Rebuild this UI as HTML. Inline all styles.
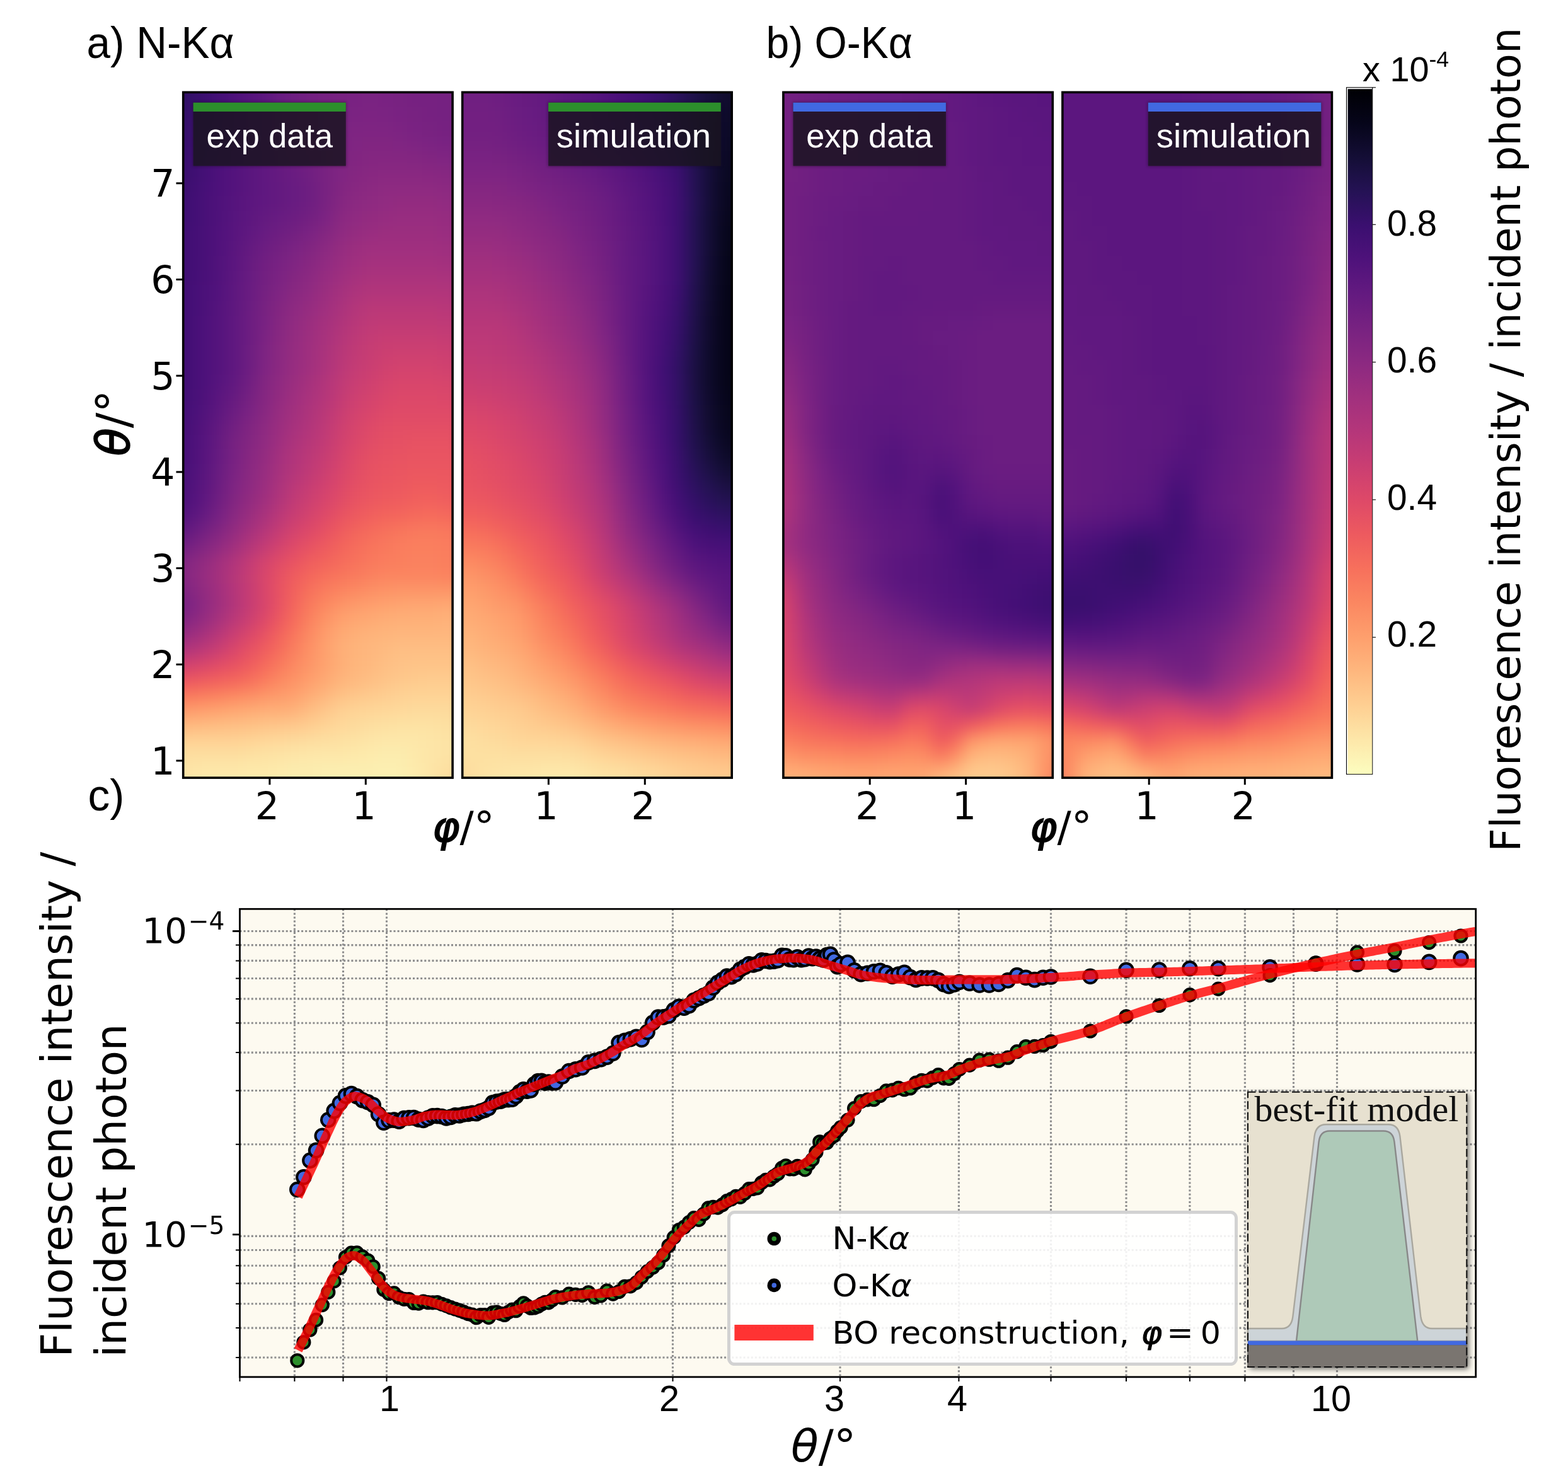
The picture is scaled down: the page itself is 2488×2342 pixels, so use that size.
<!DOCTYPE html>
<html><head><meta charset="utf-8"><title>Figure</title>
<style>
html,body{margin:0;padding:0;background:#fff;}
svg{display:block}
text{white-space:pre}
.hm rect{width:25px;height:25px}
.dj{font-family:"DejaVu Sans","Liberation Sans",sans-serif}
.ls{font-family:"Liberation Sans","DejaVu Sans",sans-serif}
.lr{font-family:"Liberation Serif","DejaVu Serif",serif}
</style></head><body>
<svg width="2488" height="2342" viewBox="0 0 2488 2342">
<rect width="2488" height="2342" fill="#fff"/>
<defs>
<filter id="bl" x="-10%" y="-5%" width="120%" height="110%" color-interpolation-filters="sRGB"><feGaussianBlur stdDeviation="11"/></filter>
<filter id="sh" x="-20%" y="-20%" width="140%" height="140%"><feGaussianBlur stdDeviation="2.2"/></filter>
<filter id="sh2" x="-20%" y="-20%" width="140%" height="140%"><feGaussianBlur stdDeviation="5"/></filter>
<clipPath id="cP1"><rect x="290.7" y="146.4" width="427.4" height="1087.7"/></clipPath>
<clipPath id="cP2"><rect x="733.7" y="146.4" width="427.5" height="1087.7"/></clipPath>
<clipPath id="cP3"><rect x="1242.9" y="146.4" width="427.4" height="1087.7"/></clipPath>
<clipPath id="cP4"><rect x="1685.9" y="146.4" width="427.5" height="1087.7"/></clipPath>
<linearGradient id="cb" x1="0" y1="0" x2="0" y2="1"><stop offset="0.00" stop-color="#000004"/><stop offset="0.05" stop-color="#06051a"/><stop offset="0.10" stop-color="#140e36"/><stop offset="0.15" stop-color="#251255"/><stop offset="0.20" stop-color="#3b0f70"/><stop offset="0.25" stop-color="#4f127b"/><stop offset="0.30" stop-color="#641a80"/><stop offset="0.35" stop-color="#782281"/><stop offset="0.40" stop-color="#8c2981"/><stop offset="0.45" stop-color="#a1307e"/><stop offset="0.50" stop-color="#b5367a"/><stop offset="0.55" stop-color="#ca3e72"/><stop offset="0.60" stop-color="#de4968"/><stop offset="0.65" stop-color="#ed5a5f"/><stop offset="0.70" stop-color="#f7705c"/><stop offset="0.75" stop-color="#fb8761"/><stop offset="0.80" stop-color="#fe9f6d"/><stop offset="0.85" stop-color="#feb77e"/><stop offset="0.90" stop-color="#fecf92"/><stop offset="0.95" stop-color="#fde7a9"/><stop offset="1.00" stop-color="#fcfdbf"/></linearGradient>
<clipPath id="cplot"><rect x="380.5" y="1442.3" width="1961.2" height="742.6"/></clipPath>
</defs>
<g clip-path="url(#cP1)"><g filter="url(#bl)" shape-rendering="crispEdges" class="hm">
<g transform="translate(0 99)"><rect x="243" fill="#2d1161"/><rect x="266" fill="#2d1161"/><rect x="290" fill="#331067"/><rect x="314" fill="#3d0f71"/><rect x="338" fill="#451077"/><rect x="361" fill="#4e117b"/><rect x="385" fill="#56147d"/><rect x="409" fill="#5d177f"/><rect x="433" fill="#671b80"/><rect x="456" fill="#6e1e81"/><rect x="480" fill="#721f81"/><rect x="504" fill="#752181"/><rect x="528" fill="#782281"/><rect x="551" fill="#792282"/><rect x="575" fill="#792282"/><rect x="599" fill="#792282"/><rect x="623" fill="#782281"/><rect x="646" fill="#762181"/><rect x="670" fill="#762181"/><rect x="694" fill="#752181"/><rect x="718" fill="#752181"/><rect x="741" fill="#752181"/></g>
<g transform="translate(0 122)"><rect x="243" fill="#2d1161"/><rect x="266" fill="#2d1161"/><rect x="290" fill="#331067"/><rect x="314" fill="#3d0f71"/><rect x="338" fill="#451077"/><rect x="361" fill="#4e117b"/><rect x="385" fill="#56147d"/><rect x="409" fill="#5d177f"/><rect x="433" fill="#671b80"/><rect x="456" fill="#6e1e81"/><rect x="480" fill="#721f81"/><rect x="504" fill="#752181"/><rect x="528" fill="#782281"/><rect x="551" fill="#792282"/><rect x="575" fill="#792282"/><rect x="599" fill="#792282"/><rect x="623" fill="#782281"/><rect x="646" fill="#762181"/><rect x="670" fill="#762181"/><rect x="694" fill="#752181"/><rect x="718" fill="#752181"/><rect x="741" fill="#752181"/></g>
<g transform="translate(0 146)"><rect x="243" fill="#2f1163"/><rect x="266" fill="#2f1163"/><rect x="290" fill="#341069"/><rect x="314" fill="#3d0f71"/><rect x="338" fill="#451077"/><rect x="361" fill="#4e117b"/><rect x="385" fill="#56147d"/><rect x="409" fill="#5d177f"/><rect x="433" fill="#681c81"/><rect x="456" fill="#6e1e81"/><rect x="480" fill="#732081"/><rect x="504" fill="#762181"/><rect x="528" fill="#782281"/><rect x="551" fill="#792282"/><rect x="575" fill="#7b2382"/><rect x="599" fill="#792282"/><rect x="623" fill="#782281"/><rect x="646" fill="#762181"/><rect x="670" fill="#762181"/><rect x="694" fill="#752181"/><rect x="718" fill="#752181"/><rect x="741" fill="#752181"/></g>
<g transform="translate(0 170)"><rect x="243" fill="#311165"/><rect x="266" fill="#311165"/><rect x="290" fill="#36106b"/><rect x="314" fill="#3f0f72"/><rect x="338" fill="#491078"/><rect x="361" fill="#51127c"/><rect x="385" fill="#59157e"/><rect x="409" fill="#601880"/><rect x="433" fill="#6a1c81"/><rect x="456" fill="#721f81"/><rect x="480" fill="#762181"/><rect x="504" fill="#792282"/><rect x="528" fill="#792282"/><rect x="551" fill="#7b2382"/><rect x="575" fill="#7c2382"/><rect x="599" fill="#7b2382"/><rect x="623" fill="#792282"/><rect x="646" fill="#782281"/><rect x="670" fill="#762181"/><rect x="694" fill="#752181"/><rect x="718" fill="#752181"/><rect x="741" fill="#752181"/></g>
<g transform="translate(0 193)"><rect x="243" fill="#331067"/><rect x="266" fill="#331067"/><rect x="290" fill="#38106c"/><rect x="314" fill="#400f74"/><rect x="338" fill="#4a1079"/><rect x="361" fill="#51127c"/><rect x="385" fill="#59157e"/><rect x="409" fill="#601880"/><rect x="433" fill="#6a1c81"/><rect x="456" fill="#721f81"/><rect x="480" fill="#762181"/><rect x="504" fill="#792282"/><rect x="528" fill="#7c2382"/><rect x="551" fill="#7e2482"/><rect x="575" fill="#7e2482"/><rect x="599" fill="#7e2482"/><rect x="623" fill="#7c2382"/><rect x="646" fill="#792282"/><rect x="670" fill="#782281"/><rect x="694" fill="#762181"/><rect x="718" fill="#762181"/><rect x="741" fill="#762181"/></g>
<g transform="translate(0 217)"><rect x="243" fill="#341069"/><rect x="266" fill="#341069"/><rect x="290" fill="#390f6e"/><rect x="314" fill="#420f75"/><rect x="338" fill="#4a1079"/><rect x="361" fill="#52137c"/><rect x="385" fill="#5a167e"/><rect x="409" fill="#601880"/><rect x="433" fill="#6a1c81"/><rect x="456" fill="#701f81"/><rect x="480" fill="#752181"/><rect x="504" fill="#792282"/><rect x="528" fill="#7c2382"/><rect x="551" fill="#802582"/><rect x="575" fill="#812581"/><rect x="599" fill="#812581"/><rect x="623" fill="#802582"/><rect x="646" fill="#7e2482"/><rect x="670" fill="#7b2382"/><rect x="694" fill="#792282"/><rect x="718" fill="#792282"/><rect x="741" fill="#792282"/></g>
<g transform="translate(0 240)"><rect x="243" fill="#36106b"/><rect x="266" fill="#36106b"/><rect x="290" fill="#3b0f70"/><rect x="314" fill="#451077"/><rect x="338" fill="#4c117a"/><rect x="361" fill="#52137c"/><rect x="385" fill="#5a167e"/><rect x="409" fill="#601880"/><rect x="433" fill="#671b80"/><rect x="456" fill="#6d1d81"/><rect x="480" fill="#732081"/><rect x="504" fill="#782281"/><rect x="528" fill="#7e2482"/><rect x="551" fill="#812581"/><rect x="575" fill="#842681"/><rect x="599" fill="#842681"/><rect x="623" fill="#842681"/><rect x="646" fill="#832681"/><rect x="670" fill="#812581"/><rect x="694" fill="#802582"/><rect x="718" fill="#7e2482"/><rect x="741" fill="#7e2482"/></g>
<g transform="translate(0 264)"><rect x="243" fill="#38106c"/><rect x="266" fill="#38106c"/><rect x="290" fill="#3d0f71"/><rect x="314" fill="#451077"/><rect x="338" fill="#4e117b"/><rect x="361" fill="#54137d"/><rect x="385" fill="#5a167e"/><rect x="409" fill="#601880"/><rect x="433" fill="#651a80"/><rect x="456" fill="#6a1c81"/><rect x="480" fill="#701f81"/><rect x="504" fill="#782281"/><rect x="528" fill="#802582"/><rect x="551" fill="#842681"/><rect x="575" fill="#882781"/><rect x="599" fill="#892881"/><rect x="623" fill="#892881"/><rect x="646" fill="#892881"/><rect x="670" fill="#882781"/><rect x="694" fill="#862781"/><rect x="718" fill="#842681"/><rect x="741" fill="#842681"/></g>
<g transform="translate(0 288)"><rect x="243" fill="#390f6e"/><rect x="266" fill="#390f6e"/><rect x="290" fill="#3f0f72"/><rect x="314" fill="#471078"/><rect x="338" fill="#4e117b"/><rect x="361" fill="#54137d"/><rect x="385" fill="#5a167e"/><rect x="409" fill="#601880"/><rect x="433" fill="#641a80"/><rect x="456" fill="#681c81"/><rect x="480" fill="#6e1e81"/><rect x="504" fill="#782281"/><rect x="528" fill="#812581"/><rect x="551" fill="#882781"/><rect x="575" fill="#8b2981"/><rect x="599" fill="#8e2a81"/><rect x="623" fill="#8e2a81"/><rect x="646" fill="#8e2a81"/><rect x="670" fill="#8e2a81"/><rect x="694" fill="#8c2981"/><rect x="718" fill="#8b2981"/><rect x="741" fill="#8b2981"/></g>
<g transform="translate(0 311)"><rect x="243" fill="#3b0f70"/><rect x="266" fill="#3b0f70"/><rect x="290" fill="#400f74"/><rect x="314" fill="#491078"/><rect x="338" fill="#4f127b"/><rect x="361" fill="#56147d"/><rect x="385" fill="#5c167f"/><rect x="409" fill="#601880"/><rect x="433" fill="#641a80"/><rect x="456" fill="#681c81"/><rect x="480" fill="#6e1e81"/><rect x="504" fill="#782281"/><rect x="528" fill="#842681"/><rect x="551" fill="#8b2981"/><rect x="575" fill="#8e2a81"/><rect x="599" fill="#912b81"/><rect x="623" fill="#932b80"/><rect x="646" fill="#932b80"/><rect x="670" fill="#932b80"/><rect x="694" fill="#912b81"/><rect x="718" fill="#902a81"/><rect x="741" fill="#902a81"/></g>
<g transform="translate(0 335)"><rect x="243" fill="#3d0f71"/><rect x="266" fill="#3d0f71"/><rect x="290" fill="#400f74"/><rect x="314" fill="#491078"/><rect x="338" fill="#4f127b"/><rect x="361" fill="#57157e"/><rect x="385" fill="#5d177f"/><rect x="409" fill="#641a80"/><rect x="433" fill="#681c81"/><rect x="456" fill="#6d1d81"/><rect x="480" fill="#732081"/><rect x="504" fill="#7c2382"/><rect x="528" fill="#892881"/><rect x="551" fill="#902a81"/><rect x="575" fill="#932b80"/><rect x="599" fill="#962c80"/><rect x="623" fill="#982d80"/><rect x="646" fill="#982d80"/><rect x="670" fill="#982d80"/><rect x="694" fill="#962c80"/><rect x="718" fill="#942c80"/><rect x="741" fill="#942c80"/></g>
<g transform="translate(0 359)"><rect x="243" fill="#3f0f72"/><rect x="266" fill="#3f0f72"/><rect x="290" fill="#420f75"/><rect x="314" fill="#491078"/><rect x="338" fill="#51127c"/><rect x="361" fill="#59157e"/><rect x="385" fill="#601880"/><rect x="409" fill="#681c81"/><rect x="433" fill="#6e1e81"/><rect x="456" fill="#732081"/><rect x="480" fill="#7b2382"/><rect x="504" fill="#832681"/><rect x="528" fill="#8e2a81"/><rect x="551" fill="#942c80"/><rect x="575" fill="#992d80"/><rect x="599" fill="#9b2e7f"/><rect x="623" fill="#9b2e7f"/><rect x="646" fill="#9b2e7f"/><rect x="670" fill="#9b2e7f"/><rect x="694" fill="#992d80"/><rect x="718" fill="#992d80"/><rect x="741" fill="#992d80"/></g>
<g transform="translate(0 382)"><rect x="243" fill="#3f0f72"/><rect x="266" fill="#3f0f72"/><rect x="290" fill="#420f75"/><rect x="314" fill="#491078"/><rect x="338" fill="#51127c"/><rect x="361" fill="#5a167e"/><rect x="385" fill="#641a80"/><rect x="409" fill="#6d1d81"/><rect x="433" fill="#732081"/><rect x="456" fill="#7b2382"/><rect x="480" fill="#812581"/><rect x="504" fill="#8b2981"/><rect x="528" fill="#942c80"/><rect x="551" fill="#9b2e7f"/><rect x="575" fill="#a02f7f"/><rect x="599" fill="#a02f7f"/><rect x="623" fill="#a02f7f"/><rect x="646" fill="#a02f7f"/><rect x="670" fill="#a02f7f"/><rect x="694" fill="#9e2f7f"/><rect x="718" fill="#9e2f7f"/><rect x="741" fill="#9e2f7f"/></g>
<g transform="translate(0 406)"><rect x="243" fill="#3f0f72"/><rect x="266" fill="#3f0f72"/><rect x="290" fill="#420f75"/><rect x="314" fill="#491078"/><rect x="338" fill="#52137c"/><rect x="361" fill="#5c167f"/><rect x="385" fill="#671b80"/><rect x="409" fill="#721f81"/><rect x="433" fill="#792282"/><rect x="456" fill="#802582"/><rect x="480" fill="#882781"/><rect x="504" fill="#912b81"/><rect x="528" fill="#992d80"/><rect x="551" fill="#a02f7f"/><rect x="575" fill="#a5317e"/><rect x="599" fill="#a5317e"/><rect x="623" fill="#a5317e"/><rect x="646" fill="#a5317e"/><rect x="670" fill="#a5317e"/><rect x="694" fill="#a3307e"/><rect x="718" fill="#a3307e"/><rect x="741" fill="#a3307e"/></g>
<g transform="translate(0 430)"><rect x="243" fill="#3f0f72"/><rect x="266" fill="#3f0f72"/><rect x="290" fill="#420f75"/><rect x="314" fill="#4a1079"/><rect x="338" fill="#52137c"/><rect x="361" fill="#5d177f"/><rect x="385" fill="#681c81"/><rect x="409" fill="#732081"/><rect x="433" fill="#7c2382"/><rect x="456" fill="#842681"/><rect x="480" fill="#8c2981"/><rect x="504" fill="#962c80"/><rect x="528" fill="#9e2f7f"/><rect x="551" fill="#a6317d"/><rect x="575" fill="#ab337c"/><rect x="599" fill="#ab337c"/><rect x="623" fill="#ab337c"/><rect x="646" fill="#ab337c"/><rect x="670" fill="#ab337c"/><rect x="694" fill="#aa337d"/><rect x="718" fill="#aa337d"/><rect x="741" fill="#aa337d"/></g>
<g transform="translate(0 453)"><rect x="243" fill="#3f0f72"/><rect x="266" fill="#3f0f72"/><rect x="290" fill="#440f76"/><rect x="314" fill="#4c117a"/><rect x="338" fill="#54137d"/><rect x="361" fill="#5f187f"/><rect x="385" fill="#6a1c81"/><rect x="409" fill="#762181"/><rect x="433" fill="#802582"/><rect x="456" fill="#892881"/><rect x="480" fill="#912b81"/><rect x="504" fill="#9b2e7f"/><rect x="528" fill="#a5317e"/><rect x="551" fill="#ad347c"/><rect x="575" fill="#b2357b"/><rect x="599" fill="#b2357b"/><rect x="623" fill="#b2357b"/><rect x="646" fill="#b2357b"/><rect x="670" fill="#b2357b"/><rect x="694" fill="#b2357b"/><rect x="718" fill="#b0357b"/><rect x="741" fill="#b0357b"/></g>
<g transform="translate(0 477)"><rect x="243" fill="#3f0f72"/><rect x="266" fill="#3f0f72"/><rect x="290" fill="#440f76"/><rect x="314" fill="#4c117a"/><rect x="338" fill="#56147d"/><rect x="361" fill="#5f187f"/><rect x="385" fill="#6b1d81"/><rect x="409" fill="#782281"/><rect x="433" fill="#842681"/><rect x="456" fill="#8e2a81"/><rect x="480" fill="#962c80"/><rect x="504" fill="#a02f7f"/><rect x="528" fill="#aa337d"/><rect x="551" fill="#b3367a"/><rect x="575" fill="#ba3878"/><rect x="599" fill="#ba3878"/><rect x="623" fill="#ba3878"/><rect x="646" fill="#ba3878"/><rect x="670" fill="#ba3878"/><rect x="694" fill="#b83779"/><rect x="718" fill="#b83779"/><rect x="741" fill="#b83779"/></g>
<g transform="translate(0 501)"><rect x="243" fill="#3f0f72"/><rect x="266" fill="#3f0f72"/><rect x="290" fill="#440f76"/><rect x="314" fill="#4e117b"/><rect x="338" fill="#56147d"/><rect x="361" fill="#601880"/><rect x="385" fill="#6d1d81"/><rect x="409" fill="#792282"/><rect x="433" fill="#862781"/><rect x="456" fill="#912b81"/><rect x="480" fill="#9b2e7f"/><rect x="504" fill="#a5317e"/><rect x="528" fill="#ae347b"/><rect x="551" fill="#b83779"/><rect x="575" fill="#bf3a77"/><rect x="599" fill="#c03a76"/><rect x="623" fill="#c03a76"/><rect x="646" fill="#c03a76"/><rect x="670" fill="#c03a76"/><rect x="694" fill="#bf3a77"/><rect x="718" fill="#bf3a77"/><rect x="741" fill="#bf3a77"/></g>
<g transform="translate(0 524)"><rect x="243" fill="#3f0f72"/><rect x="266" fill="#3f0f72"/><rect x="290" fill="#440f76"/><rect x="314" fill="#4e117b"/><rect x="338" fill="#56147d"/><rect x="361" fill="#601880"/><rect x="385" fill="#6d1d81"/><rect x="409" fill="#7c2382"/><rect x="433" fill="#892881"/><rect x="456" fill="#942c80"/><rect x="480" fill="#9e2f7f"/><rect x="504" fill="#a8327d"/><rect x="528" fill="#b3367a"/><rect x="551" fill="#bd3977"/><rect x="575" fill="#c43c75"/><rect x="599" fill="#c73d73"/><rect x="623" fill="#c73d73"/><rect x="646" fill="#c73d73"/><rect x="670" fill="#c73d73"/><rect x="694" fill="#c53c74"/><rect x="718" fill="#c53c74"/><rect x="741" fill="#c53c74"/></g>
<g transform="translate(0 548)"><rect x="243" fill="#3f0f72"/><rect x="266" fill="#3f0f72"/><rect x="290" fill="#440f76"/><rect x="314" fill="#4e117b"/><rect x="338" fill="#56147d"/><rect x="361" fill="#601880"/><rect x="385" fill="#6e1e81"/><rect x="409" fill="#7e2482"/><rect x="433" fill="#8b2981"/><rect x="456" fill="#962c80"/><rect x="480" fill="#a02f7f"/><rect x="504" fill="#ab337c"/><rect x="528" fill="#b73779"/><rect x="551" fill="#c03a76"/><rect x="575" fill="#c73d73"/><rect x="599" fill="#cc3f71"/><rect x="623" fill="#cd4071"/><rect x="646" fill="#cd4071"/><rect x="670" fill="#cd4071"/><rect x="694" fill="#cc3f71"/><rect x="718" fill="#ca3e72"/><rect x="741" fill="#ca3e72"/></g>
<g transform="translate(0 572)"><rect x="243" fill="#3f0f72"/><rect x="266" fill="#3f0f72"/><rect x="290" fill="#440f76"/><rect x="314" fill="#4e117b"/><rect x="338" fill="#56147d"/><rect x="361" fill="#601880"/><rect x="385" fill="#6e1e81"/><rect x="409" fill="#802582"/><rect x="433" fill="#8c2981"/><rect x="456" fill="#982d80"/><rect x="480" fill="#a1307e"/><rect x="504" fill="#ad347c"/><rect x="528" fill="#ba3878"/><rect x="551" fill="#c43c75"/><rect x="575" fill="#ca3e72"/><rect x="599" fill="#d0416f"/><rect x="623" fill="#d3436e"/><rect x="646" fill="#d3436e"/><rect x="670" fill="#d3436e"/><rect x="694" fill="#d0416f"/><rect x="718" fill="#cf4070"/><rect x="741" fill="#cf4070"/></g>
<g transform="translate(0 595)"><rect x="243" fill="#3f0f72"/><rect x="266" fill="#3f0f72"/><rect x="290" fill="#440f76"/><rect x="314" fill="#4e117b"/><rect x="338" fill="#57157e"/><rect x="361" fill="#621980"/><rect x="385" fill="#721f81"/><rect x="409" fill="#832681"/><rect x="433" fill="#902a81"/><rect x="456" fill="#9b2e7f"/><rect x="480" fill="#a6317d"/><rect x="504" fill="#b2357b"/><rect x="528" fill="#bf3a77"/><rect x="551" fill="#c83e73"/><rect x="575" fill="#cf4070"/><rect x="599" fill="#d5446d"/><rect x="623" fill="#d8456c"/><rect x="646" fill="#d8456c"/><rect x="670" fill="#d8456c"/><rect x="694" fill="#d6456c"/><rect x="718" fill="#d5446d"/><rect x="741" fill="#d5446d"/></g>
<g transform="translate(0 619)"><rect x="243" fill="#400f74"/><rect x="266" fill="#400f74"/><rect x="290" fill="#451077"/><rect x="314" fill="#4f127b"/><rect x="338" fill="#5c167f"/><rect x="361" fill="#671b80"/><rect x="385" fill="#762181"/><rect x="409" fill="#862781"/><rect x="433" fill="#932b80"/><rect x="456" fill="#a02f7f"/><rect x="480" fill="#aa337d"/><rect x="504" fill="#b5367a"/><rect x="528" fill="#c23b75"/><rect x="551" fill="#cd4071"/><rect x="575" fill="#d3436e"/><rect x="599" fill="#d9466b"/><rect x="623" fill="#dc4869"/><rect x="646" fill="#dc4869"/><rect x="670" fill="#dc4869"/><rect x="694" fill="#db476a"/><rect x="718" fill="#d9466b"/><rect x="741" fill="#d9466b"/></g>
<g transform="translate(0 642)"><rect x="243" fill="#420f75"/><rect x="266" fill="#420f75"/><rect x="290" fill="#471078"/><rect x="314" fill="#52137c"/><rect x="338" fill="#5f187f"/><rect x="361" fill="#6d1d81"/><rect x="385" fill="#7b2382"/><rect x="409" fill="#892881"/><rect x="433" fill="#982d80"/><rect x="456" fill="#a3307e"/><rect x="480" fill="#ae347b"/><rect x="504" fill="#ba3878"/><rect x="528" fill="#c73d73"/><rect x="551" fill="#d2426f"/><rect x="575" fill="#d8456c"/><rect x="599" fill="#de4968"/><rect x="623" fill="#df4a68"/><rect x="646" fill="#df4a68"/><rect x="670" fill="#df4a68"/><rect x="694" fill="#df4a68"/><rect x="718" fill="#df4a68"/><rect x="741" fill="#df4a68"/></g>
<g transform="translate(0 666)"><rect x="243" fill="#420f75"/><rect x="266" fill="#420f75"/><rect x="290" fill="#491078"/><rect x="314" fill="#56147d"/><rect x="338" fill="#641a80"/><rect x="361" fill="#732081"/><rect x="385" fill="#812581"/><rect x="409" fill="#8e2a81"/><rect x="433" fill="#9c2e7f"/><rect x="456" fill="#a8327d"/><rect x="480" fill="#b2357b"/><rect x="504" fill="#bf3a77"/><rect x="528" fill="#cc3f71"/><rect x="551" fill="#d6456c"/><rect x="575" fill="#de4968"/><rect x="599" fill="#e24d66"/><rect x="623" fill="#e34e65"/><rect x="646" fill="#e34e65"/><rect x="670" fill="#e34e65"/><rect x="694" fill="#e34e65"/><rect x="718" fill="#e34e65"/><rect x="741" fill="#e34e65"/></g>
<g transform="translate(0 690)"><rect x="243" fill="#440f76"/><rect x="266" fill="#440f76"/><rect x="290" fill="#4a1079"/><rect x="314" fill="#57157e"/><rect x="338" fill="#671b80"/><rect x="361" fill="#782281"/><rect x="385" fill="#842681"/><rect x="409" fill="#912b81"/><rect x="433" fill="#a02f7f"/><rect x="456" fill="#ad347c"/><rect x="480" fill="#b73779"/><rect x="504" fill="#c23b75"/><rect x="528" fill="#d0416f"/><rect x="551" fill="#d9466b"/><rect x="575" fill="#e04c67"/><rect x="599" fill="#e44f64"/><rect x="623" fill="#e55064"/><rect x="646" fill="#e75263"/><rect x="670" fill="#e75263"/><rect x="694" fill="#e75263"/><rect x="718" fill="#e55064"/><rect x="741" fill="#e55064"/></g>
<g transform="translate(0 713)"><rect x="243" fill="#451077"/><rect x="266" fill="#451077"/><rect x="290" fill="#4a1079"/><rect x="314" fill="#59157e"/><rect x="338" fill="#681c81"/><rect x="361" fill="#792282"/><rect x="385" fill="#882781"/><rect x="409" fill="#942c80"/><rect x="433" fill="#a5317e"/><rect x="456" fill="#b2357b"/><rect x="480" fill="#bc3978"/><rect x="504" fill="#c73d73"/><rect x="528" fill="#d3436e"/><rect x="551" fill="#de4968"/><rect x="575" fill="#e44f64"/><rect x="599" fill="#e75263"/><rect x="623" fill="#e85362"/><rect x="646" fill="#e95462"/><rect x="670" fill="#e95462"/><rect x="694" fill="#e95462"/><rect x="718" fill="#e85362"/><rect x="741" fill="#e85362"/></g>
<g transform="translate(0 737)"><rect x="243" fill="#451077"/><rect x="266" fill="#451077"/><rect x="290" fill="#4c117a"/><rect x="314" fill="#5a167e"/><rect x="338" fill="#6b1d81"/><rect x="361" fill="#7c2382"/><rect x="385" fill="#8b2981"/><rect x="409" fill="#982d80"/><rect x="433" fill="#a8327d"/><rect x="456" fill="#b5367a"/><rect x="480" fill="#c03a76"/><rect x="504" fill="#cc3f71"/><rect x="528" fill="#d8456c"/><rect x="551" fill="#e04c67"/><rect x="575" fill="#e75263"/><rect x="599" fill="#e95462"/><rect x="623" fill="#ea5661"/><rect x="646" fill="#eb5760"/><rect x="670" fill="#eb5760"/><rect x="694" fill="#eb5760"/><rect x="718" fill="#ea5661"/><rect x="741" fill="#ea5661"/></g>
<g transform="translate(0 761)"><rect x="243" fill="#471078"/><rect x="266" fill="#471078"/><rect x="290" fill="#4f127b"/><rect x="314" fill="#5d177f"/><rect x="338" fill="#6e1e81"/><rect x="361" fill="#802582"/><rect x="385" fill="#8e2a81"/><rect x="409" fill="#9c2e7f"/><rect x="433" fill="#ad347c"/><rect x="456" fill="#bc3978"/><rect x="480" fill="#c73d73"/><rect x="504" fill="#d2426f"/><rect x="528" fill="#dc4869"/><rect x="551" fill="#e44f64"/><rect x="575" fill="#e95462"/><rect x="599" fill="#eb5760"/><rect x="623" fill="#ec5860"/><rect x="646" fill="#ee5b5e"/><rect x="670" fill="#ee5b5e"/><rect x="694" fill="#ed5a5f"/><rect x="718" fill="#ec5860"/><rect x="741" fill="#ec5860"/></g>
<g transform="translate(0 784)"><rect x="243" fill="#491078"/><rect x="266" fill="#491078"/><rect x="290" fill="#51127c"/><rect x="314" fill="#601880"/><rect x="338" fill="#721f81"/><rect x="361" fill="#832681"/><rect x="385" fill="#932b80"/><rect x="409" fill="#a1307e"/><rect x="433" fill="#b3367a"/><rect x="456" fill="#c23b75"/><rect x="480" fill="#cd4071"/><rect x="504" fill="#d8456c"/><rect x="528" fill="#e04c67"/><rect x="551" fill="#e85362"/><rect x="575" fill="#ec5860"/><rect x="599" fill="#ee5b5e"/><rect x="623" fill="#ef5d5e"/><rect x="646" fill="#f1605d"/><rect x="670" fill="#f2625d"/><rect x="694" fill="#f05f5e"/><rect x="718" fill="#ef5d5e"/><rect x="741" fill="#ef5d5e"/></g>
<g transform="translate(0 808)"><rect x="243" fill="#51127c"/><rect x="266" fill="#51127c"/><rect x="290" fill="#59157e"/><rect x="314" fill="#681c81"/><rect x="338" fill="#792282"/><rect x="361" fill="#8b2981"/><rect x="385" fill="#9b2e7f"/><rect x="409" fill="#ab337c"/><rect x="433" fill="#bc3978"/><rect x="456" fill="#ca3e72"/><rect x="480" fill="#d5446d"/><rect x="504" fill="#df4a68"/><rect x="528" fill="#e85362"/><rect x="551" fill="#ed5a5f"/><rect x="575" fill="#f1605d"/><rect x="599" fill="#f3655c"/><rect x="623" fill="#f4675c"/><rect x="646" fill="#f56b5c"/><rect x="670" fill="#f66c5c"/><rect x="694" fill="#f56b5c"/><rect x="718" fill="#f4675c"/><rect x="741" fill="#f4675c"/></g>
<g transform="translate(0 832)"><rect x="243" fill="#5f187f"/><rect x="266" fill="#5f187f"/><rect x="290" fill="#651a80"/><rect x="314" fill="#752181"/><rect x="338" fill="#842681"/><rect x="361" fill="#942c80"/><rect x="385" fill="#a6317d"/><rect x="409" fill="#b73779"/><rect x="433" fill="#c73d73"/><rect x="456" fill="#d5446d"/><rect x="480" fill="#de4968"/><rect x="504" fill="#e75263"/><rect x="528" fill="#ee5b5e"/><rect x="551" fill="#f2645c"/><rect x="575" fill="#f56b5c"/><rect x="599" fill="#f7725c"/><rect x="623" fill="#f8765c"/><rect x="646" fill="#f9795d"/><rect x="670" fill="#f97b5d"/><rect x="694" fill="#f9785d"/><rect x="718" fill="#f8765c"/><rect x="741" fill="#f8765c"/></g>
<g transform="translate(0 855)"><rect x="243" fill="#6d1d81"/><rect x="266" fill="#6d1d81"/><rect x="290" fill="#752181"/><rect x="314" fill="#832681"/><rect x="338" fill="#912b81"/><rect x="361" fill="#a1307e"/><rect x="385" fill="#b3367a"/><rect x="409" fill="#c43c75"/><rect x="433" fill="#d3436e"/><rect x="456" fill="#df4a68"/><rect x="480" fill="#e75263"/><rect x="504" fill="#ed5a5f"/><rect x="528" fill="#f2645c"/><rect x="551" fill="#f66c5c"/><rect x="575" fill="#f8745c"/><rect x="599" fill="#f9785d"/><rect x="623" fill="#fa7d5e"/><rect x="646" fill="#fa7f5e"/><rect x="670" fill="#fa7f5e"/><rect x="694" fill="#fa7d5e"/><rect x="718" fill="#f97b5d"/><rect x="741" fill="#f97b5d"/></g>
<g transform="translate(0 879)"><rect x="243" fill="#7e2482"/><rect x="266" fill="#7e2482"/><rect x="290" fill="#862781"/><rect x="314" fill="#932b80"/><rect x="338" fill="#a3307e"/><rect x="361" fill="#b2357b"/><rect x="385" fill="#c43c75"/><rect x="409" fill="#d5446d"/><rect x="433" fill="#e04c67"/><rect x="456" fill="#e95462"/><rect x="480" fill="#ef5d5e"/><rect x="504" fill="#f2645c"/><rect x="528" fill="#f56b5c"/><rect x="551" fill="#f7725c"/><rect x="575" fill="#f9785d"/><rect x="599" fill="#fa7d5e"/><rect x="623" fill="#fa7f5e"/><rect x="646" fill="#fa815f"/><rect x="670" fill="#fa815f"/><rect x="694" fill="#fa7f5e"/><rect x="718" fill="#fa7d5e"/><rect x="741" fill="#fa7d5e"/></g>
<g transform="translate(0 903)"><rect x="243" fill="#832681"/><rect x="266" fill="#832681"/><rect x="290" fill="#892881"/><rect x="314" fill="#982d80"/><rect x="338" fill="#a6317d"/><rect x="361" fill="#b73779"/><rect x="385" fill="#c83e73"/><rect x="409" fill="#d9466b"/><rect x="433" fill="#e75263"/><rect x="456" fill="#ef5d5e"/><rect x="480" fill="#f4675c"/><rect x="504" fill="#f7705c"/><rect x="528" fill="#f8765c"/><rect x="551" fill="#f97b5d"/><rect x="575" fill="#fa815f"/><rect x="599" fill="#fb8560"/><rect x="623" fill="#fb8560"/><rect x="646" fill="#fb8560"/><rect x="670" fill="#fb8560"/><rect x="694" fill="#fb835f"/><rect x="718" fill="#fb835f"/><rect x="741" fill="#fb835f"/></g>
<g transform="translate(0 926)"><rect x="243" fill="#7b2382"/><rect x="266" fill="#7b2382"/><rect x="290" fill="#832681"/><rect x="314" fill="#932b80"/><rect x="338" fill="#a3307e"/><rect x="361" fill="#b5367a"/><rect x="385" fill="#c73d73"/><rect x="409" fill="#d9466b"/><rect x="433" fill="#e85362"/><rect x="456" fill="#f2625d"/><rect x="480" fill="#f7725c"/><rect x="504" fill="#fa7d5e"/><rect x="528" fill="#fb8560"/><rect x="551" fill="#fc8a62"/><rect x="575" fill="#fc9065"/><rect x="599" fill="#fd9467"/><rect x="623" fill="#fd9668"/><rect x="646" fill="#fd9668"/><rect x="670" fill="#fd9668"/><rect x="694" fill="#fd9668"/><rect x="718" fill="#fd9869"/><rect x="741" fill="#fd9869"/></g>
<g transform="translate(0 950)"><rect x="243" fill="#752181"/><rect x="266" fill="#752181"/><rect x="290" fill="#7c2382"/><rect x="314" fill="#902a81"/><rect x="338" fill="#a1307e"/><rect x="361" fill="#b3367a"/><rect x="385" fill="#c73d73"/><rect x="409" fill="#d8456c"/><rect x="433" fill="#e95462"/><rect x="456" fill="#f4675c"/><rect x="480" fill="#f97b5d"/><rect x="504" fill="#fc8961"/><rect x="528" fill="#fd9467"/><rect x="551" fill="#fd9b6b"/><rect x="575" fill="#fe9f6d"/><rect x="599" fill="#fea36f"/><rect x="623" fill="#fea571"/><rect x="646" fill="#fea772"/><rect x="670" fill="#fea772"/><rect x="694" fill="#fea973"/><rect x="718" fill="#fea973"/><rect x="741" fill="#fea973"/></g>
<g transform="translate(0 973)"><rect x="243" fill="#7e2482"/><rect x="266" fill="#7e2482"/><rect x="290" fill="#882781"/><rect x="314" fill="#982d80"/><rect x="338" fill="#aa337d"/><rect x="361" fill="#bc3978"/><rect x="385" fill="#cd4071"/><rect x="409" fill="#df4a68"/><rect x="433" fill="#ed5a5f"/><rect x="456" fill="#f66e5c"/><rect x="480" fill="#fb835f"/><rect x="504" fill="#fd9467"/><rect x="528" fill="#fea16e"/><rect x="551" fill="#fea772"/><rect x="575" fill="#feaa74"/><rect x="599" fill="#feae77"/><rect x="623" fill="#feb078"/><rect x="646" fill="#feb078"/><rect x="670" fill="#feb078"/><rect x="694" fill="#feb27a"/><rect x="718" fill="#feb27a"/><rect x="741" fill="#feb27a"/></g>
<g transform="translate(0 997)"><rect x="243" fill="#962c80"/><rect x="266" fill="#962c80"/><rect x="290" fill="#9c2e7f"/><rect x="314" fill="#ab337c"/><rect x="338" fill="#bc3978"/><rect x="361" fill="#cd4071"/><rect x="385" fill="#dc4869"/><rect x="409" fill="#e95462"/><rect x="433" fill="#f3655c"/><rect x="456" fill="#f9785d"/><rect x="480" fill="#fc8c63"/><rect x="504" fill="#fe9d6c"/><rect x="528" fill="#feaa74"/><rect x="551" fill="#feb078"/><rect x="575" fill="#feb47b"/><rect x="599" fill="#feb67c"/><rect x="623" fill="#feb77e"/><rect x="646" fill="#feb77e"/><rect x="670" fill="#feb77e"/><rect x="694" fill="#feb77e"/><rect x="718" fill="#feb77e"/><rect x="741" fill="#feb77e"/></g>
<g transform="translate(0 1021)"><rect x="243" fill="#b0357b"/><rect x="266" fill="#b0357b"/><rect x="290" fill="#b5367a"/><rect x="314" fill="#c03a76"/><rect x="338" fill="#cd4071"/><rect x="361" fill="#db476a"/><rect x="385" fill="#e75263"/><rect x="409" fill="#f05f5e"/><rect x="433" fill="#f66e5c"/><rect x="456" fill="#fa815f"/><rect x="480" fill="#fd9266"/><rect x="504" fill="#fea16e"/><rect x="528" fill="#feae77"/><rect x="551" fill="#feb47b"/><rect x="575" fill="#feb77e"/><rect x="599" fill="#febb81"/><rect x="623" fill="#febf84"/><rect x="646" fill="#febf84"/><rect x="670" fill="#febf84"/><rect x="694" fill="#febf84"/><rect x="718" fill="#febf84"/><rect x="741" fill="#febf84"/></g>
<g transform="translate(0 1044)"><rect x="243" fill="#d0416f"/><rect x="266" fill="#d0416f"/><rect x="290" fill="#d3436e"/><rect x="314" fill="#db476a"/><rect x="338" fill="#e24d66"/><rect x="361" fill="#e85362"/><rect x="385" fill="#ef5d5e"/><rect x="409" fill="#f66c5c"/><rect x="433" fill="#f97b5d"/><rect x="456" fill="#fc8a62"/><rect x="480" fill="#fd9668"/><rect x="504" fill="#fea36f"/><rect x="528" fill="#feae77"/><rect x="551" fill="#feb67c"/><rect x="575" fill="#feb97f"/><rect x="599" fill="#febf84"/><rect x="623" fill="#fec287"/><rect x="646" fill="#fec488"/><rect x="670" fill="#fec488"/><rect x="694" fill="#fec488"/><rect x="718" fill="#fec488"/><rect x="741" fill="#fec488"/></g>
<g transform="translate(0 1068)"><rect x="243" fill="#ea5661"/><rect x="266" fill="#ea5661"/><rect x="290" fill="#ec5860"/><rect x="314" fill="#ef5d5e"/><rect x="338" fill="#f2625d"/><rect x="361" fill="#f4675c"/><rect x="385" fill="#f7705c"/><rect x="409" fill="#fa7d5e"/><rect x="433" fill="#fc8a62"/><rect x="456" fill="#fd9467"/><rect x="480" fill="#fe9f6d"/><rect x="504" fill="#fea973"/><rect x="528" fill="#feb47b"/><rect x="551" fill="#feb97f"/><rect x="575" fill="#febf84"/><rect x="599" fill="#fec488"/><rect x="623" fill="#fec88c"/><rect x="646" fill="#feca8d"/><rect x="670" fill="#fecc8f"/><rect x="694" fill="#fecc8f"/><rect x="718" fill="#fecc8f"/><rect x="741" fill="#fecc8f"/></g>
<g transform="translate(0 1092)"><rect x="243" fill="#f9785d"/><rect x="266" fill="#f9785d"/><rect x="290" fill="#f9795d"/><rect x="314" fill="#fa7f5e"/><rect x="338" fill="#fb835f"/><rect x="361" fill="#fc8961"/><rect x="385" fill="#fc8e64"/><rect x="409" fill="#fd9668"/><rect x="433" fill="#fd9b6b"/><rect x="456" fill="#fea16e"/><rect x="480" fill="#feac76"/><rect x="504" fill="#feb77e"/><rect x="528" fill="#fec185"/><rect x="551" fill="#fec68a"/><rect x="575" fill="#feca8d"/><rect x="599" fill="#fecd90"/><rect x="623" fill="#fed194"/><rect x="646" fill="#fed395"/><rect x="670" fill="#fed395"/><rect x="694" fill="#fed395"/><rect x="718" fill="#fed395"/><rect x="741" fill="#fed395"/></g>
<g transform="translate(0 1115)"><rect x="243" fill="#fd9a6a"/><rect x="266" fill="#fd9a6a"/><rect x="290" fill="#fd9b6b"/><rect x="314" fill="#fe9f6d"/><rect x="338" fill="#fea36f"/><rect x="361" fill="#fea772"/><rect x="385" fill="#feaa74"/><rect x="409" fill="#feae77"/><rect x="433" fill="#feae77"/><rect x="456" fill="#feb27a"/><rect x="480" fill="#febd82"/><rect x="504" fill="#fec68a"/><rect x="528" fill="#fecf92"/><rect x="551" fill="#fed395"/><rect x="575" fill="#fed597"/><rect x="599" fill="#fed799"/><rect x="623" fill="#fed89a"/><rect x="646" fill="#fdda9c"/><rect x="670" fill="#fdda9c"/><rect x="694" fill="#fdda9c"/><rect x="718" fill="#fed89a"/><rect x="741" fill="#fed89a"/></g>
<g transform="translate(0 1139)"><rect x="243" fill="#feb97f"/><rect x="266" fill="#feb97f"/><rect x="290" fill="#feb97f"/><rect x="314" fill="#febb81"/><rect x="338" fill="#febd82"/><rect x="361" fill="#febf84"/><rect x="385" fill="#fec185"/><rect x="409" fill="#fec488"/><rect x="433" fill="#fec68a"/><rect x="456" fill="#fec88c"/><rect x="480" fill="#fecd90"/><rect x="504" fill="#fed395"/><rect x="528" fill="#fed89a"/><rect x="551" fill="#fdda9c"/><rect x="575" fill="#fddea0"/><rect x="599" fill="#fde0a1"/><rect x="623" fill="#fde2a3"/><rect x="646" fill="#fde2a3"/><rect x="670" fill="#fde2a3"/><rect x="694" fill="#fde0a1"/><rect x="718" fill="#fddea0"/><rect x="741" fill="#fddea0"/></g>
<g transform="translate(0 1163)"><rect x="243" fill="#fed194"/><rect x="266" fill="#fed194"/><rect x="290" fill="#fed194"/><rect x="314" fill="#fed194"/><rect x="338" fill="#fed194"/><rect x="361" fill="#fed194"/><rect x="385" fill="#fed395"/><rect x="409" fill="#fed799"/><rect x="433" fill="#fed89a"/><rect x="456" fill="#fdda9c"/><rect x="480" fill="#fddc9e"/><rect x="504" fill="#fddea0"/><rect x="528" fill="#fde0a1"/><rect x="551" fill="#fde2a3"/><rect x="575" fill="#fde5a7"/><rect x="599" fill="#fde7a9"/><rect x="623" fill="#fde7a9"/><rect x="646" fill="#fde7a9"/><rect x="670" fill="#fde5a7"/><rect x="694" fill="#fde3a5"/><rect x="718" fill="#fde2a3"/><rect x="741" fill="#fde2a3"/></g>
<g transform="translate(0 1186)"><rect x="243" fill="#fddea0"/><rect x="266" fill="#fddea0"/><rect x="290" fill="#fddea0"/><rect x="314" fill="#fddea0"/><rect x="338" fill="#fddea0"/><rect x="361" fill="#fddea0"/><rect x="385" fill="#fde0a1"/><rect x="409" fill="#fde2a3"/><rect x="433" fill="#fde3a5"/><rect x="456" fill="#fde5a7"/><rect x="480" fill="#fde7a9"/><rect x="504" fill="#fde7a9"/><rect x="528" fill="#fde7a9"/><rect x="551" fill="#fde9aa"/><rect x="575" fill="#fdebac"/><rect x="599" fill="#fcecae"/><rect x="623" fill="#fcecae"/><rect x="646" fill="#fde9aa"/><rect x="670" fill="#fde5a7"/><rect x="694" fill="#fde3a5"/><rect x="718" fill="#fde2a3"/><rect x="741" fill="#fde2a3"/></g>
<g transform="translate(0 1210)"><rect x="243" fill="#fde5a7"/><rect x="266" fill="#fde5a7"/><rect x="290" fill="#fde5a7"/><rect x="314" fill="#fde7a9"/><rect x="338" fill="#fde7a9"/><rect x="361" fill="#fde7a9"/><rect x="385" fill="#fde9aa"/><rect x="409" fill="#fde9aa"/><rect x="433" fill="#fdebac"/><rect x="456" fill="#fcecae"/><rect x="480" fill="#fcecae"/><rect x="504" fill="#fceeb0"/><rect x="528" fill="#fceeb0"/><rect x="551" fill="#fceeb0"/><rect x="575" fill="#fceeb0"/><rect x="599" fill="#fcf0b2"/><rect x="623" fill="#fceeb0"/><rect x="646" fill="#fdebac"/><rect x="670" fill="#fde5a7"/><rect x="694" fill="#fde0a1"/><rect x="718" fill="#fddc9e"/><rect x="741" fill="#fddc9e"/></g>
<g transform="translate(0 1234)"><rect x="243" fill="#fde7a9"/><rect x="266" fill="#fde7a9"/><rect x="290" fill="#fde7a9"/><rect x="314" fill="#fde9aa"/><rect x="338" fill="#fdebac"/><rect x="361" fill="#fdebac"/><rect x="385" fill="#fdebac"/><rect x="409" fill="#fdebac"/><rect x="433" fill="#fcecae"/><rect x="456" fill="#fceeb0"/><rect x="480" fill="#fceeb0"/><rect x="504" fill="#fcf0b2"/><rect x="528" fill="#fcf2b4"/><rect x="551" fill="#fcf2b4"/><rect x="575" fill="#fcf0b2"/><rect x="599" fill="#fcf0b2"/><rect x="623" fill="#fcf0b2"/><rect x="646" fill="#fdebac"/><rect x="670" fill="#fde5a7"/><rect x="694" fill="#fddc9e"/><rect x="718" fill="#fed89a"/><rect x="741" fill="#fed89a"/></g>
<g transform="translate(0 1257)"><rect x="243" fill="#fde7a9"/><rect x="266" fill="#fde7a9"/><rect x="290" fill="#fde7a9"/><rect x="314" fill="#fde9aa"/><rect x="338" fill="#fdebac"/><rect x="361" fill="#fdebac"/><rect x="385" fill="#fdebac"/><rect x="409" fill="#fdebac"/><rect x="433" fill="#fcecae"/><rect x="456" fill="#fceeb0"/><rect x="480" fill="#fceeb0"/><rect x="504" fill="#fcf0b2"/><rect x="528" fill="#fcf2b4"/><rect x="551" fill="#fcf2b4"/><rect x="575" fill="#fcf0b2"/><rect x="599" fill="#fcf0b2"/><rect x="623" fill="#fcf0b2"/><rect x="646" fill="#fdebac"/><rect x="670" fill="#fde5a7"/><rect x="694" fill="#fddc9e"/><rect x="718" fill="#fed89a"/><rect x="741" fill="#fed89a"/></g>
</g></g>
<rect x="290.7" y="146.4" width="427.4" height="1087.7" fill="none" stroke="#000" stroke-width="3.6"/>
<g clip-path="url(#cP2)"><g filter="url(#bl)" shape-rendering="crispEdges" class="hm">
<g transform="translate(0 99)"><rect x="686" fill="#701f81"/><rect x="709" fill="#701f81"/><rect x="733" fill="#701f81"/><rect x="757" fill="#701f81"/><rect x="781" fill="#6e1e81"/><rect x="804" fill="#6a1c81"/><rect x="828" fill="#671b80"/><rect x="852" fill="#641a80"/><rect x="876" fill="#5f187f"/><rect x="899" fill="#5a167e"/><rect x="923" fill="#57157e"/><rect x="947" fill="#51127c"/><rect x="971" fill="#4a1079"/><rect x="994" fill="#420f75"/><rect x="1018" fill="#3b0f70"/><rect x="1042" fill="#331067"/><rect x="1066" fill="#29115a"/><rect x="1089" fill="#1e1149"/><rect x="1113" fill="#160f3b"/><rect x="1137" fill="#110c2f"/><rect x="1161" fill="#0e0b2b"/><rect x="1184" fill="#0e0b2b"/></g>
<g transform="translate(0 122)"><rect x="686" fill="#701f81"/><rect x="709" fill="#701f81"/><rect x="733" fill="#701f81"/><rect x="757" fill="#701f81"/><rect x="781" fill="#6e1e81"/><rect x="804" fill="#6a1c81"/><rect x="828" fill="#671b80"/><rect x="852" fill="#641a80"/><rect x="876" fill="#5f187f"/><rect x="899" fill="#5a167e"/><rect x="923" fill="#57157e"/><rect x="947" fill="#51127c"/><rect x="971" fill="#4a1079"/><rect x="994" fill="#420f75"/><rect x="1018" fill="#3b0f70"/><rect x="1042" fill="#331067"/><rect x="1066" fill="#29115a"/><rect x="1089" fill="#1e1149"/><rect x="1113" fill="#160f3b"/><rect x="1137" fill="#110c2f"/><rect x="1161" fill="#0e0b2b"/><rect x="1184" fill="#0e0b2b"/></g>
<g transform="translate(0 146)"><rect x="686" fill="#701f81"/><rect x="709" fill="#701f81"/><rect x="733" fill="#701f81"/><rect x="757" fill="#701f81"/><rect x="781" fill="#6e1e81"/><rect x="804" fill="#6a1c81"/><rect x="828" fill="#671b80"/><rect x="852" fill="#641a80"/><rect x="876" fill="#5f187f"/><rect x="899" fill="#5a167e"/><rect x="923" fill="#57157e"/><rect x="947" fill="#51127c"/><rect x="971" fill="#4a1079"/><rect x="994" fill="#440f76"/><rect x="1018" fill="#3d0f71"/><rect x="1042" fill="#331067"/><rect x="1066" fill="#29115a"/><rect x="1089" fill="#1e1149"/><rect x="1113" fill="#160f3b"/><rect x="1137" fill="#110c2f"/><rect x="1161" fill="#0d0a29"/><rect x="1184" fill="#0d0a29"/></g>
<g transform="translate(0 170)"><rect x="686" fill="#721f81"/><rect x="709" fill="#721f81"/><rect x="733" fill="#721f81"/><rect x="757" fill="#721f81"/><rect x="781" fill="#701f81"/><rect x="804" fill="#6b1d81"/><rect x="828" fill="#681c81"/><rect x="852" fill="#651a80"/><rect x="876" fill="#601880"/><rect x="899" fill="#5c167f"/><rect x="923" fill="#57157e"/><rect x="947" fill="#52137c"/><rect x="971" fill="#4c117a"/><rect x="994" fill="#451077"/><rect x="1018" fill="#3f0f72"/><rect x="1042" fill="#341069"/><rect x="1066" fill="#2a115c"/><rect x="1089" fill="#20114b"/><rect x="1113" fill="#150e38"/><rect x="1137" fill="#0e0b2b"/><rect x="1161" fill="#0c0926"/><rect x="1184" fill="#0c0926"/></g>
<g transform="translate(0 193)"><rect x="686" fill="#721f81"/><rect x="709" fill="#721f81"/><rect x="733" fill="#721f81"/><rect x="757" fill="#721f81"/><rect x="781" fill="#721f81"/><rect x="804" fill="#6d1d81"/><rect x="828" fill="#6a1c81"/><rect x="852" fill="#671b80"/><rect x="876" fill="#621980"/><rect x="899" fill="#5d177f"/><rect x="923" fill="#59157e"/><rect x="947" fill="#54137d"/><rect x="971" fill="#4e117b"/><rect x="994" fill="#471078"/><rect x="1018" fill="#400f74"/><rect x="1042" fill="#38106c"/><rect x="1066" fill="#2d1161"/><rect x="1089" fill="#20114b"/><rect x="1113" fill="#150e38"/><rect x="1137" fill="#0d0a29"/><rect x="1161" fill="#0b0924"/><rect x="1184" fill="#0b0924"/></g>
<g transform="translate(0 217)"><rect x="686" fill="#752181"/><rect x="709" fill="#752181"/><rect x="733" fill="#752181"/><rect x="757" fill="#752181"/><rect x="781" fill="#732081"/><rect x="804" fill="#701f81"/><rect x="828" fill="#6d1d81"/><rect x="852" fill="#6a1c81"/><rect x="876" fill="#651a80"/><rect x="899" fill="#601880"/><rect x="923" fill="#5c167f"/><rect x="947" fill="#57157e"/><rect x="971" fill="#52137c"/><rect x="994" fill="#4c117a"/><rect x="1018" fill="#440f76"/><rect x="1042" fill="#3b0f70"/><rect x="1066" fill="#311165"/><rect x="1089" fill="#21114e"/><rect x="1113" fill="#150e38"/><rect x="1137" fill="#0d0a29"/><rect x="1161" fill="#090720"/><rect x="1184" fill="#090720"/></g>
<g transform="translate(0 240)"><rect x="686" fill="#792282"/><rect x="709" fill="#792282"/><rect x="733" fill="#792282"/><rect x="757" fill="#792282"/><rect x="781" fill="#782281"/><rect x="804" fill="#752181"/><rect x="828" fill="#721f81"/><rect x="852" fill="#6e1e81"/><rect x="876" fill="#6a1c81"/><rect x="899" fill="#651a80"/><rect x="923" fill="#621980"/><rect x="947" fill="#5d177f"/><rect x="971" fill="#57157e"/><rect x="994" fill="#51127c"/><rect x="1018" fill="#4a1079"/><rect x="1042" fill="#400f74"/><rect x="1066" fill="#36106b"/><rect x="1089" fill="#221150"/><rect x="1113" fill="#150e38"/><rect x="1137" fill="#0c0926"/><rect x="1161" fill="#08071e"/><rect x="1184" fill="#08071e"/></g>
<g transform="translate(0 264)"><rect x="686" fill="#7e2482"/><rect x="709" fill="#7e2482"/><rect x="733" fill="#7e2482"/><rect x="757" fill="#7e2482"/><rect x="781" fill="#7e2482"/><rect x="804" fill="#7b2382"/><rect x="828" fill="#782281"/><rect x="852" fill="#732081"/><rect x="876" fill="#701f81"/><rect x="899" fill="#6b1d81"/><rect x="923" fill="#681c81"/><rect x="947" fill="#621980"/><rect x="971" fill="#5d177f"/><rect x="994" fill="#56147d"/><rect x="1018" fill="#4f127b"/><rect x="1042" fill="#451077"/><rect x="1066" fill="#3b0f70"/><rect x="1089" fill="#251255"/><rect x="1113" fill="#150e38"/><rect x="1137" fill="#0b0924"/><rect x="1161" fill="#08071e"/><rect x="1184" fill="#08071e"/></g>
<g transform="translate(0 288)"><rect x="686" fill="#842681"/><rect x="709" fill="#842681"/><rect x="733" fill="#842681"/><rect x="757" fill="#842681"/><rect x="781" fill="#832681"/><rect x="804" fill="#802582"/><rect x="828" fill="#7c2382"/><rect x="852" fill="#792282"/><rect x="876" fill="#752181"/><rect x="899" fill="#721f81"/><rect x="923" fill="#6d1d81"/><rect x="947" fill="#681c81"/><rect x="971" fill="#601880"/><rect x="994" fill="#5a167e"/><rect x="1018" fill="#52137c"/><rect x="1042" fill="#491078"/><rect x="1066" fill="#3d0f71"/><rect x="1089" fill="#251255"/><rect x="1113" fill="#150e38"/><rect x="1137" fill="#0a0822"/><rect x="1161" fill="#07061c"/><rect x="1184" fill="#07061c"/></g>
<g transform="translate(0 311)"><rect x="686" fill="#892881"/><rect x="709" fill="#892881"/><rect x="733" fill="#892881"/><rect x="757" fill="#892881"/><rect x="781" fill="#882781"/><rect x="804" fill="#862781"/><rect x="828" fill="#832681"/><rect x="852" fill="#7e2482"/><rect x="876" fill="#792282"/><rect x="899" fill="#752181"/><rect x="923" fill="#701f81"/><rect x="947" fill="#6b1d81"/><rect x="971" fill="#641a80"/><rect x="994" fill="#5c167f"/><rect x="1018" fill="#54137d"/><rect x="1042" fill="#4a1079"/><rect x="1066" fill="#3d0f71"/><rect x="1089" fill="#271258"/><rect x="1113" fill="#150e38"/><rect x="1137" fill="#0a0822"/><rect x="1161" fill="#06051a"/><rect x="1184" fill="#06051a"/></g>
<g transform="translate(0 335)"><rect x="686" fill="#902a81"/><rect x="709" fill="#902a81"/><rect x="733" fill="#902a81"/><rect x="757" fill="#902a81"/><rect x="781" fill="#8e2a81"/><rect x="804" fill="#8b2981"/><rect x="828" fill="#882781"/><rect x="852" fill="#832681"/><rect x="876" fill="#7e2482"/><rect x="899" fill="#792282"/><rect x="923" fill="#732081"/><rect x="947" fill="#6d1d81"/><rect x="971" fill="#651a80"/><rect x="994" fill="#5d177f"/><rect x="1018" fill="#56147d"/><rect x="1042" fill="#4a1079"/><rect x="1066" fill="#3d0f71"/><rect x="1089" fill="#251255"/><rect x="1113" fill="#140e36"/><rect x="1137" fill="#090720"/><rect x="1161" fill="#060518"/><rect x="1184" fill="#060518"/></g>
<g transform="translate(0 359)"><rect x="686" fill="#942c80"/><rect x="709" fill="#942c80"/><rect x="733" fill="#942c80"/><rect x="757" fill="#942c80"/><rect x="781" fill="#942c80"/><rect x="804" fill="#902a81"/><rect x="828" fill="#8c2981"/><rect x="852" fill="#882781"/><rect x="876" fill="#832681"/><rect x="899" fill="#7c2382"/><rect x="923" fill="#762181"/><rect x="947" fill="#6e1e81"/><rect x="971" fill="#671b80"/><rect x="994" fill="#5f187f"/><rect x="1018" fill="#56147d"/><rect x="1042" fill="#4c117a"/><rect x="1066" fill="#3d0f71"/><rect x="1089" fill="#251255"/><rect x="1113" fill="#140e36"/><rect x="1137" fill="#08071e"/><rect x="1161" fill="#050416"/><rect x="1184" fill="#050416"/></g>
<g transform="translate(0 382)"><rect x="686" fill="#9b2e7f"/><rect x="709" fill="#9b2e7f"/><rect x="733" fill="#9b2e7f"/><rect x="757" fill="#9b2e7f"/><rect x="781" fill="#992d80"/><rect x="804" fill="#962c80"/><rect x="828" fill="#912b81"/><rect x="852" fill="#8c2981"/><rect x="876" fill="#882781"/><rect x="899" fill="#802582"/><rect x="923" fill="#792282"/><rect x="947" fill="#721f81"/><rect x="971" fill="#681c81"/><rect x="994" fill="#5f187f"/><rect x="1018" fill="#57157e"/><rect x="1042" fill="#4c117a"/><rect x="1066" fill="#3d0f71"/><rect x="1089" fill="#251255"/><rect x="1113" fill="#140e36"/><rect x="1137" fill="#08071e"/><rect x="1161" fill="#040414"/><rect x="1184" fill="#040414"/></g>
<g transform="translate(0 406)"><rect x="686" fill="#a1307e"/><rect x="709" fill="#a1307e"/><rect x="733" fill="#a1307e"/><rect x="757" fill="#a1307e"/><rect x="781" fill="#a02f7f"/><rect x="804" fill="#9b2e7f"/><rect x="828" fill="#982d80"/><rect x="852" fill="#912b81"/><rect x="876" fill="#8b2981"/><rect x="899" fill="#842681"/><rect x="923" fill="#7c2382"/><rect x="947" fill="#732081"/><rect x="971" fill="#681c81"/><rect x="994" fill="#601880"/><rect x="1018" fill="#57157e"/><rect x="1042" fill="#4c117a"/><rect x="1066" fill="#3d0f71"/><rect x="1089" fill="#251255"/><rect x="1113" fill="#130d34"/><rect x="1137" fill="#07061c"/><rect x="1161" fill="#030312"/><rect x="1184" fill="#030312"/></g>
<g transform="translate(0 430)"><rect x="686" fill="#a6317d"/><rect x="709" fill="#a6317d"/><rect x="733" fill="#a6317d"/><rect x="757" fill="#a6317d"/><rect x="781" fill="#a5317e"/><rect x="804" fill="#a1307e"/><rect x="828" fill="#9c2e7f"/><rect x="852" fill="#962c80"/><rect x="876" fill="#902a81"/><rect x="899" fill="#882781"/><rect x="923" fill="#802582"/><rect x="947" fill="#762181"/><rect x="971" fill="#6a1c81"/><rect x="994" fill="#601880"/><rect x="1018" fill="#57157e"/><rect x="1042" fill="#4c117a"/><rect x="1066" fill="#3d0f71"/><rect x="1089" fill="#241253"/><rect x="1113" fill="#120d31"/><rect x="1137" fill="#07061c"/><rect x="1161" fill="#030312"/><rect x="1184" fill="#030312"/></g>
<g transform="translate(0 453)"><rect x="686" fill="#ad347c"/><rect x="709" fill="#ad347c"/><rect x="733" fill="#ad347c"/><rect x="757" fill="#ad347c"/><rect x="781" fill="#ab337c"/><rect x="804" fill="#a6317d"/><rect x="828" fill="#a1307e"/><rect x="852" fill="#9b2e7f"/><rect x="876" fill="#942c80"/><rect x="899" fill="#8c2981"/><rect x="923" fill="#832681"/><rect x="947" fill="#782281"/><rect x="971" fill="#6b1d81"/><rect x="994" fill="#601880"/><rect x="1018" fill="#56147d"/><rect x="1042" fill="#4a1079"/><rect x="1066" fill="#3b0f70"/><rect x="1089" fill="#221150"/><rect x="1113" fill="#120d31"/><rect x="1137" fill="#06051a"/><rect x="1161" fill="#030312"/><rect x="1184" fill="#030312"/></g>
<g transform="translate(0 477)"><rect x="686" fill="#b2357b"/><rect x="709" fill="#b2357b"/><rect x="733" fill="#b2357b"/><rect x="757" fill="#b2357b"/><rect x="781" fill="#b0357b"/><rect x="804" fill="#ab337c"/><rect x="828" fill="#a6317d"/><rect x="852" fill="#a02f7f"/><rect x="876" fill="#992d80"/><rect x="899" fill="#912b81"/><rect x="923" fill="#862781"/><rect x="947" fill="#7b2382"/><rect x="971" fill="#6d1d81"/><rect x="994" fill="#601880"/><rect x="1018" fill="#54137d"/><rect x="1042" fill="#491078"/><rect x="1066" fill="#38106c"/><rect x="1089" fill="#21114e"/><rect x="1113" fill="#110c2f"/><rect x="1137" fill="#06051a"/><rect x="1161" fill="#030312"/><rect x="1184" fill="#030312"/></g>
<g transform="translate(0 501)"><rect x="686" fill="#b73779"/><rect x="709" fill="#b73779"/><rect x="733" fill="#b73779"/><rect x="757" fill="#b73779"/><rect x="781" fill="#b73779"/><rect x="804" fill="#b2357b"/><rect x="828" fill="#ab337c"/><rect x="852" fill="#a3307e"/><rect x="876" fill="#9c2e7f"/><rect x="899" fill="#942c80"/><rect x="923" fill="#8b2981"/><rect x="947" fill="#7c2382"/><rect x="971" fill="#6d1d81"/><rect x="994" fill="#601880"/><rect x="1018" fill="#52137c"/><rect x="1042" fill="#451077"/><rect x="1066" fill="#36106b"/><rect x="1089" fill="#20114b"/><rect x="1113" fill="#100b2d"/><rect x="1137" fill="#06051a"/><rect x="1161" fill="#030312"/><rect x="1184" fill="#030312"/></g>
<g transform="translate(0 524)"><rect x="686" fill="#bc3978"/><rect x="709" fill="#bc3978"/><rect x="733" fill="#bc3978"/><rect x="757" fill="#bc3978"/><rect x="781" fill="#ba3878"/><rect x="804" fill="#b73779"/><rect x="828" fill="#b0357b"/><rect x="852" fill="#a8327d"/><rect x="876" fill="#a1307e"/><rect x="899" fill="#992d80"/><rect x="923" fill="#8e2a81"/><rect x="947" fill="#802582"/><rect x="971" fill="#701f81"/><rect x="994" fill="#601880"/><rect x="1018" fill="#51127c"/><rect x="1042" fill="#440f76"/><rect x="1066" fill="#341069"/><rect x="1089" fill="#1e1149"/><rect x="1113" fill="#100b2d"/><rect x="1137" fill="#06051a"/><rect x="1161" fill="#030312"/><rect x="1184" fill="#030312"/></g>
<g transform="translate(0 548)"><rect x="686" fill="#c03a76"/><rect x="709" fill="#c03a76"/><rect x="733" fill="#c03a76"/><rect x="757" fill="#bf3a77"/><rect x="781" fill="#bd3977"/><rect x="804" fill="#ba3878"/><rect x="828" fill="#b5367a"/><rect x="852" fill="#ae347b"/><rect x="876" fill="#a6317d"/><rect x="899" fill="#9e2f7f"/><rect x="923" fill="#932b80"/><rect x="947" fill="#842681"/><rect x="971" fill="#721f81"/><rect x="994" fill="#601880"/><rect x="1018" fill="#51127c"/><rect x="1042" fill="#420f75"/><rect x="1066" fill="#311165"/><rect x="1089" fill="#1d1147"/><rect x="1113" fill="#0e0b2b"/><rect x="1137" fill="#06051a"/><rect x="1161" fill="#030312"/><rect x="1184" fill="#030312"/></g>
<g transform="translate(0 572)"><rect x="686" fill="#c53c74"/><rect x="709" fill="#c53c74"/><rect x="733" fill="#c53c74"/><rect x="757" fill="#c43c75"/><rect x="781" fill="#c23b75"/><rect x="804" fill="#bf3a77"/><rect x="828" fill="#ba3878"/><rect x="852" fill="#b3367a"/><rect x="876" fill="#ab337c"/><rect x="899" fill="#a3307e"/><rect x="923" fill="#982d80"/><rect x="947" fill="#882781"/><rect x="971" fill="#752181"/><rect x="994" fill="#621980"/><rect x="1018" fill="#4f127b"/><rect x="1042" fill="#400f74"/><rect x="1066" fill="#2f1163"/><rect x="1089" fill="#1c1044"/><rect x="1113" fill="#0e0b2b"/><rect x="1137" fill="#06051a"/><rect x="1161" fill="#030312"/><rect x="1184" fill="#030312"/></g>
<g transform="translate(0 595)"><rect x="686" fill="#ca3e72"/><rect x="709" fill="#ca3e72"/><rect x="733" fill="#ca3e72"/><rect x="757" fill="#c83e73"/><rect x="781" fill="#c73d73"/><rect x="804" fill="#c43c75"/><rect x="828" fill="#bf3a77"/><rect x="852" fill="#b83779"/><rect x="876" fill="#b0357b"/><rect x="899" fill="#a8327d"/><rect x="923" fill="#9b2e7f"/><rect x="947" fill="#8c2981"/><rect x="971" fill="#762181"/><rect x="994" fill="#641a80"/><rect x="1018" fill="#51127c"/><rect x="1042" fill="#400f74"/><rect x="1066" fill="#311165"/><rect x="1089" fill="#1c1044"/><rect x="1113" fill="#0e0b2b"/><rect x="1137" fill="#06051a"/><rect x="1161" fill="#040414"/><rect x="1184" fill="#040414"/></g>
<g transform="translate(0 619)"><rect x="686" fill="#d2426f"/><rect x="709" fill="#d2426f"/><rect x="733" fill="#d0416f"/><rect x="757" fill="#cf4070"/><rect x="781" fill="#cc3f71"/><rect x="804" fill="#c83e73"/><rect x="828" fill="#c43c75"/><rect x="852" fill="#bd3977"/><rect x="876" fill="#b5367a"/><rect x="899" fill="#ab337c"/><rect x="923" fill="#a02f7f"/><rect x="947" fill="#8e2a81"/><rect x="971" fill="#792282"/><rect x="994" fill="#651a80"/><rect x="1018" fill="#52137c"/><rect x="1042" fill="#420f75"/><rect x="1066" fill="#311165"/><rect x="1089" fill="#1d1147"/><rect x="1113" fill="#100b2d"/><rect x="1137" fill="#07061c"/><rect x="1161" fill="#040414"/><rect x="1184" fill="#040414"/></g>
<g transform="translate(0 642)"><rect x="686" fill="#d8456c"/><rect x="709" fill="#d8456c"/><rect x="733" fill="#d6456c"/><rect x="757" fill="#d5446d"/><rect x="781" fill="#d2426f"/><rect x="804" fill="#cf4070"/><rect x="828" fill="#c83e73"/><rect x="852" fill="#c43c75"/><rect x="876" fill="#ba3878"/><rect x="899" fill="#b0357b"/><rect x="923" fill="#a3307e"/><rect x="947" fill="#912b81"/><rect x="971" fill="#7b2382"/><rect x="994" fill="#671b80"/><rect x="1018" fill="#54137d"/><rect x="1042" fill="#440f76"/><rect x="1066" fill="#331067"/><rect x="1089" fill="#1e1149"/><rect x="1113" fill="#110c2f"/><rect x="1137" fill="#08071e"/><rect x="1161" fill="#050416"/><rect x="1184" fill="#050416"/></g>
<g transform="translate(0 666)"><rect x="686" fill="#de4968"/><rect x="709" fill="#de4968"/><rect x="733" fill="#dc4869"/><rect x="757" fill="#db476a"/><rect x="781" fill="#d8456c"/><rect x="804" fill="#d3436e"/><rect x="828" fill="#cd4071"/><rect x="852" fill="#c73d73"/><rect x="876" fill="#bf3a77"/><rect x="899" fill="#b5367a"/><rect x="923" fill="#a6317d"/><rect x="947" fill="#942c80"/><rect x="971" fill="#7e2482"/><rect x="994" fill="#6a1c81"/><rect x="1018" fill="#57157e"/><rect x="1042" fill="#451077"/><rect x="1066" fill="#341069"/><rect x="1089" fill="#20114b"/><rect x="1113" fill="#120d31"/><rect x="1137" fill="#090720"/><rect x="1161" fill="#06051a"/><rect x="1184" fill="#06051a"/></g>
<g transform="translate(0 690)"><rect x="686" fill="#e24d66"/><rect x="709" fill="#e24d66"/><rect x="733" fill="#e04c67"/><rect x="757" fill="#df4a68"/><rect x="781" fill="#db476a"/><rect x="804" fill="#d6456c"/><rect x="828" fill="#d2426f"/><rect x="852" fill="#cc3f71"/><rect x="876" fill="#c43c75"/><rect x="899" fill="#b83779"/><rect x="923" fill="#ab337c"/><rect x="947" fill="#992d80"/><rect x="971" fill="#812581"/><rect x="994" fill="#6b1d81"/><rect x="1018" fill="#59157e"/><rect x="1042" fill="#471078"/><rect x="1066" fill="#341069"/><rect x="1089" fill="#21114e"/><rect x="1113" fill="#140e36"/><rect x="1137" fill="#0b0924"/><rect x="1161" fill="#07061c"/><rect x="1184" fill="#07061c"/></g>
<g transform="translate(0 713)"><rect x="686" fill="#e44f64"/><rect x="709" fill="#e44f64"/><rect x="733" fill="#e44f64"/><rect x="757" fill="#e24d66"/><rect x="781" fill="#df4a68"/><rect x="804" fill="#db476a"/><rect x="828" fill="#d5446d"/><rect x="852" fill="#cf4070"/><rect x="876" fill="#c73d73"/><rect x="899" fill="#bc3978"/><rect x="923" fill="#ae347b"/><rect x="947" fill="#9c2e7f"/><rect x="971" fill="#842681"/><rect x="994" fill="#701f81"/><rect x="1018" fill="#5c167f"/><rect x="1042" fill="#4a1079"/><rect x="1066" fill="#38106c"/><rect x="1089" fill="#241253"/><rect x="1113" fill="#180f3d"/><rect x="1137" fill="#0e0b2b"/><rect x="1161" fill="#0b0924"/><rect x="1184" fill="#0b0924"/></g>
<g transform="translate(0 737)"><rect x="686" fill="#e75263"/><rect x="709" fill="#e75263"/><rect x="733" fill="#e75263"/><rect x="757" fill="#e44f64"/><rect x="781" fill="#e24d66"/><rect x="804" fill="#de4968"/><rect x="828" fill="#d9466b"/><rect x="852" fill="#d3436e"/><rect x="876" fill="#ca3e72"/><rect x="899" fill="#bf3a77"/><rect x="923" fill="#b2357b"/><rect x="947" fill="#a02f7f"/><rect x="971" fill="#892881"/><rect x="994" fill="#732081"/><rect x="1018" fill="#5f187f"/><rect x="1042" fill="#4c117a"/><rect x="1066" fill="#390f6e"/><rect x="1089" fill="#29115a"/><rect x="1113" fill="#1d1147"/><rect x="1137" fill="#140e36"/><rect x="1161" fill="#120d31"/><rect x="1184" fill="#120d31"/></g>
<g transform="translate(0 761)"><rect x="686" fill="#e95462"/><rect x="709" fill="#e95462"/><rect x="733" fill="#e95462"/><rect x="757" fill="#e75263"/><rect x="781" fill="#e44f64"/><rect x="804" fill="#e04c67"/><rect x="828" fill="#dc4869"/><rect x="852" fill="#d6456c"/><rect x="876" fill="#cd4071"/><rect x="899" fill="#c23b75"/><rect x="923" fill="#b73779"/><rect x="947" fill="#a5317e"/><rect x="971" fill="#8e2a81"/><rect x="994" fill="#782281"/><rect x="1018" fill="#641a80"/><rect x="1042" fill="#4f127b"/><rect x="1066" fill="#3d0f71"/><rect x="1089" fill="#2d1161"/><rect x="1113" fill="#241253"/><rect x="1137" fill="#1c1044"/><rect x="1161" fill="#19103f"/><rect x="1184" fill="#19103f"/></g>
<g transform="translate(0 784)"><rect x="686" fill="#ed5a5f"/><rect x="709" fill="#ed5a5f"/><rect x="733" fill="#ec5860"/><rect x="757" fill="#eb5760"/><rect x="781" fill="#e85362"/><rect x="804" fill="#e44f64"/><rect x="828" fill="#e04c67"/><rect x="852" fill="#db476a"/><rect x="876" fill="#d2426f"/><rect x="899" fill="#c73d73"/><rect x="923" fill="#ba3878"/><rect x="947" fill="#aa337d"/><rect x="971" fill="#932b80"/><rect x="994" fill="#7c2382"/><rect x="1018" fill="#681c81"/><rect x="1042" fill="#54137d"/><rect x="1066" fill="#420f75"/><rect x="1089" fill="#341069"/><rect x="1113" fill="#2a115c"/><rect x="1137" fill="#241253"/><rect x="1161" fill="#221150"/><rect x="1184" fill="#221150"/></g>
<g transform="translate(0 808)"><rect x="686" fill="#f2625d"/><rect x="709" fill="#f2625d"/><rect x="733" fill="#f1605d"/><rect x="757" fill="#f05f5e"/><rect x="781" fill="#ed5a5f"/><rect x="804" fill="#ea5661"/><rect x="828" fill="#e55064"/><rect x="852" fill="#e04c67"/><rect x="876" fill="#d8456c"/><rect x="899" fill="#cd4071"/><rect x="923" fill="#c03a76"/><rect x="947" fill="#b0357b"/><rect x="971" fill="#982d80"/><rect x="994" fill="#832681"/><rect x="1018" fill="#6e1e81"/><rect x="1042" fill="#5a167e"/><rect x="1066" fill="#491078"/><rect x="1089" fill="#3b0f70"/><rect x="1113" fill="#341069"/><rect x="1137" fill="#2f1163"/><rect x="1161" fill="#2d1161"/><rect x="1184" fill="#2d1161"/></g>
<g transform="translate(0 832)"><rect x="686" fill="#f66e5c"/><rect x="709" fill="#f66e5c"/><rect x="733" fill="#f66e5c"/><rect x="757" fill="#f56b5c"/><rect x="781" fill="#f3655c"/><rect x="804" fill="#ef5d5e"/><rect x="828" fill="#eb5760"/><rect x="852" fill="#e75263"/><rect x="876" fill="#df4a68"/><rect x="899" fill="#d5446d"/><rect x="923" fill="#c73d73"/><rect x="947" fill="#b5367a"/><rect x="971" fill="#9e2f7f"/><rect x="994" fill="#892881"/><rect x="1018" fill="#762181"/><rect x="1042" fill="#641a80"/><rect x="1066" fill="#52137c"/><rect x="1089" fill="#451077"/><rect x="1113" fill="#3f0f72"/><rect x="1137" fill="#3b0f70"/><rect x="1161" fill="#390f6e"/><rect x="1184" fill="#390f6e"/></g>
<g transform="translate(0 855)"><rect x="686" fill="#fa7d5e"/><rect x="709" fill="#fa7d5e"/><rect x="733" fill="#f97b5d"/><rect x="757" fill="#f9785d"/><rect x="781" fill="#f7725c"/><rect x="804" fill="#f4675c"/><rect x="828" fill="#f05f5e"/><rect x="852" fill="#eb5760"/><rect x="876" fill="#e44f64"/><rect x="899" fill="#db476a"/><rect x="923" fill="#cd4071"/><rect x="947" fill="#bc3978"/><rect x="971" fill="#a6317d"/><rect x="994" fill="#932b80"/><rect x="1018" fill="#802582"/><rect x="1042" fill="#6d1d81"/><rect x="1066" fill="#5d177f"/><rect x="1089" fill="#4f127b"/><rect x="1113" fill="#491078"/><rect x="1137" fill="#471078"/><rect x="1161" fill="#471078"/><rect x="1184" fill="#471078"/></g>
<g transform="translate(0 879)"><rect x="686" fill="#fc8c63"/><rect x="709" fill="#fc8c63"/><rect x="733" fill="#fc8a62"/><rect x="757" fill="#fb8560"/><rect x="781" fill="#fa7d5e"/><rect x="804" fill="#f7725c"/><rect x="828" fill="#f4675c"/><rect x="852" fill="#ef5d5e"/><rect x="876" fill="#e95462"/><rect x="899" fill="#e04c67"/><rect x="923" fill="#d3436e"/><rect x="947" fill="#c23b75"/><rect x="971" fill="#b0357b"/><rect x="994" fill="#9c2e7f"/><rect x="1018" fill="#892881"/><rect x="1042" fill="#762181"/><rect x="1066" fill="#671b80"/><rect x="1089" fill="#5a167e"/><rect x="1113" fill="#54137d"/><rect x="1137" fill="#51127c"/><rect x="1161" fill="#51127c"/><rect x="1184" fill="#51127c"/></g>
<g transform="translate(0 903)"><rect x="686" fill="#fd9a6a"/><rect x="709" fill="#fd9a6a"/><rect x="733" fill="#fd9668"/><rect x="757" fill="#fc9065"/><rect x="781" fill="#fc8961"/><rect x="804" fill="#fa7d5e"/><rect x="828" fill="#f7705c"/><rect x="852" fill="#f2645c"/><rect x="876" fill="#ee5b5e"/><rect x="899" fill="#e75263"/><rect x="923" fill="#d9466b"/><rect x="947" fill="#ca3e72"/><rect x="971" fill="#ba3878"/><rect x="994" fill="#aa337d"/><rect x="1018" fill="#962c80"/><rect x="1042" fill="#832681"/><rect x="1066" fill="#732081"/><rect x="1089" fill="#651a80"/><rect x="1113" fill="#5d177f"/><rect x="1137" fill="#59157e"/><rect x="1161" fill="#57157e"/><rect x="1184" fill="#57157e"/></g>
<g transform="translate(0 926)"><rect x="686" fill="#fea16e"/><rect x="709" fill="#fea16e"/><rect x="733" fill="#fe9f6d"/><rect x="757" fill="#fd9a6a"/><rect x="781" fill="#fd9266"/><rect x="804" fill="#fc8a62"/><rect x="828" fill="#fa7d5e"/><rect x="852" fill="#f66e5c"/><rect x="876" fill="#f2645c"/><rect x="899" fill="#ec5860"/><rect x="923" fill="#e34e65"/><rect x="947" fill="#d6456c"/><rect x="971" fill="#ca3e72"/><rect x="994" fill="#ba3878"/><rect x="1018" fill="#a8327d"/><rect x="1042" fill="#962c80"/><rect x="1066" fill="#862781"/><rect x="1089" fill="#752181"/><rect x="1113" fill="#681c81"/><rect x="1137" fill="#5d177f"/><rect x="1161" fill="#59157e"/><rect x="1184" fill="#59157e"/></g>
<g transform="translate(0 950)"><rect x="686" fill="#fea973"/><rect x="709" fill="#fea973"/><rect x="733" fill="#fea772"/><rect x="757" fill="#fea16e"/><rect x="781" fill="#fd9b6b"/><rect x="804" fill="#fd9668"/><rect x="828" fill="#fc8961"/><rect x="852" fill="#f97b5d"/><rect x="876" fill="#f66e5c"/><rect x="899" fill="#f1605d"/><rect x="923" fill="#ea5661"/><rect x="947" fill="#e24d66"/><rect x="971" fill="#d6456c"/><rect x="994" fill="#c83e73"/><rect x="1018" fill="#b83779"/><rect x="1042" fill="#a8327d"/><rect x="1066" fill="#982d80"/><rect x="1089" fill="#842681"/><rect x="1113" fill="#732081"/><rect x="1137" fill="#641a80"/><rect x="1161" fill="#5c167f"/><rect x="1184" fill="#5c167f"/></g>
<g transform="translate(0 973)"><rect x="686" fill="#feb078"/><rect x="709" fill="#feb078"/><rect x="733" fill="#feac76"/><rect x="757" fill="#fea973"/><rect x="781" fill="#fea36f"/><rect x="804" fill="#fe9d6c"/><rect x="828" fill="#fd9266"/><rect x="852" fill="#fb835f"/><rect x="876" fill="#f8765c"/><rect x="899" fill="#f4695c"/><rect x="923" fill="#ee5b5e"/><rect x="947" fill="#e55064"/><rect x="971" fill="#db476a"/><rect x="994" fill="#cf4070"/><rect x="1018" fill="#bf3a77"/><rect x="1042" fill="#b0357b"/><rect x="1066" fill="#a02f7f"/><rect x="1089" fill="#902a81"/><rect x="1113" fill="#802582"/><rect x="1137" fill="#701f81"/><rect x="1161" fill="#681c81"/><rect x="1184" fill="#681c81"/></g>
<g transform="translate(0 997)"><rect x="686" fill="#feb67c"/><rect x="709" fill="#feb67c"/><rect x="733" fill="#feb47b"/><rect x="757" fill="#feae77"/><rect x="781" fill="#fea973"/><rect x="804" fill="#fea36f"/><rect x="828" fill="#fd9869"/><rect x="852" fill="#fc8a62"/><rect x="876" fill="#fa7f5e"/><rect x="899" fill="#f7725c"/><rect x="923" fill="#f2625d"/><rect x="947" fill="#ea5661"/><rect x="971" fill="#df4a68"/><rect x="994" fill="#d3436e"/><rect x="1018" fill="#c53c74"/><rect x="1042" fill="#b73779"/><rect x="1066" fill="#a8327d"/><rect x="1089" fill="#9c2e7f"/><rect x="1113" fill="#902a81"/><rect x="1137" fill="#832681"/><rect x="1161" fill="#7e2482"/><rect x="1184" fill="#7e2482"/></g>
<g transform="translate(0 1021)"><rect x="686" fill="#febb81"/><rect x="709" fill="#febb81"/><rect x="733" fill="#feb97f"/><rect x="757" fill="#feb47b"/><rect x="781" fill="#feb078"/><rect x="804" fill="#feaa74"/><rect x="828" fill="#fea16e"/><rect x="852" fill="#fd9467"/><rect x="876" fill="#fc8a62"/><rect x="899" fill="#fa7d5e"/><rect x="923" fill="#f66c5c"/><rect x="947" fill="#f05f5e"/><rect x="971" fill="#e75263"/><rect x="994" fill="#dc4869"/><rect x="1018" fill="#d2426f"/><rect x="1042" fill="#c53c74"/><rect x="1066" fill="#b83779"/><rect x="1089" fill="#ae347b"/><rect x="1113" fill="#a5317e"/><rect x="1137" fill="#992d80"/><rect x="1161" fill="#942c80"/><rect x="1184" fill="#942c80"/></g>
<g transform="translate(0 1044)"><rect x="686" fill="#fec287"/><rect x="709" fill="#fec287"/><rect x="733" fill="#fec185"/><rect x="757" fill="#febb81"/><rect x="781" fill="#feb77e"/><rect x="804" fill="#feb27a"/><rect x="828" fill="#fea973"/><rect x="852" fill="#fe9f6d"/><rect x="876" fill="#fd9668"/><rect x="899" fill="#fc8a62"/><rect x="923" fill="#f97b5d"/><rect x="947" fill="#f66e5c"/><rect x="971" fill="#f1605d"/><rect x="994" fill="#ea5661"/><rect x="1018" fill="#e34e65"/><rect x="1042" fill="#d9466b"/><rect x="1066" fill="#d0416f"/><rect x="1089" fill="#c73d73"/><rect x="1113" fill="#bd3977"/><rect x="1137" fill="#b5367a"/><rect x="1161" fill="#b2357b"/><rect x="1184" fill="#b2357b"/></g>
<g transform="translate(0 1068)"><rect x="686" fill="#fec88c"/><rect x="709" fill="#fec88c"/><rect x="733" fill="#fec68a"/><rect x="757" fill="#fec287"/><rect x="781" fill="#febf84"/><rect x="804" fill="#feb97f"/><rect x="828" fill="#feb27a"/><rect x="852" fill="#feaa74"/><rect x="876" fill="#fea16e"/><rect x="899" fill="#fd9869"/><rect x="923" fill="#fc8a62"/><rect x="947" fill="#fa7d5e"/><rect x="971" fill="#f7705c"/><rect x="994" fill="#f3655c"/><rect x="1018" fill="#ef5d5e"/><rect x="1042" fill="#ea5661"/><rect x="1066" fill="#e44f64"/><rect x="1089" fill="#dc4869"/><rect x="1113" fill="#d5446d"/><rect x="1137" fill="#d0416f"/><rect x="1161" fill="#cd4071"/><rect x="1184" fill="#cd4071"/></g>
<g transform="translate(0 1092)"><rect x="686" fill="#fecf92"/><rect x="709" fill="#fecf92"/><rect x="733" fill="#fecd90"/><rect x="757" fill="#feca8d"/><rect x="781" fill="#fec68a"/><rect x="804" fill="#fec287"/><rect x="828" fill="#febd82"/><rect x="852" fill="#feb67c"/><rect x="876" fill="#feae77"/><rect x="899" fill="#fea571"/><rect x="923" fill="#fd9869"/><rect x="947" fill="#fc8c63"/><rect x="971" fill="#fa7f5e"/><rect x="994" fill="#f8765c"/><rect x="1018" fill="#f66e5c"/><rect x="1042" fill="#f4675c"/><rect x="1066" fill="#f1605d"/><rect x="1089" fill="#ed5a5f"/><rect x="1113" fill="#ea5661"/><rect x="1137" fill="#e75263"/><rect x="1161" fill="#e55064"/><rect x="1184" fill="#e55064"/></g>
<g transform="translate(0 1115)"><rect x="686" fill="#fed597"/><rect x="709" fill="#fed597"/><rect x="733" fill="#fed395"/><rect x="757" fill="#fed194"/><rect x="781" fill="#fecd90"/><rect x="804" fill="#fecc8f"/><rect x="828" fill="#fec68a"/><rect x="852" fill="#febf84"/><rect x="876" fill="#feb97f"/><rect x="899" fill="#feb27a"/><rect x="923" fill="#fea772"/><rect x="947" fill="#fd9b6b"/><rect x="971" fill="#fd9266"/><rect x="994" fill="#fc8961"/><rect x="1018" fill="#fb835f"/><rect x="1042" fill="#fa7d5e"/><rect x="1066" fill="#f8765c"/><rect x="1089" fill="#f7725c"/><rect x="1113" fill="#f66e5c"/><rect x="1137" fill="#f56b5c"/><rect x="1161" fill="#f4695c"/><rect x="1184" fill="#f4695c"/></g>
<g transform="translate(0 1139)"><rect x="686" fill="#fdda9c"/><rect x="709" fill="#fdda9c"/><rect x="733" fill="#fdda9c"/><rect x="757" fill="#fed799"/><rect x="781" fill="#fed597"/><rect x="804" fill="#fed194"/><rect x="828" fill="#fecd90"/><rect x="852" fill="#feca8d"/><rect x="876" fill="#fec68a"/><rect x="899" fill="#fec185"/><rect x="923" fill="#feb97f"/><rect x="947" fill="#feb078"/><rect x="971" fill="#fea973"/><rect x="994" fill="#fea36f"/><rect x="1018" fill="#fe9d6c"/><rect x="1042" fill="#fd9869"/><rect x="1066" fill="#fd9467"/><rect x="1089" fill="#fc9065"/><rect x="1113" fill="#fc8e64"/><rect x="1137" fill="#fc8a62"/><rect x="1161" fill="#fc8961"/><rect x="1184" fill="#fc8961"/></g>
<g transform="translate(0 1163)"><rect x="686" fill="#fde0a1"/><rect x="709" fill="#fde0a1"/><rect x="733" fill="#fde0a1"/><rect x="757" fill="#fddc9e"/><rect x="781" fill="#fdda9c"/><rect x="804" fill="#fed799"/><rect x="828" fill="#fed597"/><rect x="852" fill="#fed597"/><rect x="876" fill="#fed395"/><rect x="899" fill="#fed194"/><rect x="923" fill="#feca8d"/><rect x="947" fill="#fec488"/><rect x="971" fill="#febf84"/><rect x="994" fill="#febb81"/><rect x="1018" fill="#feb67c"/><rect x="1042" fill="#feb27a"/><rect x="1066" fill="#feae77"/><rect x="1089" fill="#feac76"/><rect x="1113" fill="#fea973"/><rect x="1137" fill="#fea772"/><rect x="1161" fill="#fea571"/><rect x="1184" fill="#fea571"/></g>
<g transform="translate(0 1186)"><rect x="686" fill="#fddea0"/><rect x="709" fill="#fddea0"/><rect x="733" fill="#fde0a1"/><rect x="757" fill="#fde0a1"/><rect x="781" fill="#fde0a1"/><rect x="804" fill="#fddea0"/><rect x="828" fill="#fddea0"/><rect x="852" fill="#fddea0"/><rect x="876" fill="#fddea0"/><rect x="899" fill="#fddc9e"/><rect x="923" fill="#fed89a"/><rect x="947" fill="#fed395"/><rect x="971" fill="#fecf92"/><rect x="994" fill="#fecc8f"/><rect x="1018" fill="#fec88c"/><rect x="1042" fill="#fec488"/><rect x="1066" fill="#fec185"/><rect x="1089" fill="#febf84"/><rect x="1113" fill="#febb81"/><rect x="1137" fill="#feb97f"/><rect x="1161" fill="#feb77e"/><rect x="1184" fill="#feb77e"/></g>
<g transform="translate(0 1210)"><rect x="686" fill="#fddc9e"/><rect x="709" fill="#fddc9e"/><rect x="733" fill="#fddea0"/><rect x="757" fill="#fde2a3"/><rect x="781" fill="#fde3a5"/><rect x="804" fill="#fde5a7"/><rect x="828" fill="#fde5a7"/><rect x="852" fill="#fde7a9"/><rect x="876" fill="#fde7a9"/><rect x="899" fill="#fde7a9"/><rect x="923" fill="#fde3a5"/><rect x="947" fill="#fde0a1"/><rect x="971" fill="#fddea0"/><rect x="994" fill="#fdda9c"/><rect x="1018" fill="#fed799"/><rect x="1042" fill="#fed395"/><rect x="1066" fill="#fecf92"/><rect x="1089" fill="#fecc8f"/><rect x="1113" fill="#feca8d"/><rect x="1137" fill="#fec88c"/><rect x="1161" fill="#fec68a"/><rect x="1184" fill="#fec68a"/></g>
<g transform="translate(0 1234)"><rect x="686" fill="#fed89a"/><rect x="709" fill="#fed89a"/><rect x="733" fill="#fddc9e"/><rect x="757" fill="#fde3a5"/><rect x="781" fill="#fde7a9"/><rect x="804" fill="#fde9aa"/><rect x="828" fill="#fdebac"/><rect x="852" fill="#fdebac"/><rect x="876" fill="#fdebac"/><rect x="899" fill="#fdebac"/><rect x="923" fill="#fde9aa"/><rect x="947" fill="#fde5a7"/><rect x="971" fill="#fde3a5"/><rect x="994" fill="#fde0a1"/><rect x="1018" fill="#fddc9e"/><rect x="1042" fill="#fed799"/><rect x="1066" fill="#fed395"/><rect x="1089" fill="#fed194"/><rect x="1113" fill="#fecd90"/><rect x="1137" fill="#fecc8f"/><rect x="1161" fill="#feca8d"/><rect x="1184" fill="#feca8d"/></g>
<g transform="translate(0 1257)"><rect x="686" fill="#fed89a"/><rect x="709" fill="#fed89a"/><rect x="733" fill="#fddc9e"/><rect x="757" fill="#fde3a5"/><rect x="781" fill="#fde7a9"/><rect x="804" fill="#fde9aa"/><rect x="828" fill="#fdebac"/><rect x="852" fill="#fdebac"/><rect x="876" fill="#fdebac"/><rect x="899" fill="#fdebac"/><rect x="923" fill="#fde9aa"/><rect x="947" fill="#fde5a7"/><rect x="971" fill="#fde3a5"/><rect x="994" fill="#fde0a1"/><rect x="1018" fill="#fddc9e"/><rect x="1042" fill="#fed799"/><rect x="1066" fill="#fed395"/><rect x="1089" fill="#fed194"/><rect x="1113" fill="#fecd90"/><rect x="1137" fill="#fecc8f"/><rect x="1161" fill="#feca8d"/><rect x="1184" fill="#feca8d"/></g>
</g></g>
<rect x="733.7" y="146.4" width="427.5" height="1087.7" fill="none" stroke="#000" stroke-width="3.6"/>
<g clip-path="url(#cP3)"><g filter="url(#bl)" shape-rendering="crispEdges" class="hm">
<g transform="translate(0 99)"><rect x="1195" fill="#752181"/><rect x="1219" fill="#752181"/><rect x="1242" fill="#732081"/><rect x="1266" fill="#701f81"/><rect x="1290" fill="#6e1e81"/><rect x="1314" fill="#6d1d81"/><rect x="1337" fill="#6b1d81"/><rect x="1361" fill="#6a1c81"/><rect x="1385" fill="#681c81"/><rect x="1409" fill="#681c81"/><rect x="1432" fill="#671b80"/><rect x="1456" fill="#651a80"/><rect x="1480" fill="#651a80"/><rect x="1504" fill="#621980"/><rect x="1527" fill="#601880"/><rect x="1551" fill="#5d177f"/><rect x="1575" fill="#5c167f"/><rect x="1599" fill="#5a167e"/><rect x="1622" fill="#59157e"/><rect x="1646" fill="#59157e"/><rect x="1670" fill="#59157e"/><rect x="1694" fill="#59157e"/></g>
<g transform="translate(0 122)"><rect x="1195" fill="#752181"/><rect x="1219" fill="#752181"/><rect x="1242" fill="#732081"/><rect x="1266" fill="#701f81"/><rect x="1290" fill="#6e1e81"/><rect x="1314" fill="#6d1d81"/><rect x="1337" fill="#6b1d81"/><rect x="1361" fill="#6a1c81"/><rect x="1385" fill="#681c81"/><rect x="1409" fill="#681c81"/><rect x="1432" fill="#671b80"/><rect x="1456" fill="#651a80"/><rect x="1480" fill="#651a80"/><rect x="1504" fill="#621980"/><rect x="1527" fill="#601880"/><rect x="1551" fill="#5d177f"/><rect x="1575" fill="#5c167f"/><rect x="1599" fill="#5a167e"/><rect x="1622" fill="#59157e"/><rect x="1646" fill="#59157e"/><rect x="1670" fill="#59157e"/><rect x="1694" fill="#59157e"/></g>
<g transform="translate(0 146)"><rect x="1195" fill="#752181"/><rect x="1219" fill="#752181"/><rect x="1242" fill="#732081"/><rect x="1266" fill="#701f81"/><rect x="1290" fill="#6e1e81"/><rect x="1314" fill="#6d1d81"/><rect x="1337" fill="#6b1d81"/><rect x="1361" fill="#6a1c81"/><rect x="1385" fill="#681c81"/><rect x="1409" fill="#681c81"/><rect x="1432" fill="#671b80"/><rect x="1456" fill="#651a80"/><rect x="1480" fill="#651a80"/><rect x="1504" fill="#621980"/><rect x="1527" fill="#601880"/><rect x="1551" fill="#5d177f"/><rect x="1575" fill="#5c167f"/><rect x="1599" fill="#5a167e"/><rect x="1622" fill="#5a167e"/><rect x="1646" fill="#59157e"/><rect x="1670" fill="#59157e"/><rect x="1694" fill="#59157e"/></g>
<g transform="translate(0 170)"><rect x="1195" fill="#752181"/><rect x="1219" fill="#752181"/><rect x="1242" fill="#732081"/><rect x="1266" fill="#701f81"/><rect x="1290" fill="#6e1e81"/><rect x="1314" fill="#6d1d81"/><rect x="1337" fill="#6b1d81"/><rect x="1361" fill="#6a1c81"/><rect x="1385" fill="#681c81"/><rect x="1409" fill="#681c81"/><rect x="1432" fill="#671b80"/><rect x="1456" fill="#651a80"/><rect x="1480" fill="#651a80"/><rect x="1504" fill="#621980"/><rect x="1527" fill="#601880"/><rect x="1551" fill="#5f187f"/><rect x="1575" fill="#5d177f"/><rect x="1599" fill="#5c167f"/><rect x="1622" fill="#5a167e"/><rect x="1646" fill="#5a167e"/><rect x="1670" fill="#5a167e"/><rect x="1694" fill="#5a167e"/></g>
<g transform="translate(0 193)"><rect x="1195" fill="#752181"/><rect x="1219" fill="#752181"/><rect x="1242" fill="#732081"/><rect x="1266" fill="#701f81"/><rect x="1290" fill="#6e1e81"/><rect x="1314" fill="#6d1d81"/><rect x="1337" fill="#6b1d81"/><rect x="1361" fill="#6a1c81"/><rect x="1385" fill="#681c81"/><rect x="1409" fill="#681c81"/><rect x="1432" fill="#671b80"/><rect x="1456" fill="#651a80"/><rect x="1480" fill="#651a80"/><rect x="1504" fill="#641a80"/><rect x="1527" fill="#601880"/><rect x="1551" fill="#5f187f"/><rect x="1575" fill="#5d177f"/><rect x="1599" fill="#5c167f"/><rect x="1622" fill="#5c167f"/><rect x="1646" fill="#5a167e"/><rect x="1670" fill="#5a167e"/><rect x="1694" fill="#5a167e"/></g>
<g transform="translate(0 217)"><rect x="1195" fill="#752181"/><rect x="1219" fill="#752181"/><rect x="1242" fill="#732081"/><rect x="1266" fill="#701f81"/><rect x="1290" fill="#6e1e81"/><rect x="1314" fill="#6d1d81"/><rect x="1337" fill="#6b1d81"/><rect x="1361" fill="#6a1c81"/><rect x="1385" fill="#681c81"/><rect x="1409" fill="#681c81"/><rect x="1432" fill="#671b80"/><rect x="1456" fill="#651a80"/><rect x="1480" fill="#651a80"/><rect x="1504" fill="#641a80"/><rect x="1527" fill="#601880"/><rect x="1551" fill="#5f187f"/><rect x="1575" fill="#5d177f"/><rect x="1599" fill="#5d177f"/><rect x="1622" fill="#5c167f"/><rect x="1646" fill="#5c167f"/><rect x="1670" fill="#5c167f"/><rect x="1694" fill="#5c167f"/></g>
<g transform="translate(0 240)"><rect x="1195" fill="#752181"/><rect x="1219" fill="#752181"/><rect x="1242" fill="#732081"/><rect x="1266" fill="#701f81"/><rect x="1290" fill="#6e1e81"/><rect x="1314" fill="#6d1d81"/><rect x="1337" fill="#6b1d81"/><rect x="1361" fill="#6a1c81"/><rect x="1385" fill="#681c81"/><rect x="1409" fill="#681c81"/><rect x="1432" fill="#671b80"/><rect x="1456" fill="#651a80"/><rect x="1480" fill="#651a80"/><rect x="1504" fill="#641a80"/><rect x="1527" fill="#601880"/><rect x="1551" fill="#5f187f"/><rect x="1575" fill="#5d177f"/><rect x="1599" fill="#5d177f"/><rect x="1622" fill="#5c167f"/><rect x="1646" fill="#5c167f"/><rect x="1670" fill="#5c167f"/><rect x="1694" fill="#5c167f"/></g>
<g transform="translate(0 264)"><rect x="1195" fill="#752181"/><rect x="1219" fill="#752181"/><rect x="1242" fill="#732081"/><rect x="1266" fill="#701f81"/><rect x="1290" fill="#6d1d81"/><rect x="1314" fill="#6b1d81"/><rect x="1337" fill="#6a1c81"/><rect x="1361" fill="#6a1c81"/><rect x="1385" fill="#681c81"/><rect x="1409" fill="#671b80"/><rect x="1432" fill="#671b80"/><rect x="1456" fill="#651a80"/><rect x="1480" fill="#651a80"/><rect x="1504" fill="#641a80"/><rect x="1527" fill="#621980"/><rect x="1551" fill="#5f187f"/><rect x="1575" fill="#5f187f"/><rect x="1599" fill="#5d177f"/><rect x="1622" fill="#5d177f"/><rect x="1646" fill="#5d177f"/><rect x="1670" fill="#5c167f"/><rect x="1694" fill="#5c167f"/></g>
<g transform="translate(0 288)"><rect x="1195" fill="#752181"/><rect x="1219" fill="#752181"/><rect x="1242" fill="#721f81"/><rect x="1266" fill="#701f81"/><rect x="1290" fill="#6d1d81"/><rect x="1314" fill="#6b1d81"/><rect x="1337" fill="#6a1c81"/><rect x="1361" fill="#681c81"/><rect x="1385" fill="#671b80"/><rect x="1409" fill="#671b80"/><rect x="1432" fill="#651a80"/><rect x="1456" fill="#651a80"/><rect x="1480" fill="#641a80"/><rect x="1504" fill="#641a80"/><rect x="1527" fill="#621980"/><rect x="1551" fill="#601880"/><rect x="1575" fill="#5f187f"/><rect x="1599" fill="#5d177f"/><rect x="1622" fill="#5d177f"/><rect x="1646" fill="#5d177f"/><rect x="1670" fill="#5d177f"/><rect x="1694" fill="#5d177f"/></g>
<g transform="translate(0 311)"><rect x="1195" fill="#752181"/><rect x="1219" fill="#752181"/><rect x="1242" fill="#721f81"/><rect x="1266" fill="#6e1e81"/><rect x="1290" fill="#6b1d81"/><rect x="1314" fill="#6a1c81"/><rect x="1337" fill="#681c81"/><rect x="1361" fill="#671b80"/><rect x="1385" fill="#671b80"/><rect x="1409" fill="#651a80"/><rect x="1432" fill="#651a80"/><rect x="1456" fill="#651a80"/><rect x="1480" fill="#641a80"/><rect x="1504" fill="#641a80"/><rect x="1527" fill="#621980"/><rect x="1551" fill="#601880"/><rect x="1575" fill="#5f187f"/><rect x="1599" fill="#5f187f"/><rect x="1622" fill="#5d177f"/><rect x="1646" fill="#5d177f"/><rect x="1670" fill="#5d177f"/><rect x="1694" fill="#5d177f"/></g>
<g transform="translate(0 335)"><rect x="1195" fill="#752181"/><rect x="1219" fill="#752181"/><rect x="1242" fill="#721f81"/><rect x="1266" fill="#6e1e81"/><rect x="1290" fill="#6b1d81"/><rect x="1314" fill="#681c81"/><rect x="1337" fill="#671b80"/><rect x="1361" fill="#651a80"/><rect x="1385" fill="#651a80"/><rect x="1409" fill="#651a80"/><rect x="1432" fill="#651a80"/><rect x="1456" fill="#641a80"/><rect x="1480" fill="#641a80"/><rect x="1504" fill="#641a80"/><rect x="1527" fill="#621980"/><rect x="1551" fill="#601880"/><rect x="1575" fill="#5f187f"/><rect x="1599" fill="#5f187f"/><rect x="1622" fill="#5f187f"/><rect x="1646" fill="#5d177f"/><rect x="1670" fill="#5d177f"/><rect x="1694" fill="#5d177f"/></g>
<g transform="translate(0 359)"><rect x="1195" fill="#752181"/><rect x="1219" fill="#752181"/><rect x="1242" fill="#721f81"/><rect x="1266" fill="#6e1e81"/><rect x="1290" fill="#6a1c81"/><rect x="1314" fill="#681c81"/><rect x="1337" fill="#671b80"/><rect x="1361" fill="#651a80"/><rect x="1385" fill="#641a80"/><rect x="1409" fill="#641a80"/><rect x="1432" fill="#641a80"/><rect x="1456" fill="#641a80"/><rect x="1480" fill="#641a80"/><rect x="1504" fill="#641a80"/><rect x="1527" fill="#621980"/><rect x="1551" fill="#601880"/><rect x="1575" fill="#601880"/><rect x="1599" fill="#5f187f"/><rect x="1622" fill="#5f187f"/><rect x="1646" fill="#5f187f"/><rect x="1670" fill="#5f187f"/><rect x="1694" fill="#5f187f"/></g>
<g transform="translate(0 382)"><rect x="1195" fill="#752181"/><rect x="1219" fill="#752181"/><rect x="1242" fill="#721f81"/><rect x="1266" fill="#6e1e81"/><rect x="1290" fill="#6b1d81"/><rect x="1314" fill="#681c81"/><rect x="1337" fill="#671b80"/><rect x="1361" fill="#651a80"/><rect x="1385" fill="#641a80"/><rect x="1409" fill="#641a80"/><rect x="1432" fill="#641a80"/><rect x="1456" fill="#641a80"/><rect x="1480" fill="#641a80"/><rect x="1504" fill="#641a80"/><rect x="1527" fill="#641a80"/><rect x="1551" fill="#621980"/><rect x="1575" fill="#601880"/><rect x="1599" fill="#601880"/><rect x="1622" fill="#601880"/><rect x="1646" fill="#5f187f"/><rect x="1670" fill="#5f187f"/><rect x="1694" fill="#5f187f"/></g>
<g transform="translate(0 406)"><rect x="1195" fill="#752181"/><rect x="1219" fill="#752181"/><rect x="1242" fill="#732081"/><rect x="1266" fill="#6e1e81"/><rect x="1290" fill="#6b1d81"/><rect x="1314" fill="#681c81"/><rect x="1337" fill="#671b80"/><rect x="1361" fill="#641a80"/><rect x="1385" fill="#641a80"/><rect x="1409" fill="#621980"/><rect x="1432" fill="#641a80"/><rect x="1456" fill="#641a80"/><rect x="1480" fill="#641a80"/><rect x="1504" fill="#641a80"/><rect x="1527" fill="#641a80"/><rect x="1551" fill="#621980"/><rect x="1575" fill="#621980"/><rect x="1599" fill="#601880"/><rect x="1622" fill="#601880"/><rect x="1646" fill="#601880"/><rect x="1670" fill="#601880"/><rect x="1694" fill="#601880"/></g>
<g transform="translate(0 430)"><rect x="1195" fill="#762181"/><rect x="1219" fill="#762181"/><rect x="1242" fill="#732081"/><rect x="1266" fill="#6e1e81"/><rect x="1290" fill="#6b1d81"/><rect x="1314" fill="#681c81"/><rect x="1337" fill="#671b80"/><rect x="1361" fill="#641a80"/><rect x="1385" fill="#621980"/><rect x="1409" fill="#621980"/><rect x="1432" fill="#641a80"/><rect x="1456" fill="#641a80"/><rect x="1480" fill="#641a80"/><rect x="1504" fill="#641a80"/><rect x="1527" fill="#641a80"/><rect x="1551" fill="#641a80"/><rect x="1575" fill="#621980"/><rect x="1599" fill="#621980"/><rect x="1622" fill="#621980"/><rect x="1646" fill="#621980"/><rect x="1670" fill="#621980"/><rect x="1694" fill="#621980"/></g>
<g transform="translate(0 453)"><rect x="1195" fill="#782281"/><rect x="1219" fill="#782281"/><rect x="1242" fill="#752181"/><rect x="1266" fill="#701f81"/><rect x="1290" fill="#6b1d81"/><rect x="1314" fill="#681c81"/><rect x="1337" fill="#671b80"/><rect x="1361" fill="#641a80"/><rect x="1385" fill="#621980"/><rect x="1409" fill="#621980"/><rect x="1432" fill="#621980"/><rect x="1456" fill="#641a80"/><rect x="1480" fill="#641a80"/><rect x="1504" fill="#641a80"/><rect x="1527" fill="#641a80"/><rect x="1551" fill="#641a80"/><rect x="1575" fill="#641a80"/><rect x="1599" fill="#641a80"/><rect x="1622" fill="#641a80"/><rect x="1646" fill="#641a80"/><rect x="1670" fill="#641a80"/><rect x="1694" fill="#641a80"/></g>
<g transform="translate(0 477)"><rect x="1195" fill="#792282"/><rect x="1219" fill="#792282"/><rect x="1242" fill="#762181"/><rect x="1266" fill="#701f81"/><rect x="1290" fill="#6b1d81"/><rect x="1314" fill="#681c81"/><rect x="1337" fill="#651a80"/><rect x="1361" fill="#641a80"/><rect x="1385" fill="#621980"/><rect x="1409" fill="#621980"/><rect x="1432" fill="#641a80"/><rect x="1456" fill="#641a80"/><rect x="1480" fill="#651a80"/><rect x="1504" fill="#651a80"/><rect x="1527" fill="#651a80"/><rect x="1551" fill="#671b80"/><rect x="1575" fill="#671b80"/><rect x="1599" fill="#671b80"/><rect x="1622" fill="#671b80"/><rect x="1646" fill="#671b80"/><rect x="1670" fill="#671b80"/><rect x="1694" fill="#671b80"/></g>
<g transform="translate(0 501)"><rect x="1195" fill="#7e2482"/><rect x="1219" fill="#7e2482"/><rect x="1242" fill="#792282"/><rect x="1266" fill="#732081"/><rect x="1290" fill="#6d1d81"/><rect x="1314" fill="#681c81"/><rect x="1337" fill="#651a80"/><rect x="1361" fill="#641a80"/><rect x="1385" fill="#641a80"/><rect x="1409" fill="#641a80"/><rect x="1432" fill="#651a80"/><rect x="1456" fill="#671b80"/><rect x="1480" fill="#671b80"/><rect x="1504" fill="#681c81"/><rect x="1527" fill="#681c81"/><rect x="1551" fill="#6a1c81"/><rect x="1575" fill="#6b1d81"/><rect x="1599" fill="#6b1d81"/><rect x="1622" fill="#6b1d81"/><rect x="1646" fill="#6b1d81"/><rect x="1670" fill="#6b1d81"/><rect x="1694" fill="#6b1d81"/></g>
<g transform="translate(0 524)"><rect x="1195" fill="#812581"/><rect x="1219" fill="#812581"/><rect x="1242" fill="#7c2382"/><rect x="1266" fill="#752181"/><rect x="1290" fill="#6e1e81"/><rect x="1314" fill="#681c81"/><rect x="1337" fill="#651a80"/><rect x="1361" fill="#641a80"/><rect x="1385" fill="#641a80"/><rect x="1409" fill="#641a80"/><rect x="1432" fill="#651a80"/><rect x="1456" fill="#671b80"/><rect x="1480" fill="#681c81"/><rect x="1504" fill="#681c81"/><rect x="1527" fill="#6a1c81"/><rect x="1551" fill="#6b1d81"/><rect x="1575" fill="#6b1d81"/><rect x="1599" fill="#6b1d81"/><rect x="1622" fill="#6b1d81"/><rect x="1646" fill="#6b1d81"/><rect x="1670" fill="#6b1d81"/><rect x="1694" fill="#6b1d81"/></g>
<g transform="translate(0 548)"><rect x="1195" fill="#882781"/><rect x="1219" fill="#882781"/><rect x="1242" fill="#812581"/><rect x="1266" fill="#762181"/><rect x="1290" fill="#6e1e81"/><rect x="1314" fill="#681c81"/><rect x="1337" fill="#651a80"/><rect x="1361" fill="#641a80"/><rect x="1385" fill="#641a80"/><rect x="1409" fill="#641a80"/><rect x="1432" fill="#641a80"/><rect x="1456" fill="#651a80"/><rect x="1480" fill="#671b80"/><rect x="1504" fill="#681c81"/><rect x="1527" fill="#6a1c81"/><rect x="1551" fill="#6b1d81"/><rect x="1575" fill="#6b1d81"/><rect x="1599" fill="#6b1d81"/><rect x="1622" fill="#6b1d81"/><rect x="1646" fill="#6b1d81"/><rect x="1670" fill="#6b1d81"/><rect x="1694" fill="#6b1d81"/></g>
<g transform="translate(0 572)"><rect x="1195" fill="#8c2981"/><rect x="1219" fill="#8c2981"/><rect x="1242" fill="#862781"/><rect x="1266" fill="#792282"/><rect x="1290" fill="#701f81"/><rect x="1314" fill="#681c81"/><rect x="1337" fill="#651a80"/><rect x="1361" fill="#641a80"/><rect x="1385" fill="#621980"/><rect x="1409" fill="#621980"/><rect x="1432" fill="#641a80"/><rect x="1456" fill="#651a80"/><rect x="1480" fill="#651a80"/><rect x="1504" fill="#671b80"/><rect x="1527" fill="#6a1c81"/><rect x="1551" fill="#6b1d81"/><rect x="1575" fill="#6b1d81"/><rect x="1599" fill="#6b1d81"/><rect x="1622" fill="#6b1d81"/><rect x="1646" fill="#6b1d81"/><rect x="1670" fill="#6b1d81"/><rect x="1694" fill="#6b1d81"/></g>
<g transform="translate(0 595)"><rect x="1195" fill="#932b80"/><rect x="1219" fill="#932b80"/><rect x="1242" fill="#892881"/><rect x="1266" fill="#7b2382"/><rect x="1290" fill="#701f81"/><rect x="1314" fill="#681c81"/><rect x="1337" fill="#651a80"/><rect x="1361" fill="#641a80"/><rect x="1385" fill="#621980"/><rect x="1409" fill="#601880"/><rect x="1432" fill="#621980"/><rect x="1456" fill="#641a80"/><rect x="1480" fill="#651a80"/><rect x="1504" fill="#671b80"/><rect x="1527" fill="#6a1c81"/><rect x="1551" fill="#6b1d81"/><rect x="1575" fill="#6b1d81"/><rect x="1599" fill="#6b1d81"/><rect x="1622" fill="#6b1d81"/><rect x="1646" fill="#6b1d81"/><rect x="1670" fill="#6b1d81"/><rect x="1694" fill="#6b1d81"/></g>
<g transform="translate(0 619)"><rect x="1195" fill="#982d80"/><rect x="1219" fill="#982d80"/><rect x="1242" fill="#8e2a81"/><rect x="1266" fill="#7e2482"/><rect x="1290" fill="#701f81"/><rect x="1314" fill="#681c81"/><rect x="1337" fill="#641a80"/><rect x="1361" fill="#621980"/><rect x="1385" fill="#601880"/><rect x="1409" fill="#601880"/><rect x="1432" fill="#621980"/><rect x="1456" fill="#621980"/><rect x="1480" fill="#641a80"/><rect x="1504" fill="#671b80"/><rect x="1527" fill="#6a1c81"/><rect x="1551" fill="#6b1d81"/><rect x="1575" fill="#6b1d81"/><rect x="1599" fill="#6b1d81"/><rect x="1622" fill="#6b1d81"/><rect x="1646" fill="#6b1d81"/><rect x="1670" fill="#6b1d81"/><rect x="1694" fill="#6b1d81"/></g>
<g transform="translate(0 642)"><rect x="1195" fill="#9e2f7f"/><rect x="1219" fill="#9e2f7f"/><rect x="1242" fill="#932b80"/><rect x="1266" fill="#802582"/><rect x="1290" fill="#721f81"/><rect x="1314" fill="#671b80"/><rect x="1337" fill="#641a80"/><rect x="1361" fill="#601880"/><rect x="1385" fill="#5f187f"/><rect x="1409" fill="#5f187f"/><rect x="1432" fill="#601880"/><rect x="1456" fill="#621980"/><rect x="1480" fill="#641a80"/><rect x="1504" fill="#651a80"/><rect x="1527" fill="#681c81"/><rect x="1551" fill="#6b1d81"/><rect x="1575" fill="#6b1d81"/><rect x="1599" fill="#6b1d81"/><rect x="1622" fill="#6b1d81"/><rect x="1646" fill="#6b1d81"/><rect x="1670" fill="#6b1d81"/><rect x="1694" fill="#6b1d81"/></g>
<g transform="translate(0 666)"><rect x="1195" fill="#a3307e"/><rect x="1219" fill="#a3307e"/><rect x="1242" fill="#962c80"/><rect x="1266" fill="#812581"/><rect x="1290" fill="#721f81"/><rect x="1314" fill="#671b80"/><rect x="1337" fill="#621980"/><rect x="1361" fill="#5f187f"/><rect x="1385" fill="#5d177f"/><rect x="1409" fill="#5c167f"/><rect x="1432" fill="#5f187f"/><rect x="1456" fill="#601880"/><rect x="1480" fill="#621980"/><rect x="1504" fill="#651a80"/><rect x="1527" fill="#681c81"/><rect x="1551" fill="#6b1d81"/><rect x="1575" fill="#6b1d81"/><rect x="1599" fill="#6b1d81"/><rect x="1622" fill="#6b1d81"/><rect x="1646" fill="#6b1d81"/><rect x="1670" fill="#6b1d81"/><rect x="1694" fill="#6b1d81"/></g>
<g transform="translate(0 690)"><rect x="1195" fill="#a8327d"/><rect x="1219" fill="#a8327d"/><rect x="1242" fill="#9b2e7f"/><rect x="1266" fill="#842681"/><rect x="1290" fill="#732081"/><rect x="1314" fill="#671b80"/><rect x="1337" fill="#621980"/><rect x="1361" fill="#5f187f"/><rect x="1385" fill="#5a167e"/><rect x="1409" fill="#57157e"/><rect x="1432" fill="#5c167f"/><rect x="1456" fill="#5f187f"/><rect x="1480" fill="#601880"/><rect x="1504" fill="#641a80"/><rect x="1527" fill="#671b80"/><rect x="1551" fill="#6a1c81"/><rect x="1575" fill="#6b1d81"/><rect x="1599" fill="#6b1d81"/><rect x="1622" fill="#6b1d81"/><rect x="1646" fill="#6b1d81"/><rect x="1670" fill="#6b1d81"/><rect x="1694" fill="#6b1d81"/></g>
<g transform="translate(0 713)"><rect x="1195" fill="#ad347c"/><rect x="1219" fill="#ad347c"/><rect x="1242" fill="#a02f7f"/><rect x="1266" fill="#892881"/><rect x="1290" fill="#762181"/><rect x="1314" fill="#6a1c81"/><rect x="1337" fill="#641a80"/><rect x="1361" fill="#5f187f"/><rect x="1385" fill="#57157e"/><rect x="1409" fill="#54137d"/><rect x="1432" fill="#5a167e"/><rect x="1456" fill="#5d177f"/><rect x="1480" fill="#5c167f"/><rect x="1504" fill="#601880"/><rect x="1527" fill="#651a80"/><rect x="1551" fill="#6a1c81"/><rect x="1575" fill="#6b1d81"/><rect x="1599" fill="#6b1d81"/><rect x="1622" fill="#6b1d81"/><rect x="1646" fill="#6b1d81"/><rect x="1670" fill="#6b1d81"/><rect x="1694" fill="#6b1d81"/></g>
<g transform="translate(0 737)"><rect x="1195" fill="#b0357b"/><rect x="1219" fill="#b0357b"/><rect x="1242" fill="#a3307e"/><rect x="1266" fill="#8c2981"/><rect x="1290" fill="#7b2382"/><rect x="1314" fill="#6d1d81"/><rect x="1337" fill="#651a80"/><rect x="1361" fill="#5f187f"/><rect x="1385" fill="#57157e"/><rect x="1409" fill="#52137c"/><rect x="1432" fill="#59157e"/><rect x="1456" fill="#5a167e"/><rect x="1480" fill="#56147d"/><rect x="1504" fill="#5a167e"/><rect x="1527" fill="#641a80"/><rect x="1551" fill="#681c81"/><rect x="1575" fill="#6a1c81"/><rect x="1599" fill="#6a1c81"/><rect x="1622" fill="#6a1c81"/><rect x="1646" fill="#6a1c81"/><rect x="1670" fill="#6a1c81"/><rect x="1694" fill="#6a1c81"/></g>
<g transform="translate(0 761)"><rect x="1195" fill="#b5367a"/><rect x="1219" fill="#b5367a"/><rect x="1242" fill="#a6317d"/><rect x="1266" fill="#902a81"/><rect x="1290" fill="#7e2482"/><rect x="1314" fill="#721f81"/><rect x="1337" fill="#681c81"/><rect x="1361" fill="#601880"/><rect x="1385" fill="#59157e"/><rect x="1409" fill="#54137d"/><rect x="1432" fill="#59157e"/><rect x="1456" fill="#57157e"/><rect x="1480" fill="#4c117a"/><rect x="1504" fill="#54137d"/><rect x="1527" fill="#601880"/><rect x="1551" fill="#651a80"/><rect x="1575" fill="#671b80"/><rect x="1599" fill="#671b80"/><rect x="1622" fill="#671b80"/><rect x="1646" fill="#671b80"/><rect x="1670" fill="#671b80"/><rect x="1694" fill="#671b80"/></g>
<g transform="translate(0 784)"><rect x="1195" fill="#b5367a"/><rect x="1219" fill="#b5367a"/><rect x="1242" fill="#a8327d"/><rect x="1266" fill="#912b81"/><rect x="1290" fill="#812581"/><rect x="1314" fill="#752181"/><rect x="1337" fill="#6a1c81"/><rect x="1361" fill="#641a80"/><rect x="1385" fill="#5d177f"/><rect x="1409" fill="#59157e"/><rect x="1432" fill="#5a167e"/><rect x="1456" fill="#56147d"/><rect x="1480" fill="#491078"/><rect x="1504" fill="#51127c"/><rect x="1527" fill="#5d177f"/><rect x="1551" fill="#601880"/><rect x="1575" fill="#641a80"/><rect x="1599" fill="#641a80"/><rect x="1622" fill="#641a80"/><rect x="1646" fill="#641a80"/><rect x="1670" fill="#641a80"/><rect x="1694" fill="#641a80"/></g>
<g transform="translate(0 808)"><rect x="1195" fill="#b3367a"/><rect x="1219" fill="#b3367a"/><rect x="1242" fill="#a6317d"/><rect x="1266" fill="#912b81"/><rect x="1290" fill="#832681"/><rect x="1314" fill="#782281"/><rect x="1337" fill="#6d1d81"/><rect x="1361" fill="#651a80"/><rect x="1385" fill="#601880"/><rect x="1409" fill="#5c167f"/><rect x="1432" fill="#5c167f"/><rect x="1456" fill="#57157e"/><rect x="1480" fill="#4a1079"/><rect x="1504" fill="#4f127b"/><rect x="1527" fill="#56147d"/><rect x="1551" fill="#59157e"/><rect x="1575" fill="#5c167f"/><rect x="1599" fill="#5d177f"/><rect x="1622" fill="#5d177f"/><rect x="1646" fill="#5f187f"/><rect x="1670" fill="#5f187f"/><rect x="1694" fill="#5f187f"/></g>
<g transform="translate(0 832)"><rect x="1195" fill="#ad347c"/><rect x="1219" fill="#ad347c"/><rect x="1242" fill="#a1307e"/><rect x="1266" fill="#902a81"/><rect x="1290" fill="#842681"/><rect x="1314" fill="#7b2382"/><rect x="1337" fill="#721f81"/><rect x="1361" fill="#6a1c81"/><rect x="1385" fill="#621980"/><rect x="1409" fill="#5f187f"/><rect x="1432" fill="#5d177f"/><rect x="1456" fill="#59157e"/><rect x="1480" fill="#51127c"/><rect x="1504" fill="#4e117b"/><rect x="1527" fill="#4c117a"/><rect x="1551" fill="#4a1079"/><rect x="1575" fill="#51127c"/><rect x="1599" fill="#52137c"/><rect x="1622" fill="#52137c"/><rect x="1646" fill="#56147d"/><rect x="1670" fill="#57157e"/><rect x="1694" fill="#57157e"/></g>
<g transform="translate(0 855)"><rect x="1195" fill="#aa337d"/><rect x="1219" fill="#aa337d"/><rect x="1242" fill="#a02f7f"/><rect x="1266" fill="#902a81"/><rect x="1290" fill="#862781"/><rect x="1314" fill="#7c2382"/><rect x="1337" fill="#732081"/><rect x="1361" fill="#6b1d81"/><rect x="1385" fill="#641a80"/><rect x="1409" fill="#5f187f"/><rect x="1432" fill="#5d177f"/><rect x="1456" fill="#59157e"/><rect x="1480" fill="#54137d"/><rect x="1504" fill="#4e117b"/><rect x="1527" fill="#451077"/><rect x="1551" fill="#440f76"/><rect x="1575" fill="#491078"/><rect x="1599" fill="#4c117a"/><rect x="1622" fill="#4c117a"/><rect x="1646" fill="#4e117b"/><rect x="1670" fill="#4f127b"/><rect x="1694" fill="#4f127b"/></g>
<g transform="translate(0 879)"><rect x="1195" fill="#ba3878"/><rect x="1219" fill="#ba3878"/><rect x="1242" fill="#ad347c"/><rect x="1266" fill="#982d80"/><rect x="1290" fill="#8b2981"/><rect x="1314" fill="#802582"/><rect x="1337" fill="#752181"/><rect x="1361" fill="#6b1d81"/><rect x="1385" fill="#621980"/><rect x="1409" fill="#5c167f"/><rect x="1432" fill="#59157e"/><rect x="1456" fill="#56147d"/><rect x="1480" fill="#52137c"/><rect x="1504" fill="#4e117b"/><rect x="1527" fill="#471078"/><rect x="1551" fill="#440f76"/><rect x="1575" fill="#471078"/><rect x="1599" fill="#491078"/><rect x="1622" fill="#491078"/><rect x="1646" fill="#491078"/><rect x="1670" fill="#471078"/><rect x="1694" fill="#471078"/></g>
<g transform="translate(0 903)"><rect x="1195" fill="#ca3e72"/><rect x="1219" fill="#ca3e72"/><rect x="1242" fill="#ba3878"/><rect x="1266" fill="#a02f7f"/><rect x="1290" fill="#902a81"/><rect x="1314" fill="#832681"/><rect x="1337" fill="#762181"/><rect x="1361" fill="#6b1d81"/><rect x="1385" fill="#621980"/><rect x="1409" fill="#5c167f"/><rect x="1432" fill="#57157e"/><rect x="1456" fill="#56147d"/><rect x="1480" fill="#52137c"/><rect x="1504" fill="#4f127b"/><rect x="1527" fill="#4a1079"/><rect x="1551" fill="#471078"/><rect x="1575" fill="#471078"/><rect x="1599" fill="#471078"/><rect x="1622" fill="#451077"/><rect x="1646" fill="#440f76"/><rect x="1670" fill="#420f75"/><rect x="1694" fill="#420f75"/></g>
<g transform="translate(0 926)"><rect x="1195" fill="#d6456c"/><rect x="1219" fill="#d6456c"/><rect x="1242" fill="#c53c74"/><rect x="1266" fill="#a6317d"/><rect x="1290" fill="#942c80"/><rect x="1314" fill="#862781"/><rect x="1337" fill="#7c2382"/><rect x="1361" fill="#732081"/><rect x="1385" fill="#681c81"/><rect x="1409" fill="#601880"/><rect x="1432" fill="#5c167f"/><rect x="1456" fill="#59157e"/><rect x="1480" fill="#54137d"/><rect x="1504" fill="#51127c"/><rect x="1527" fill="#4e117b"/><rect x="1551" fill="#4a1079"/><rect x="1575" fill="#471078"/><rect x="1599" fill="#451077"/><rect x="1622" fill="#420f75"/><rect x="1646" fill="#3f0f72"/><rect x="1670" fill="#3d0f71"/><rect x="1694" fill="#3d0f71"/></g>
<g transform="translate(0 950)"><rect x="1195" fill="#de4968"/><rect x="1219" fill="#de4968"/><rect x="1242" fill="#cc3f71"/><rect x="1266" fill="#ab337c"/><rect x="1290" fill="#982d80"/><rect x="1314" fill="#8b2981"/><rect x="1337" fill="#832681"/><rect x="1361" fill="#7b2382"/><rect x="1385" fill="#721f81"/><rect x="1409" fill="#6a1c81"/><rect x="1432" fill="#641a80"/><rect x="1456" fill="#5d177f"/><rect x="1480" fill="#57157e"/><rect x="1504" fill="#54137d"/><rect x="1527" fill="#51127c"/><rect x="1551" fill="#4c117a"/><rect x="1575" fill="#471078"/><rect x="1599" fill="#440f76"/><rect x="1622" fill="#400f74"/><rect x="1646" fill="#3d0f71"/><rect x="1670" fill="#3b0f70"/><rect x="1694" fill="#3b0f70"/></g>
<g transform="translate(0 973)"><rect x="1195" fill="#df4a68"/><rect x="1219" fill="#df4a68"/><rect x="1242" fill="#cf4070"/><rect x="1266" fill="#b2357b"/><rect x="1290" fill="#9e2f7f"/><rect x="1314" fill="#902a81"/><rect x="1337" fill="#892881"/><rect x="1361" fill="#832681"/><rect x="1385" fill="#7b2382"/><rect x="1409" fill="#732081"/><rect x="1432" fill="#6e1e81"/><rect x="1456" fill="#681c81"/><rect x="1480" fill="#601880"/><rect x="1504" fill="#5c167f"/><rect x="1527" fill="#59157e"/><rect x="1551" fill="#54137d"/><rect x="1575" fill="#4f127b"/><rect x="1599" fill="#4c117a"/><rect x="1622" fill="#491078"/><rect x="1646" fill="#451077"/><rect x="1670" fill="#440f76"/><rect x="1694" fill="#440f76"/></g>
<g transform="translate(0 997)"><rect x="1195" fill="#e04c67"/><rect x="1219" fill="#e04c67"/><rect x="1242" fill="#d2426f"/><rect x="1266" fill="#b73779"/><rect x="1290" fill="#a3307e"/><rect x="1314" fill="#962c80"/><rect x="1337" fill="#902a81"/><rect x="1361" fill="#892881"/><rect x="1385" fill="#832681"/><rect x="1409" fill="#7e2482"/><rect x="1432" fill="#7b2382"/><rect x="1456" fill="#762181"/><rect x="1480" fill="#701f81"/><rect x="1504" fill="#6b1d81"/><rect x="1527" fill="#671b80"/><rect x="1551" fill="#621980"/><rect x="1575" fill="#5f187f"/><rect x="1599" fill="#5c167f"/><rect x="1622" fill="#5a167e"/><rect x="1646" fill="#57157e"/><rect x="1670" fill="#56147d"/><rect x="1694" fill="#56147d"/></g>
<g transform="translate(0 1021)"><rect x="1195" fill="#e24d66"/><rect x="1219" fill="#e24d66"/><rect x="1242" fill="#d5446d"/><rect x="1266" fill="#bd3977"/><rect x="1290" fill="#aa337d"/><rect x="1314" fill="#9b2e7f"/><rect x="1337" fill="#942c80"/><rect x="1361" fill="#902a81"/><rect x="1385" fill="#8b2981"/><rect x="1409" fill="#862781"/><rect x="1432" fill="#832681"/><rect x="1456" fill="#802582"/><rect x="1480" fill="#802582"/><rect x="1504" fill="#802582"/><rect x="1527" fill="#7e2482"/><rect x="1551" fill="#7b2382"/><rect x="1575" fill="#762181"/><rect x="1599" fill="#752181"/><rect x="1622" fill="#732081"/><rect x="1646" fill="#721f81"/><rect x="1670" fill="#701f81"/><rect x="1694" fill="#701f81"/></g>
<g transform="translate(0 1044)"><rect x="1195" fill="#e34e65"/><rect x="1219" fill="#e34e65"/><rect x="1242" fill="#d9466b"/><rect x="1266" fill="#c53c74"/><rect x="1290" fill="#b2357b"/><rect x="1314" fill="#a1307e"/><rect x="1337" fill="#992d80"/><rect x="1361" fill="#962c80"/><rect x="1385" fill="#912b81"/><rect x="1409" fill="#8c2981"/><rect x="1432" fill="#882781"/><rect x="1456" fill="#882781"/><rect x="1480" fill="#912b81"/><rect x="1504" fill="#992d80"/><rect x="1527" fill="#9e2f7f"/><rect x="1551" fill="#a02f7f"/><rect x="1575" fill="#9e2f7f"/><rect x="1599" fill="#9c2e7f"/><rect x="1622" fill="#9c2e7f"/><rect x="1646" fill="#992d80"/><rect x="1670" fill="#982d80"/><rect x="1694" fill="#982d80"/></g>
<g transform="translate(0 1068)"><rect x="1195" fill="#e55064"/><rect x="1219" fill="#e55064"/><rect x="1242" fill="#df4a68"/><rect x="1266" fill="#d0416f"/><rect x="1290" fill="#bd3977"/><rect x="1314" fill="#ad347c"/><rect x="1337" fill="#a5317e"/><rect x="1361" fill="#a02f7f"/><rect x="1385" fill="#9c2e7f"/><rect x="1409" fill="#992d80"/><rect x="1432" fill="#962c80"/><rect x="1456" fill="#982d80"/><rect x="1480" fill="#a8327d"/><rect x="1504" fill="#ae347b"/><rect x="1527" fill="#b2357b"/><rect x="1551" fill="#b73779"/><rect x="1575" fill="#bc3978"/><rect x="1599" fill="#bc3978"/><rect x="1622" fill="#bd3977"/><rect x="1646" fill="#ba3878"/><rect x="1670" fill="#b83779"/><rect x="1694" fill="#b83779"/></g>
<g transform="translate(0 1092)"><rect x="1195" fill="#ea5661"/><rect x="1219" fill="#ea5661"/><rect x="1242" fill="#e75263"/><rect x="1266" fill="#de4968"/><rect x="1290" fill="#d2426f"/><rect x="1314" fill="#c53c74"/><rect x="1337" fill="#bf3a77"/><rect x="1361" fill="#ba3878"/><rect x="1385" fill="#b2357b"/><rect x="1409" fill="#b0357b"/><rect x="1432" fill="#bc3978"/><rect x="1456" fill="#c03a76"/><rect x="1480" fill="#c43c75"/><rect x="1504" fill="#bf3a77"/><rect x="1527" fill="#bc3978"/><rect x="1551" fill="#c43c75"/><rect x="1575" fill="#cd4071"/><rect x="1599" fill="#d2426f"/><rect x="1622" fill="#d3436e"/><rect x="1646" fill="#d0416f"/><rect x="1670" fill="#cf4070"/><rect x="1694" fill="#cf4070"/></g>
<g transform="translate(0 1115)"><rect x="1195" fill="#f05f5e"/><rect x="1219" fill="#f05f5e"/><rect x="1242" fill="#ee5b5e"/><rect x="1266" fill="#ea5661"/><rect x="1290" fill="#e44f64"/><rect x="1314" fill="#df4a68"/><rect x="1337" fill="#d9466b"/><rect x="1361" fill="#d3436e"/><rect x="1385" fill="#cc3f71"/><rect x="1409" fill="#cc3f71"/><rect x="1432" fill="#df4a68"/><rect x="1456" fill="#e24d66"/><rect x="1480" fill="#db476a"/><rect x="1504" fill="#d2426f"/><rect x="1527" fill="#c83e73"/><rect x="1551" fill="#d3436e"/><rect x="1575" fill="#e04c67"/><rect x="1599" fill="#e75263"/><rect x="1622" fill="#e85362"/><rect x="1646" fill="#e55064"/><rect x="1670" fill="#e34e65"/><rect x="1694" fill="#e34e65"/></g>
<g transform="translate(0 1139)"><rect x="1195" fill="#f66e5c"/><rect x="1219" fill="#f66e5c"/><rect x="1242" fill="#f56b5c"/><rect x="1266" fill="#f2645c"/><rect x="1290" fill="#f05f5e"/><rect x="1314" fill="#ed5a5f"/><rect x="1337" fill="#eb5760"/><rect x="1361" fill="#e85362"/><rect x="1385" fill="#e55064"/><rect x="1409" fill="#e75263"/><rect x="1432" fill="#f1605d"/><rect x="1456" fill="#f05f5e"/><rect x="1480" fill="#e55064"/><rect x="1504" fill="#e55064"/><rect x="1527" fill="#ed5a5f"/><rect x="1551" fill="#f4675c"/><rect x="1575" fill="#f8745c"/><rect x="1599" fill="#f9795d"/><rect x="1622" fill="#f97b5d"/><rect x="1646" fill="#f8765c"/><rect x="1670" fill="#f66e5c"/><rect x="1694" fill="#f66e5c"/></g>
<g transform="translate(0 1163)"><rect x="1195" fill="#fa815f"/><rect x="1219" fill="#fa815f"/><rect x="1242" fill="#fa7d5e"/><rect x="1266" fill="#f8765c"/><rect x="1290" fill="#f7725c"/><rect x="1314" fill="#f7705c"/><rect x="1337" fill="#f66c5c"/><rect x="1361" fill="#f56b5c"/><rect x="1385" fill="#f66c5c"/><rect x="1409" fill="#f7705c"/><rect x="1432" fill="#f9785d"/><rect x="1456" fill="#f8745c"/><rect x="1480" fill="#ee5b5e"/><rect x="1504" fill="#f4695c"/><rect x="1527" fill="#fd9266"/><rect x="1551" fill="#fe9f6d"/><rect x="1575" fill="#fea571"/><rect x="1599" fill="#fea36f"/><rect x="1622" fill="#fea36f"/><rect x="1646" fill="#fd9668"/><rect x="1670" fill="#fc8a62"/><rect x="1694" fill="#fc8a62"/></g>
<g transform="translate(0 1186)"><rect x="1195" fill="#fd9668"/><rect x="1219" fill="#fd9668"/><rect x="1242" fill="#fd9266"/><rect x="1266" fill="#fc8c63"/><rect x="1290" fill="#fc8a62"/><rect x="1314" fill="#fc8961"/><rect x="1337" fill="#fb8560"/><rect x="1361" fill="#fb8560"/><rect x="1385" fill="#fb8761"/><rect x="1409" fill="#fc8a62"/><rect x="1432" fill="#fc8e64"/><rect x="1456" fill="#fc8a62"/><rect x="1480" fill="#f9785d"/><rect x="1504" fill="#fc8c63"/><rect x="1527" fill="#feb078"/><rect x="1551" fill="#feb97f"/><rect x="1575" fill="#feb97f"/><rect x="1599" fill="#feb67c"/><rect x="1622" fill="#feae77"/><rect x="1646" fill="#fd9668"/><rect x="1670" fill="#fc8c63"/><rect x="1694" fill="#fc8c63"/></g>
<g transform="translate(0 1210)"><rect x="1195" fill="#feac76"/><rect x="1219" fill="#feac76"/><rect x="1242" fill="#feaa74"/><rect x="1266" fill="#fea772"/><rect x="1290" fill="#fea36f"/><rect x="1314" fill="#fea16e"/><rect x="1337" fill="#fe9f6d"/><rect x="1361" fill="#fe9d6c"/><rect x="1385" fill="#fe9f6d"/><rect x="1409" fill="#fea16e"/><rect x="1432" fill="#fe9f6d"/><rect x="1456" fill="#fea16e"/><rect x="1480" fill="#fea772"/><rect x="1504" fill="#feb47b"/><rect x="1527" fill="#fec68a"/><rect x="1551" fill="#feca8d"/><rect x="1575" fill="#fec88c"/><rect x="1599" fill="#fec185"/><rect x="1622" fill="#feb47b"/><rect x="1646" fill="#fd9467"/><rect x="1670" fill="#fb835f"/><rect x="1694" fill="#fb835f"/></g>
<g transform="translate(0 1234)"><rect x="1195" fill="#feb77e"/><rect x="1219" fill="#feb77e"/><rect x="1242" fill="#feb67c"/><rect x="1266" fill="#feb47b"/><rect x="1290" fill="#feb27a"/><rect x="1314" fill="#feae77"/><rect x="1337" fill="#feaa74"/><rect x="1361" fill="#fea973"/><rect x="1385" fill="#fea973"/><rect x="1409" fill="#fea973"/><rect x="1432" fill="#fea772"/><rect x="1456" fill="#feac76"/><rect x="1480" fill="#fec287"/><rect x="1504" fill="#feca8d"/><rect x="1527" fill="#fecd90"/><rect x="1551" fill="#fecc8f"/><rect x="1575" fill="#feca8d"/><rect x="1599" fill="#fec287"/><rect x="1622" fill="#feb47b"/><rect x="1646" fill="#fc9065"/><rect x="1670" fill="#f9795d"/><rect x="1694" fill="#f9795d"/></g>
<g transform="translate(0 1257)"><rect x="1195" fill="#feb77e"/><rect x="1219" fill="#feb77e"/><rect x="1242" fill="#feb67c"/><rect x="1266" fill="#feb47b"/><rect x="1290" fill="#feb27a"/><rect x="1314" fill="#feae77"/><rect x="1337" fill="#feaa74"/><rect x="1361" fill="#fea973"/><rect x="1385" fill="#fea973"/><rect x="1409" fill="#fea973"/><rect x="1432" fill="#fea772"/><rect x="1456" fill="#feac76"/><rect x="1480" fill="#fec287"/><rect x="1504" fill="#feca8d"/><rect x="1527" fill="#fecd90"/><rect x="1551" fill="#fecc8f"/><rect x="1575" fill="#feca8d"/><rect x="1599" fill="#fec287"/><rect x="1622" fill="#feb47b"/><rect x="1646" fill="#fc9065"/><rect x="1670" fill="#f9795d"/><rect x="1694" fill="#f9795d"/></g>
</g></g>
<rect x="1242.9" y="146.4" width="427.4" height="1087.7" fill="none" stroke="#000" stroke-width="3.6"/>
<g clip-path="url(#cP4)"><g filter="url(#bl)" shape-rendering="crispEdges" class="hm">
<g transform="translate(0 99)"><rect x="1638" fill="#5c167f"/><rect x="1662" fill="#5c167f"/><rect x="1685" fill="#5c167f"/><rect x="1709" fill="#5c167f"/><rect x="1733" fill="#5c167f"/><rect x="1757" fill="#5c167f"/><rect x="1780" fill="#5c167f"/><rect x="1804" fill="#5c167f"/><rect x="1828" fill="#5c167f"/><rect x="1852" fill="#5c167f"/><rect x="1875" fill="#5d177f"/><rect x="1899" fill="#5f187f"/><rect x="1923" fill="#601880"/><rect x="1947" fill="#601880"/><rect x="1970" fill="#621980"/><rect x="1994" fill="#621980"/><rect x="2018" fill="#641a80"/><rect x="2042" fill="#671b80"/><rect x="2065" fill="#6b1d81"/><rect x="2089" fill="#721f81"/><rect x="2113" fill="#752181"/><rect x="2137" fill="#752181"/></g>
<g transform="translate(0 122)"><rect x="1638" fill="#5c167f"/><rect x="1662" fill="#5c167f"/><rect x="1685" fill="#5c167f"/><rect x="1709" fill="#5c167f"/><rect x="1733" fill="#5c167f"/><rect x="1757" fill="#5c167f"/><rect x="1780" fill="#5c167f"/><rect x="1804" fill="#5c167f"/><rect x="1828" fill="#5c167f"/><rect x="1852" fill="#5c167f"/><rect x="1875" fill="#5d177f"/><rect x="1899" fill="#5f187f"/><rect x="1923" fill="#601880"/><rect x="1947" fill="#601880"/><rect x="1970" fill="#621980"/><rect x="1994" fill="#621980"/><rect x="2018" fill="#641a80"/><rect x="2042" fill="#671b80"/><rect x="2065" fill="#6b1d81"/><rect x="2089" fill="#721f81"/><rect x="2113" fill="#752181"/><rect x="2137" fill="#752181"/></g>
<g transform="translate(0 146)"><rect x="1638" fill="#5c167f"/><rect x="1662" fill="#5c167f"/><rect x="1685" fill="#5c167f"/><rect x="1709" fill="#5c167f"/><rect x="1733" fill="#5c167f"/><rect x="1757" fill="#5c167f"/><rect x="1780" fill="#5c167f"/><rect x="1804" fill="#5c167f"/><rect x="1828" fill="#5c167f"/><rect x="1852" fill="#5c167f"/><rect x="1875" fill="#5d177f"/><rect x="1899" fill="#5f187f"/><rect x="1923" fill="#601880"/><rect x="1947" fill="#601880"/><rect x="1970" fill="#621980"/><rect x="1994" fill="#621980"/><rect x="2018" fill="#641a80"/><rect x="2042" fill="#671b80"/><rect x="2065" fill="#6b1d81"/><rect x="2089" fill="#721f81"/><rect x="2113" fill="#752181"/><rect x="2137" fill="#752181"/></g>
<g transform="translate(0 170)"><rect x="1638" fill="#5c167f"/><rect x="1662" fill="#5c167f"/><rect x="1685" fill="#5c167f"/><rect x="1709" fill="#5c167f"/><rect x="1733" fill="#5c167f"/><rect x="1757" fill="#5c167f"/><rect x="1780" fill="#5c167f"/><rect x="1804" fill="#5c167f"/><rect x="1828" fill="#5c167f"/><rect x="1852" fill="#5c167f"/><rect x="1875" fill="#5d177f"/><rect x="1899" fill="#5f187f"/><rect x="1923" fill="#601880"/><rect x="1947" fill="#601880"/><rect x="1970" fill="#621980"/><rect x="1994" fill="#621980"/><rect x="2018" fill="#641a80"/><rect x="2042" fill="#671b80"/><rect x="2065" fill="#6b1d81"/><rect x="2089" fill="#721f81"/><rect x="2113" fill="#752181"/><rect x="2137" fill="#752181"/></g>
<g transform="translate(0 193)"><rect x="1638" fill="#5c167f"/><rect x="1662" fill="#5c167f"/><rect x="1685" fill="#5c167f"/><rect x="1709" fill="#5c167f"/><rect x="1733" fill="#5c167f"/><rect x="1757" fill="#5c167f"/><rect x="1780" fill="#5c167f"/><rect x="1804" fill="#5c167f"/><rect x="1828" fill="#5c167f"/><rect x="1852" fill="#5c167f"/><rect x="1875" fill="#5d177f"/><rect x="1899" fill="#5f187f"/><rect x="1923" fill="#601880"/><rect x="1947" fill="#601880"/><rect x="1970" fill="#621980"/><rect x="1994" fill="#621980"/><rect x="2018" fill="#641a80"/><rect x="2042" fill="#671b80"/><rect x="2065" fill="#6b1d81"/><rect x="2089" fill="#721f81"/><rect x="2113" fill="#752181"/><rect x="2137" fill="#752181"/></g>
<g transform="translate(0 217)"><rect x="1638" fill="#5c167f"/><rect x="1662" fill="#5c167f"/><rect x="1685" fill="#5c167f"/><rect x="1709" fill="#5c167f"/><rect x="1733" fill="#5c167f"/><rect x="1757" fill="#5c167f"/><rect x="1780" fill="#5c167f"/><rect x="1804" fill="#5c167f"/><rect x="1828" fill="#5c167f"/><rect x="1852" fill="#5c167f"/><rect x="1875" fill="#5d177f"/><rect x="1899" fill="#5f187f"/><rect x="1923" fill="#601880"/><rect x="1947" fill="#601880"/><rect x="1970" fill="#621980"/><rect x="1994" fill="#621980"/><rect x="2018" fill="#641a80"/><rect x="2042" fill="#671b80"/><rect x="2065" fill="#6d1d81"/><rect x="2089" fill="#732081"/><rect x="2113" fill="#762181"/><rect x="2137" fill="#762181"/></g>
<g transform="translate(0 240)"><rect x="1638" fill="#5c167f"/><rect x="1662" fill="#5c167f"/><rect x="1685" fill="#5c167f"/><rect x="1709" fill="#5c167f"/><rect x="1733" fill="#5c167f"/><rect x="1757" fill="#5c167f"/><rect x="1780" fill="#5c167f"/><rect x="1804" fill="#5c167f"/><rect x="1828" fill="#5c167f"/><rect x="1852" fill="#5c167f"/><rect x="1875" fill="#5d177f"/><rect x="1899" fill="#5f187f"/><rect x="1923" fill="#601880"/><rect x="1947" fill="#601880"/><rect x="1970" fill="#621980"/><rect x="1994" fill="#621980"/><rect x="2018" fill="#641a80"/><rect x="2042" fill="#681c81"/><rect x="2065" fill="#6d1d81"/><rect x="2089" fill="#752181"/><rect x="2113" fill="#782281"/><rect x="2137" fill="#782281"/></g>
<g transform="translate(0 264)"><rect x="1638" fill="#5c167f"/><rect x="1662" fill="#5c167f"/><rect x="1685" fill="#5c167f"/><rect x="1709" fill="#5c167f"/><rect x="1733" fill="#5c167f"/><rect x="1757" fill="#5c167f"/><rect x="1780" fill="#5c167f"/><rect x="1804" fill="#5c167f"/><rect x="1828" fill="#5c167f"/><rect x="1852" fill="#5c167f"/><rect x="1875" fill="#5d177f"/><rect x="1899" fill="#5f187f"/><rect x="1923" fill="#601880"/><rect x="1947" fill="#601880"/><rect x="1970" fill="#621980"/><rect x="1994" fill="#641a80"/><rect x="2018" fill="#651a80"/><rect x="2042" fill="#681c81"/><rect x="2065" fill="#6e1e81"/><rect x="2089" fill="#762181"/><rect x="2113" fill="#792282"/><rect x="2137" fill="#792282"/></g>
<g transform="translate(0 288)"><rect x="1638" fill="#5d177f"/><rect x="1662" fill="#5d177f"/><rect x="1685" fill="#5d177f"/><rect x="1709" fill="#5c167f"/><rect x="1733" fill="#5c167f"/><rect x="1757" fill="#5c167f"/><rect x="1780" fill="#5c167f"/><rect x="1804" fill="#5c167f"/><rect x="1828" fill="#5c167f"/><rect x="1852" fill="#5c167f"/><rect x="1875" fill="#5d177f"/><rect x="1899" fill="#5f187f"/><rect x="1923" fill="#5f187f"/><rect x="1947" fill="#601880"/><rect x="1970" fill="#621980"/><rect x="1994" fill="#641a80"/><rect x="2018" fill="#651a80"/><rect x="2042" fill="#6a1c81"/><rect x="2065" fill="#701f81"/><rect x="2089" fill="#782281"/><rect x="2113" fill="#7c2382"/><rect x="2137" fill="#7c2382"/></g>
<g transform="translate(0 311)"><rect x="1638" fill="#5f187f"/><rect x="1662" fill="#5f187f"/><rect x="1685" fill="#5d177f"/><rect x="1709" fill="#5d177f"/><rect x="1733" fill="#5c167f"/><rect x="1757" fill="#5c167f"/><rect x="1780" fill="#5c167f"/><rect x="1804" fill="#5c167f"/><rect x="1828" fill="#5c167f"/><rect x="1852" fill="#5c167f"/><rect x="1875" fill="#5d177f"/><rect x="1899" fill="#5f187f"/><rect x="1923" fill="#5f187f"/><rect x="1947" fill="#601880"/><rect x="1970" fill="#621980"/><rect x="1994" fill="#641a80"/><rect x="2018" fill="#671b80"/><rect x="2042" fill="#6b1d81"/><rect x="2065" fill="#721f81"/><rect x="2089" fill="#7b2382"/><rect x="2113" fill="#802582"/><rect x="2137" fill="#802582"/></g>
<g transform="translate(0 335)"><rect x="1638" fill="#601880"/><rect x="1662" fill="#601880"/><rect x="1685" fill="#5f187f"/><rect x="1709" fill="#5d177f"/><rect x="1733" fill="#5c167f"/><rect x="1757" fill="#5c167f"/><rect x="1780" fill="#5c167f"/><rect x="1804" fill="#5c167f"/><rect x="1828" fill="#5c167f"/><rect x="1852" fill="#5c167f"/><rect x="1875" fill="#5d177f"/><rect x="1899" fill="#5d177f"/><rect x="1923" fill="#5f187f"/><rect x="1947" fill="#601880"/><rect x="1970" fill="#621980"/><rect x="1994" fill="#651a80"/><rect x="2018" fill="#681c81"/><rect x="2042" fill="#6d1d81"/><rect x="2065" fill="#752181"/><rect x="2089" fill="#7c2382"/><rect x="2113" fill="#812581"/><rect x="2137" fill="#812581"/></g>
<g transform="translate(0 359)"><rect x="1638" fill="#601880"/><rect x="1662" fill="#601880"/><rect x="1685" fill="#5f187f"/><rect x="1709" fill="#5d177f"/><rect x="1733" fill="#5d177f"/><rect x="1757" fill="#5c167f"/><rect x="1780" fill="#5c167f"/><rect x="1804" fill="#5c167f"/><rect x="1828" fill="#5c167f"/><rect x="1852" fill="#5c167f"/><rect x="1875" fill="#5d177f"/><rect x="1899" fill="#5d177f"/><rect x="1923" fill="#5f187f"/><rect x="1947" fill="#601880"/><rect x="1970" fill="#641a80"/><rect x="1994" fill="#651a80"/><rect x="2018" fill="#681c81"/><rect x="2042" fill="#6e1e81"/><rect x="2065" fill="#762181"/><rect x="2089" fill="#802582"/><rect x="2113" fill="#842681"/><rect x="2137" fill="#842681"/></g>
<g transform="translate(0 382)"><rect x="1638" fill="#601880"/><rect x="1662" fill="#601880"/><rect x="1685" fill="#5f187f"/><rect x="1709" fill="#5f187f"/><rect x="1733" fill="#5d177f"/><rect x="1757" fill="#5c167f"/><rect x="1780" fill="#5c167f"/><rect x="1804" fill="#5c167f"/><rect x="1828" fill="#5c167f"/><rect x="1852" fill="#5c167f"/><rect x="1875" fill="#5d177f"/><rect x="1899" fill="#5d177f"/><rect x="1923" fill="#5f187f"/><rect x="1947" fill="#601880"/><rect x="1970" fill="#641a80"/><rect x="1994" fill="#651a80"/><rect x="2018" fill="#6a1c81"/><rect x="2042" fill="#6e1e81"/><rect x="2065" fill="#782281"/><rect x="2089" fill="#812581"/><rect x="2113" fill="#882781"/><rect x="2137" fill="#882781"/></g>
<g transform="translate(0 406)"><rect x="1638" fill="#601880"/><rect x="1662" fill="#601880"/><rect x="1685" fill="#5f187f"/><rect x="1709" fill="#5f187f"/><rect x="1733" fill="#5d177f"/><rect x="1757" fill="#5d177f"/><rect x="1780" fill="#5c167f"/><rect x="1804" fill="#5c167f"/><rect x="1828" fill="#5c167f"/><rect x="1852" fill="#5c167f"/><rect x="1875" fill="#5d177f"/><rect x="1899" fill="#5d177f"/><rect x="1923" fill="#5f187f"/><rect x="1947" fill="#601880"/><rect x="1970" fill="#641a80"/><rect x="1994" fill="#671b80"/><rect x="2018" fill="#6a1c81"/><rect x="2042" fill="#701f81"/><rect x="2065" fill="#792282"/><rect x="2089" fill="#842681"/><rect x="2113" fill="#8b2981"/><rect x="2137" fill="#8b2981"/></g>
<g transform="translate(0 430)"><rect x="1638" fill="#601880"/><rect x="1662" fill="#601880"/><rect x="1685" fill="#5f187f"/><rect x="1709" fill="#5f187f"/><rect x="1733" fill="#5d177f"/><rect x="1757" fill="#5d177f"/><rect x="1780" fill="#5d177f"/><rect x="1804" fill="#5c167f"/><rect x="1828" fill="#5c167f"/><rect x="1852" fill="#5c167f"/><rect x="1875" fill="#5d177f"/><rect x="1899" fill="#5d177f"/><rect x="1923" fill="#5f187f"/><rect x="1947" fill="#601880"/><rect x="1970" fill="#641a80"/><rect x="1994" fill="#671b80"/><rect x="2018" fill="#6a1c81"/><rect x="2042" fill="#701f81"/><rect x="2065" fill="#792282"/><rect x="2089" fill="#882781"/><rect x="2113" fill="#8e2a81"/><rect x="2137" fill="#8e2a81"/></g>
<g transform="translate(0 453)"><rect x="1638" fill="#601880"/><rect x="1662" fill="#601880"/><rect x="1685" fill="#601880"/><rect x="1709" fill="#5f187f"/><rect x="1733" fill="#5f187f"/><rect x="1757" fill="#5d177f"/><rect x="1780" fill="#5d177f"/><rect x="1804" fill="#5d177f"/><rect x="1828" fill="#5c167f"/><rect x="1852" fill="#5c167f"/><rect x="1875" fill="#5d177f"/><rect x="1899" fill="#5d177f"/><rect x="1923" fill="#5f187f"/><rect x="1947" fill="#621980"/><rect x="1970" fill="#641a80"/><rect x="1994" fill="#671b80"/><rect x="2018" fill="#6a1c81"/><rect x="2042" fill="#721f81"/><rect x="2065" fill="#7c2382"/><rect x="2089" fill="#892881"/><rect x="2113" fill="#912b81"/><rect x="2137" fill="#912b81"/></g>
<g transform="translate(0 477)"><rect x="1638" fill="#601880"/><rect x="1662" fill="#601880"/><rect x="1685" fill="#601880"/><rect x="1709" fill="#5f187f"/><rect x="1733" fill="#5f187f"/><rect x="1757" fill="#5f187f"/><rect x="1780" fill="#5d177f"/><rect x="1804" fill="#5d177f"/><rect x="1828" fill="#5c167f"/><rect x="1852" fill="#5c167f"/><rect x="1875" fill="#5d177f"/><rect x="1899" fill="#5d177f"/><rect x="1923" fill="#5f187f"/><rect x="1947" fill="#621980"/><rect x="1970" fill="#641a80"/><rect x="1994" fill="#671b80"/><rect x="2018" fill="#6b1d81"/><rect x="2042" fill="#732081"/><rect x="2065" fill="#802582"/><rect x="2089" fill="#8c2981"/><rect x="2113" fill="#942c80"/><rect x="2137" fill="#942c80"/></g>
<g transform="translate(0 501)"><rect x="1638" fill="#621980"/><rect x="1662" fill="#621980"/><rect x="1685" fill="#601880"/><rect x="1709" fill="#601880"/><rect x="1733" fill="#601880"/><rect x="1757" fill="#601880"/><rect x="1780" fill="#5f187f"/><rect x="1804" fill="#5d177f"/><rect x="1828" fill="#5c167f"/><rect x="1852" fill="#5c167f"/><rect x="1875" fill="#5c167f"/><rect x="1899" fill="#5d177f"/><rect x="1923" fill="#5f187f"/><rect x="1947" fill="#621980"/><rect x="1970" fill="#641a80"/><rect x="1994" fill="#671b80"/><rect x="2018" fill="#6b1d81"/><rect x="2042" fill="#762181"/><rect x="2065" fill="#832681"/><rect x="2089" fill="#902a81"/><rect x="2113" fill="#962c80"/><rect x="2137" fill="#962c80"/></g>
<g transform="translate(0 524)"><rect x="1638" fill="#621980"/><rect x="1662" fill="#621980"/><rect x="1685" fill="#621980"/><rect x="1709" fill="#601880"/><rect x="1733" fill="#601880"/><rect x="1757" fill="#601880"/><rect x="1780" fill="#5f187f"/><rect x="1804" fill="#5d177f"/><rect x="1828" fill="#5c167f"/><rect x="1852" fill="#5c167f"/><rect x="1875" fill="#5c167f"/><rect x="1899" fill="#5d177f"/><rect x="1923" fill="#5f187f"/><rect x="1947" fill="#621980"/><rect x="1970" fill="#641a80"/><rect x="1994" fill="#681c81"/><rect x="2018" fill="#6d1d81"/><rect x="2042" fill="#792282"/><rect x="2065" fill="#882781"/><rect x="2089" fill="#942c80"/><rect x="2113" fill="#992d80"/><rect x="2137" fill="#992d80"/></g>
<g transform="translate(0 548)"><rect x="1638" fill="#641a80"/><rect x="1662" fill="#641a80"/><rect x="1685" fill="#621980"/><rect x="1709" fill="#621980"/><rect x="1733" fill="#601880"/><rect x="1757" fill="#601880"/><rect x="1780" fill="#5f187f"/><rect x="1804" fill="#5d177f"/><rect x="1828" fill="#5c167f"/><rect x="1852" fill="#5c167f"/><rect x="1875" fill="#5c167f"/><rect x="1899" fill="#5c167f"/><rect x="1923" fill="#5f187f"/><rect x="1947" fill="#621980"/><rect x="1970" fill="#651a80"/><rect x="1994" fill="#681c81"/><rect x="2018" fill="#6e1e81"/><rect x="2042" fill="#7b2382"/><rect x="2065" fill="#892881"/><rect x="2089" fill="#982d80"/><rect x="2113" fill="#9e2f7f"/><rect x="2137" fill="#9e2f7f"/></g>
<g transform="translate(0 572)"><rect x="1638" fill="#641a80"/><rect x="1662" fill="#641a80"/><rect x="1685" fill="#641a80"/><rect x="1709" fill="#621980"/><rect x="1733" fill="#621980"/><rect x="1757" fill="#601880"/><rect x="1780" fill="#5f187f"/><rect x="1804" fill="#5d177f"/><rect x="1828" fill="#5c167f"/><rect x="1852" fill="#5c167f"/><rect x="1875" fill="#5c167f"/><rect x="1899" fill="#5c167f"/><rect x="1923" fill="#5f187f"/><rect x="1947" fill="#621980"/><rect x="1970" fill="#651a80"/><rect x="1994" fill="#6a1c81"/><rect x="2018" fill="#6e1e81"/><rect x="2042" fill="#7c2382"/><rect x="2065" fill="#8c2981"/><rect x="2089" fill="#9c2e7f"/><rect x="2113" fill="#a3307e"/><rect x="2137" fill="#a3307e"/></g>
<g transform="translate(0 595)"><rect x="1638" fill="#651a80"/><rect x="1662" fill="#651a80"/><rect x="1685" fill="#641a80"/><rect x="1709" fill="#641a80"/><rect x="1733" fill="#621980"/><rect x="1757" fill="#601880"/><rect x="1780" fill="#5f187f"/><rect x="1804" fill="#5f187f"/><rect x="1828" fill="#5d177f"/><rect x="1852" fill="#5c167f"/><rect x="1875" fill="#5c167f"/><rect x="1899" fill="#5c167f"/><rect x="1923" fill="#5f187f"/><rect x="1947" fill="#621980"/><rect x="1970" fill="#671b80"/><rect x="1994" fill="#6a1c81"/><rect x="2018" fill="#701f81"/><rect x="2042" fill="#802582"/><rect x="2065" fill="#912b81"/><rect x="2089" fill="#a1307e"/><rect x="2113" fill="#a8327d"/><rect x="2137" fill="#a8327d"/></g>
<g transform="translate(0 619)"><rect x="1638" fill="#651a80"/><rect x="1662" fill="#651a80"/><rect x="1685" fill="#651a80"/><rect x="1709" fill="#641a80"/><rect x="1733" fill="#621980"/><rect x="1757" fill="#601880"/><rect x="1780" fill="#601880"/><rect x="1804" fill="#5f187f"/><rect x="1828" fill="#5d177f"/><rect x="1852" fill="#5d177f"/><rect x="1875" fill="#5a167e"/><rect x="1899" fill="#5a167e"/><rect x="1923" fill="#5f187f"/><rect x="1947" fill="#621980"/><rect x="1970" fill="#671b80"/><rect x="1994" fill="#6a1c81"/><rect x="2018" fill="#701f81"/><rect x="2042" fill="#812581"/><rect x="2065" fill="#942c80"/><rect x="2089" fill="#a6317d"/><rect x="2113" fill="#ae347b"/><rect x="2137" fill="#ae347b"/></g>
<g transform="translate(0 642)"><rect x="1638" fill="#651a80"/><rect x="1662" fill="#651a80"/><rect x="1685" fill="#651a80"/><rect x="1709" fill="#641a80"/><rect x="1733" fill="#641a80"/><rect x="1757" fill="#621980"/><rect x="1780" fill="#601880"/><rect x="1804" fill="#5f187f"/><rect x="1828" fill="#5f187f"/><rect x="1852" fill="#5d177f"/><rect x="1875" fill="#59157e"/><rect x="1899" fill="#59157e"/><rect x="1923" fill="#5f187f"/><rect x="1947" fill="#621980"/><rect x="1970" fill="#671b80"/><rect x="1994" fill="#6b1d81"/><rect x="2018" fill="#721f81"/><rect x="2042" fill="#842681"/><rect x="2065" fill="#992d80"/><rect x="2089" fill="#ab337c"/><rect x="2113" fill="#b3367a"/><rect x="2137" fill="#b3367a"/></g>
<g transform="translate(0 666)"><rect x="1638" fill="#651a80"/><rect x="1662" fill="#651a80"/><rect x="1685" fill="#651a80"/><rect x="1709" fill="#641a80"/><rect x="1733" fill="#641a80"/><rect x="1757" fill="#621980"/><rect x="1780" fill="#601880"/><rect x="1804" fill="#601880"/><rect x="1828" fill="#5f187f"/><rect x="1852" fill="#5d177f"/><rect x="1875" fill="#57157e"/><rect x="1899" fill="#56147d"/><rect x="1923" fill="#5d177f"/><rect x="1947" fill="#621980"/><rect x="1970" fill="#671b80"/><rect x="1994" fill="#6b1d81"/><rect x="2018" fill="#732081"/><rect x="2042" fill="#862781"/><rect x="2065" fill="#9c2e7f"/><rect x="2089" fill="#b0357b"/><rect x="2113" fill="#b83779"/><rect x="2137" fill="#b83779"/></g>
<g transform="translate(0 690)"><rect x="1638" fill="#671b80"/><rect x="1662" fill="#671b80"/><rect x="1685" fill="#651a80"/><rect x="1709" fill="#651a80"/><rect x="1733" fill="#641a80"/><rect x="1757" fill="#621980"/><rect x="1780" fill="#601880"/><rect x="1804" fill="#601880"/><rect x="1828" fill="#5f187f"/><rect x="1852" fill="#5c167f"/><rect x="1875" fill="#56147d"/><rect x="1899" fill="#56147d"/><rect x="1923" fill="#5d177f"/><rect x="1947" fill="#641a80"/><rect x="1970" fill="#681c81"/><rect x="1994" fill="#6d1d81"/><rect x="2018" fill="#732081"/><rect x="2042" fill="#892881"/><rect x="2065" fill="#a02f7f"/><rect x="2089" fill="#b3367a"/><rect x="2113" fill="#bc3978"/><rect x="2137" fill="#bc3978"/></g>
<g transform="translate(0 713)"><rect x="1638" fill="#671b80"/><rect x="1662" fill="#671b80"/><rect x="1685" fill="#671b80"/><rect x="1709" fill="#651a80"/><rect x="1733" fill="#641a80"/><rect x="1757" fill="#621980"/><rect x="1780" fill="#601880"/><rect x="1804" fill="#5f187f"/><rect x="1828" fill="#5d177f"/><rect x="1852" fill="#57157e"/><rect x="1875" fill="#54137d"/><rect x="1899" fill="#57157e"/><rect x="1923" fill="#5f187f"/><rect x="1947" fill="#641a80"/><rect x="1970" fill="#6a1c81"/><rect x="1994" fill="#6e1e81"/><rect x="2018" fill="#762181"/><rect x="2042" fill="#8b2981"/><rect x="2065" fill="#a1307e"/><rect x="2089" fill="#b5367a"/><rect x="2113" fill="#bf3a77"/><rect x="2137" fill="#bf3a77"/></g>
<g transform="translate(0 737)"><rect x="1638" fill="#671b80"/><rect x="1662" fill="#671b80"/><rect x="1685" fill="#671b80"/><rect x="1709" fill="#651a80"/><rect x="1733" fill="#641a80"/><rect x="1757" fill="#621980"/><rect x="1780" fill="#601880"/><rect x="1804" fill="#5f187f"/><rect x="1828" fill="#5a167e"/><rect x="1852" fill="#51127c"/><rect x="1875" fill="#51127c"/><rect x="1899" fill="#59157e"/><rect x="1923" fill="#601880"/><rect x="1947" fill="#651a80"/><rect x="1970" fill="#6b1d81"/><rect x="1994" fill="#701f81"/><rect x="2018" fill="#782281"/><rect x="2042" fill="#8c2981"/><rect x="2065" fill="#a3307e"/><rect x="2089" fill="#b73779"/><rect x="2113" fill="#c03a76"/><rect x="2137" fill="#c03a76"/></g>
<g transform="translate(0 761)"><rect x="1638" fill="#681c81"/><rect x="1662" fill="#681c81"/><rect x="1685" fill="#671b80"/><rect x="1709" fill="#651a80"/><rect x="1733" fill="#641a80"/><rect x="1757" fill="#601880"/><rect x="1780" fill="#5f187f"/><rect x="1804" fill="#5d177f"/><rect x="1828" fill="#57157e"/><rect x="1852" fill="#491078"/><rect x="1875" fill="#4e117b"/><rect x="1899" fill="#5a167e"/><rect x="1923" fill="#621980"/><rect x="1947" fill="#671b80"/><rect x="1970" fill="#6d1d81"/><rect x="1994" fill="#721f81"/><rect x="2018" fill="#7b2382"/><rect x="2042" fill="#902a81"/><rect x="2065" fill="#a5317e"/><rect x="2089" fill="#ba3878"/><rect x="2113" fill="#c43c75"/><rect x="2137" fill="#c43c75"/></g>
<g transform="translate(0 784)"><rect x="1638" fill="#681c81"/><rect x="1662" fill="#681c81"/><rect x="1685" fill="#671b80"/><rect x="1709" fill="#651a80"/><rect x="1733" fill="#621980"/><rect x="1757" fill="#601880"/><rect x="1780" fill="#5d177f"/><rect x="1804" fill="#5c167f"/><rect x="1828" fill="#54137d"/><rect x="1852" fill="#420f75"/><rect x="1875" fill="#4a1079"/><rect x="1899" fill="#5c167f"/><rect x="1923" fill="#621980"/><rect x="1947" fill="#681c81"/><rect x="1970" fill="#6d1d81"/><rect x="1994" fill="#732081"/><rect x="2018" fill="#7c2382"/><rect x="2042" fill="#912b81"/><rect x="2065" fill="#a6317d"/><rect x="2089" fill="#bc3978"/><rect x="2113" fill="#c73d73"/><rect x="2137" fill="#c73d73"/></g>
<g transform="translate(0 808)"><rect x="1638" fill="#641a80"/><rect x="1662" fill="#641a80"/><rect x="1685" fill="#621980"/><rect x="1709" fill="#5f187f"/><rect x="1733" fill="#5d177f"/><rect x="1757" fill="#5a167e"/><rect x="1780" fill="#56147d"/><rect x="1804" fill="#52137c"/><rect x="1828" fill="#4e117b"/><rect x="1852" fill="#400f74"/><rect x="1875" fill="#491078"/><rect x="1899" fill="#5a167e"/><rect x="1923" fill="#601880"/><rect x="1947" fill="#651a80"/><rect x="1970" fill="#6d1d81"/><rect x="1994" fill="#752181"/><rect x="2018" fill="#802582"/><rect x="2042" fill="#932b80"/><rect x="2065" fill="#a8327d"/><rect x="2089" fill="#bf3a77"/><rect x="2113" fill="#ca3e72"/><rect x="2137" fill="#ca3e72"/></g>
<g transform="translate(0 832)"><rect x="1638" fill="#59157e"/><rect x="1662" fill="#59157e"/><rect x="1685" fill="#57157e"/><rect x="1709" fill="#54137d"/><rect x="1733" fill="#51127c"/><rect x="1757" fill="#4c117a"/><rect x="1780" fill="#451077"/><rect x="1804" fill="#420f75"/><rect x="1828" fill="#440f76"/><rect x="1852" fill="#3f0f72"/><rect x="1875" fill="#491078"/><rect x="1899" fill="#56147d"/><rect x="1923" fill="#5a167e"/><rect x="1947" fill="#621980"/><rect x="1970" fill="#6b1d81"/><rect x="1994" fill="#752181"/><rect x="2018" fill="#812581"/><rect x="2042" fill="#942c80"/><rect x="2065" fill="#aa337d"/><rect x="2089" fill="#c23b75"/><rect x="2113" fill="#cf4070"/><rect x="2137" fill="#cf4070"/></g>
<g transform="translate(0 855)"><rect x="1638" fill="#4f127b"/><rect x="1662" fill="#4f127b"/><rect x="1685" fill="#4e117b"/><rect x="1709" fill="#4a1079"/><rect x="1733" fill="#451077"/><rect x="1757" fill="#400f74"/><rect x="1780" fill="#390f6e"/><rect x="1804" fill="#36106b"/><rect x="1828" fill="#3d0f71"/><rect x="1852" fill="#420f75"/><rect x="1875" fill="#4a1079"/><rect x="1899" fill="#54137d"/><rect x="1923" fill="#59157e"/><rect x="1947" fill="#601880"/><rect x="1970" fill="#6b1d81"/><rect x="1994" fill="#762181"/><rect x="2018" fill="#842681"/><rect x="2042" fill="#962c80"/><rect x="2065" fill="#ad347c"/><rect x="2089" fill="#c53c74"/><rect x="2113" fill="#d3436e"/><rect x="2137" fill="#d3436e"/></g>
<g transform="translate(0 879)"><rect x="1638" fill="#471078"/><rect x="1662" fill="#471078"/><rect x="1685" fill="#471078"/><rect x="1709" fill="#440f76"/><rect x="1733" fill="#3f0f72"/><rect x="1757" fill="#3b0f70"/><rect x="1780" fill="#36106b"/><rect x="1804" fill="#341069"/><rect x="1828" fill="#3d0f71"/><rect x="1852" fill="#451077"/><rect x="1875" fill="#4e117b"/><rect x="1899" fill="#54137d"/><rect x="1923" fill="#59157e"/><rect x="1947" fill="#621980"/><rect x="1970" fill="#6e1e81"/><rect x="1994" fill="#792282"/><rect x="2018" fill="#882781"/><rect x="2042" fill="#9b2e7f"/><rect x="2065" fill="#b2357b"/><rect x="2089" fill="#cc3f71"/><rect x="2113" fill="#d9466b"/><rect x="2137" fill="#d9466b"/></g>
<g transform="translate(0 903)"><rect x="1638" fill="#420f75"/><rect x="1662" fill="#420f75"/><rect x="1685" fill="#400f74"/><rect x="1709" fill="#3f0f72"/><rect x="1733" fill="#3d0f71"/><rect x="1757" fill="#390f6e"/><rect x="1780" fill="#38106c"/><rect x="1804" fill="#38106c"/><rect x="1828" fill="#3f0f72"/><rect x="1852" fill="#491078"/><rect x="1875" fill="#4f127b"/><rect x="1899" fill="#56147d"/><rect x="1923" fill="#5a167e"/><rect x="1947" fill="#641a80"/><rect x="1970" fill="#721f81"/><rect x="1994" fill="#7e2482"/><rect x="2018" fill="#8e2a81"/><rect x="2042" fill="#a02f7f"/><rect x="2065" fill="#b73779"/><rect x="2089" fill="#d2426f"/><rect x="2113" fill="#df4a68"/><rect x="2137" fill="#df4a68"/></g>
<g transform="translate(0 926)"><rect x="1638" fill="#3b0f70"/><rect x="1662" fill="#3b0f70"/><rect x="1685" fill="#3b0f70"/><rect x="1709" fill="#3b0f70"/><rect x="1733" fill="#3d0f71"/><rect x="1757" fill="#3d0f71"/><rect x="1780" fill="#3d0f71"/><rect x="1804" fill="#3f0f72"/><rect x="1828" fill="#451077"/><rect x="1852" fill="#4c117a"/><rect x="1875" fill="#52137c"/><rect x="1899" fill="#59157e"/><rect x="1923" fill="#5f187f"/><rect x="1947" fill="#681c81"/><rect x="1970" fill="#762181"/><rect x="1994" fill="#842681"/><rect x="2018" fill="#942c80"/><rect x="2042" fill="#a6317d"/><rect x="2065" fill="#bc3978"/><rect x="2089" fill="#d5446d"/><rect x="2113" fill="#e34e65"/><rect x="2137" fill="#e34e65"/></g>
<g transform="translate(0 950)"><rect x="1638" fill="#38106c"/><rect x="1662" fill="#38106c"/><rect x="1685" fill="#390f6e"/><rect x="1709" fill="#390f6e"/><rect x="1733" fill="#3d0f71"/><rect x="1757" fill="#400f74"/><rect x="1780" fill="#440f76"/><rect x="1804" fill="#471078"/><rect x="1828" fill="#4c117a"/><rect x="1852" fill="#51127c"/><rect x="1875" fill="#57157e"/><rect x="1899" fill="#5d177f"/><rect x="1923" fill="#641a80"/><rect x="1947" fill="#6e1e81"/><rect x="1970" fill="#7c2382"/><rect x="1994" fill="#8b2981"/><rect x="2018" fill="#9b2e7f"/><rect x="2042" fill="#ab337c"/><rect x="2065" fill="#c03a76"/><rect x="2089" fill="#d9466b"/><rect x="2113" fill="#e55064"/><rect x="2137" fill="#e55064"/></g>
<g transform="translate(0 973)"><rect x="1638" fill="#420f75"/><rect x="1662" fill="#420f75"/><rect x="1685" fill="#420f75"/><rect x="1709" fill="#440f76"/><rect x="1733" fill="#451077"/><rect x="1757" fill="#4a1079"/><rect x="1780" fill="#4e117b"/><rect x="1804" fill="#52137c"/><rect x="1828" fill="#56147d"/><rect x="1852" fill="#5a167e"/><rect x="1875" fill="#5f187f"/><rect x="1899" fill="#651a80"/><rect x="1923" fill="#6b1d81"/><rect x="1947" fill="#762181"/><rect x="1970" fill="#842681"/><rect x="1994" fill="#912b81"/><rect x="2018" fill="#a02f7f"/><rect x="2042" fill="#b2357b"/><rect x="2065" fill="#c73d73"/><rect x="2089" fill="#df4a68"/><rect x="2113" fill="#ea5661"/><rect x="2137" fill="#ea5661"/></g>
<g transform="translate(0 997)"><rect x="1638" fill="#56147d"/><rect x="1662" fill="#56147d"/><rect x="1685" fill="#56147d"/><rect x="1709" fill="#54137d"/><rect x="1733" fill="#56147d"/><rect x="1757" fill="#57157e"/><rect x="1780" fill="#5a167e"/><rect x="1804" fill="#5f187f"/><rect x="1828" fill="#601880"/><rect x="1852" fill="#641a80"/><rect x="1875" fill="#681c81"/><rect x="1899" fill="#6d1d81"/><rect x="1923" fill="#762181"/><rect x="1947" fill="#812581"/><rect x="1970" fill="#8c2981"/><rect x="1994" fill="#982d80"/><rect x="2018" fill="#a5317e"/><rect x="2042" fill="#b83779"/><rect x="2065" fill="#cf4070"/><rect x="2089" fill="#e55064"/><rect x="2113" fill="#ee5b5e"/><rect x="2137" fill="#ee5b5e"/></g>
<g transform="translate(0 1021)"><rect x="1638" fill="#6b1d81"/><rect x="1662" fill="#6b1d81"/><rect x="1685" fill="#6b1d81"/><rect x="1709" fill="#6a1c81"/><rect x="1733" fill="#681c81"/><rect x="1757" fill="#681c81"/><rect x="1780" fill="#6a1c81"/><rect x="1804" fill="#6d1d81"/><rect x="1828" fill="#6b1d81"/><rect x="1852" fill="#6b1d81"/><rect x="1875" fill="#6d1d81"/><rect x="1899" fill="#721f81"/><rect x="1923" fill="#7e2482"/><rect x="1947" fill="#892881"/><rect x="1970" fill="#942c80"/><rect x="1994" fill="#a02f7f"/><rect x="2018" fill="#ad347c"/><rect x="2042" fill="#c03a76"/><rect x="2065" fill="#d6456c"/><rect x="2089" fill="#ea5661"/><rect x="2113" fill="#f2625d"/><rect x="2137" fill="#f2625d"/></g>
<g transform="translate(0 1044)"><rect x="1638" fill="#882781"/><rect x="1662" fill="#882781"/><rect x="1685" fill="#862781"/><rect x="1709" fill="#842681"/><rect x="1733" fill="#812581"/><rect x="1757" fill="#802582"/><rect x="1780" fill="#7e2482"/><rect x="1804" fill="#7e2482"/><rect x="1828" fill="#782281"/><rect x="1852" fill="#732081"/><rect x="1875" fill="#721f81"/><rect x="1899" fill="#752181"/><rect x="1923" fill="#862781"/><rect x="1947" fill="#912b81"/><rect x="1970" fill="#9c2e7f"/><rect x="1994" fill="#aa337d"/><rect x="2018" fill="#b83779"/><rect x="2042" fill="#ca3e72"/><rect x="2065" fill="#de4968"/><rect x="2089" fill="#ee5b5e"/><rect x="2113" fill="#f4675c"/><rect x="2137" fill="#f4675c"/></g>
<g transform="translate(0 1068)"><rect x="1638" fill="#a5317e"/><rect x="1662" fill="#a5317e"/><rect x="1685" fill="#a3307e"/><rect x="1709" fill="#a02f7f"/><rect x="1733" fill="#9b2e7f"/><rect x="1757" fill="#942c80"/><rect x="1780" fill="#942c80"/><rect x="1804" fill="#932b80"/><rect x="1828" fill="#8c2981"/><rect x="1852" fill="#832681"/><rect x="1875" fill="#7c2382"/><rect x="1899" fill="#7e2482"/><rect x="1923" fill="#912b81"/><rect x="1947" fill="#9e2f7f"/><rect x="1970" fill="#ab337c"/><rect x="1994" fill="#b83779"/><rect x="2018" fill="#c73d73"/><rect x="2042" fill="#d6456c"/><rect x="2065" fill="#e55064"/><rect x="2089" fill="#f2625d"/><rect x="2113" fill="#f66c5c"/><rect x="2137" fill="#f66c5c"/></g>
<g transform="translate(0 1092)"><rect x="1638" fill="#c43c75"/><rect x="1662" fill="#c43c75"/><rect x="1685" fill="#c23b75"/><rect x="1709" fill="#bc3978"/><rect x="1733" fill="#b2357b"/><rect x="1757" fill="#a8327d"/><rect x="1780" fill="#ab337c"/><rect x="1804" fill="#b2357b"/><rect x="1828" fill="#b2357b"/><rect x="1852" fill="#ad347c"/><rect x="1875" fill="#a3307e"/><rect x="1899" fill="#a1307e"/><rect x="1923" fill="#aa337d"/><rect x="1947" fill="#b3367a"/><rect x="1970" fill="#c53c74"/><rect x="1994" fill="#d0416f"/><rect x="2018" fill="#db476a"/><rect x="2042" fill="#e55064"/><rect x="2065" fill="#ee5b5e"/><rect x="2089" fill="#f56b5c"/><rect x="2113" fill="#f7725c"/><rect x="2137" fill="#f7725c"/></g>
<g transform="translate(0 1115)"><rect x="1638" fill="#e04c67"/><rect x="1662" fill="#e04c67"/><rect x="1685" fill="#de4968"/><rect x="1709" fill="#d8456c"/><rect x="1733" fill="#cd4071"/><rect x="1757" fill="#c23b75"/><rect x="1780" fill="#c73d73"/><rect x="1804" fill="#cd4071"/><rect x="1828" fill="#d3436e"/><rect x="1852" fill="#d5446d"/><rect x="1875" fill="#cd4071"/><rect x="1899" fill="#c83e73"/><rect x="1923" fill="#c53c74"/><rect x="1947" fill="#cd4071"/><rect x="1970" fill="#e04c67"/><rect x="1994" fill="#e85362"/><rect x="2018" fill="#ec5860"/><rect x="2042" fill="#f2625d"/><rect x="2065" fill="#f56b5c"/><rect x="2089" fill="#f8765c"/><rect x="2113" fill="#f9795d"/><rect x="2137" fill="#f9795d"/></g>
<g transform="translate(0 1139)"><rect x="1638" fill="#f56b5c"/><rect x="1662" fill="#f56b5c"/><rect x="1685" fill="#f4695c"/><rect x="1709" fill="#f2625d"/><rect x="1733" fill="#ef5d5e"/><rect x="1757" fill="#ec5860"/><rect x="1780" fill="#e55064"/><rect x="1804" fill="#e04c67"/><rect x="1828" fill="#e75263"/><rect x="1852" fill="#ea5661"/><rect x="1875" fill="#e95462"/><rect x="1899" fill="#e85362"/><rect x="1923" fill="#e75263"/><rect x="1947" fill="#eb5760"/><rect x="1970" fill="#f3655c"/><rect x="1994" fill="#f56b5c"/><rect x="2018" fill="#f7705c"/><rect x="2042" fill="#f9785d"/><rect x="2065" fill="#fa7f5e"/><rect x="2089" fill="#fb8560"/><rect x="2113" fill="#fb8761"/><rect x="2137" fill="#fb8761"/></g>
<g transform="translate(0 1163)"><rect x="1638" fill="#fb8560"/><rect x="1662" fill="#fb8560"/><rect x="1685" fill="#fb8560"/><rect x="1709" fill="#fb8761"/><rect x="1733" fill="#fc8a62"/><rect x="1757" fill="#fc9065"/><rect x="1780" fill="#f8745c"/><rect x="1804" fill="#ef5d5e"/><rect x="1828" fill="#f2645c"/><rect x="1852" fill="#f66c5c"/><rect x="1875" fill="#f7725c"/><rect x="1899" fill="#f8745c"/><rect x="1923" fill="#f8765c"/><rect x="1947" fill="#f97b5d"/><rect x="1970" fill="#fb835f"/><rect x="1994" fill="#fb8560"/><rect x="2018" fill="#fc8961"/><rect x="2042" fill="#fc8e64"/><rect x="2065" fill="#fd9467"/><rect x="2089" fill="#fd9869"/><rect x="2113" fill="#fd9869"/><rect x="2137" fill="#fd9869"/></g>
<g transform="translate(0 1186)"><rect x="1638" fill="#fb8560"/><rect x="1662" fill="#fb8560"/><rect x="1685" fill="#fc8a62"/><rect x="1709" fill="#fe9d6c"/><rect x="1733" fill="#fea571"/><rect x="1757" fill="#feaa74"/><rect x="1780" fill="#fd9869"/><rect x="1804" fill="#fa7d5e"/><rect x="1828" fill="#fa815f"/><rect x="1852" fill="#fb8761"/><rect x="1875" fill="#fc8e64"/><rect x="1899" fill="#fd9266"/><rect x="1923" fill="#fd9467"/><rect x="1947" fill="#fd9668"/><rect x="1970" fill="#fd9a6a"/><rect x="1994" fill="#fd9b6b"/><rect x="2018" fill="#fe9d6c"/><rect x="2042" fill="#fea16e"/><rect x="2065" fill="#fea571"/><rect x="2089" fill="#fea772"/><rect x="2113" fill="#fea772"/><rect x="2137" fill="#fea772"/></g>
<g transform="translate(0 1210)"><rect x="1638" fill="#fa7d5e"/><rect x="1662" fill="#fa7d5e"/><rect x="1685" fill="#fc8e64"/><rect x="1709" fill="#feae77"/><rect x="1733" fill="#feb77e"/><rect x="1757" fill="#febd82"/><rect x="1780" fill="#feb67c"/><rect x="1804" fill="#feaa74"/><rect x="1828" fill="#fea16e"/><rect x="1852" fill="#fe9f6d"/><rect x="1875" fill="#fea772"/><rect x="1899" fill="#fea973"/><rect x="1923" fill="#feaa74"/><rect x="1947" fill="#feac76"/><rect x="1970" fill="#feae77"/><rect x="1994" fill="#feae77"/><rect x="2018" fill="#feb078"/><rect x="2042" fill="#feb27a"/><rect x="2065" fill="#feb47b"/><rect x="2089" fill="#feb67c"/><rect x="2113" fill="#feb67c"/><rect x="2137" fill="#feb67c"/></g>
<g transform="translate(0 1234)"><rect x="1638" fill="#f8745c"/><rect x="1662" fill="#f8745c"/><rect x="1685" fill="#fc8e64"/><rect x="1709" fill="#feb47b"/><rect x="1733" fill="#febd82"/><rect x="1757" fill="#fec185"/><rect x="1780" fill="#fec287"/><rect x="1804" fill="#fec287"/><rect x="1828" fill="#feb27a"/><rect x="1852" fill="#feaa74"/><rect x="1875" fill="#feb27a"/><rect x="1899" fill="#feb47b"/><rect x="1923" fill="#feb47b"/><rect x="1947" fill="#feb47b"/><rect x="1970" fill="#feb67c"/><rect x="1994" fill="#feb67c"/><rect x="2018" fill="#feb77e"/><rect x="2042" fill="#feb97f"/><rect x="2065" fill="#febb81"/><rect x="2089" fill="#febb81"/><rect x="2113" fill="#febd82"/><rect x="2137" fill="#febd82"/></g>
<g transform="translate(0 1257)"><rect x="1638" fill="#f8745c"/><rect x="1662" fill="#f8745c"/><rect x="1685" fill="#fc8e64"/><rect x="1709" fill="#feb47b"/><rect x="1733" fill="#febd82"/><rect x="1757" fill="#fec185"/><rect x="1780" fill="#fec287"/><rect x="1804" fill="#fec287"/><rect x="1828" fill="#feb27a"/><rect x="1852" fill="#feaa74"/><rect x="1875" fill="#feb27a"/><rect x="1899" fill="#feb47b"/><rect x="1923" fill="#feb47b"/><rect x="1947" fill="#feb47b"/><rect x="1970" fill="#feb67c"/><rect x="1994" fill="#feb67c"/><rect x="2018" fill="#feb77e"/><rect x="2042" fill="#feb97f"/><rect x="2065" fill="#febb81"/><rect x="2089" fill="#febb81"/><rect x="2113" fill="#febd82"/><rect x="2137" fill="#febd82"/></g>
</g></g>
<rect x="1685.9" y="146.4" width="427.5" height="1087.7" fill="none" stroke="#000" stroke-width="3.6"/>
<rect x="305.6" y="161.8" width="244.19999999999993" height="102.5" fill="#14101c" opacity="0.35" filter="url(#sh)"/>
<rect x="306.6" y="162.8" width="242.19999999999993" height="100.5" fill="#1a1520" fill-opacity="0.77"/>
<rect x="306.6" y="162.8" width="242.19999999999993" height="14.199999999999989" fill="#2c8f2c"/>
<text class="ls" x="327.5" y="233.5" font-size="54" fill="#fff" textLength="200.5" lengthAdjust="spacingAndGlyphs">exp data</text>
<rect x="869.1" y="161.8" width="275.69999999999993" height="102.5" fill="#14101c" opacity="0.35" filter="url(#sh)"/>
<rect x="870.1" y="162.8" width="273.69999999999993" height="100.5" fill="#1a1520" fill-opacity="0.77"/>
<rect x="870.1" y="162.8" width="273.69999999999993" height="14.199999999999989" fill="#2c8f2c"/>
<text class="ls" x="882.8" y="233.5" font-size="54" fill="#fff" textLength="245.2" lengthAdjust="spacingAndGlyphs">simulation</text>
<rect x="1257.5" y="161.8" width="244.4000000000001" height="102.5" fill="#14101c" opacity="0.35" filter="url(#sh)"/>
<rect x="1258.5" y="162.8" width="242.4000000000001" height="100.5" fill="#1a1520" fill-opacity="0.77"/>
<rect x="1258.5" y="162.8" width="242.4000000000001" height="14.199999999999989" fill="#4169e1"/>
<text class="ls" x="1279.3" y="233.5" font-size="54" fill="#fff" textLength="200.5" lengthAdjust="spacingAndGlyphs">exp data</text>
<rect x="1820.8" y="161.8" width="276.5000000000002" height="102.5" fill="#14101c" opacity="0.35" filter="url(#sh)"/>
<rect x="1821.8" y="162.8" width="274.5000000000002" height="100.5" fill="#1a1520" fill-opacity="0.77"/>
<rect x="1821.8" y="162.8" width="274.5000000000002" height="14.199999999999989" fill="#4169e1"/>
<text class="ls" x="1834.8" y="233.5" font-size="54" fill="#fff" textLength="245.2" lengthAdjust="spacingAndGlyphs">simulation</text>
<text class="ls" x="137.5" y="92" font-size="70" text-anchor="start" fill="#000" textLength="234" lengthAdjust="spacingAndGlyphs">a) N-Kα</text>
<text class="ls" x="1215.5" y="92" font-size="70" text-anchor="start" fill="#000" textLength="232.5" lengthAdjust="spacingAndGlyphs">b) O-Kα</text>
<text class="ls" x="139.5" y="1286" font-size="69.5" text-anchor="start" fill="#000">c)</text>
<line x1="279.5" y1="1207.0" x2="289.5" y2="1207.0" stroke="#000" stroke-width="3"/>
<text class="dj" x="277.5" y="1228.5" font-size="60" text-anchor="end" fill="#000">1</text>
<line x1="279.5" y1="1054.3" x2="289.5" y2="1054.3" stroke="#000" stroke-width="3"/>
<text class="dj" x="277.5" y="1075.8" font-size="60" text-anchor="end" fill="#000">2</text>
<line x1="279.5" y1="901.6" x2="289.5" y2="901.6" stroke="#000" stroke-width="3"/>
<text class="dj" x="277.5" y="923.1" font-size="60" text-anchor="end" fill="#000">3</text>
<line x1="279.5" y1="748.9" x2="289.5" y2="748.9" stroke="#000" stroke-width="3"/>
<text class="dj" x="277.5" y="770.4" font-size="60" text-anchor="end" fill="#000">4</text>
<line x1="279.5" y1="596.2" x2="289.5" y2="596.2" stroke="#000" stroke-width="3"/>
<text class="dj" x="277.5" y="617.7" font-size="60" text-anchor="end" fill="#000">5</text>
<line x1="279.5" y1="443.5" x2="289.5" y2="443.5" stroke="#000" stroke-width="3"/>
<text class="dj" x="277.5" y="465.0" font-size="60" text-anchor="end" fill="#000">6</text>
<line x1="279.5" y1="290.8" x2="289.5" y2="290.8" stroke="#000" stroke-width="3"/>
<text class="dj" x="277.5" y="312.3" font-size="60" text-anchor="end" fill="#000">7</text>
<line x1="427.9" y1="1235" x2="427.9" y2="1245.2" stroke="#000" stroke-width="3"/>
<text class="dj" x="423.8" y="1300" font-size="60" text-anchor="middle" fill="#000">2</text>
<line x1="580.3" y1="1235" x2="580.3" y2="1245.2" stroke="#000" stroke-width="3"/>
<text class="dj" x="577.5" y="1300" font-size="60" text-anchor="middle" fill="#000">1</text>
<line x1="870.4" y1="1235" x2="870.4" y2="1245.2" stroke="#000" stroke-width="3"/>
<text class="dj" x="866.5" y="1300" font-size="60" text-anchor="middle" fill="#000">1</text>
<line x1="1023.3" y1="1235" x2="1023.3" y2="1245.2" stroke="#000" stroke-width="3"/>
<text class="dj" x="1020.5" y="1300" font-size="60" text-anchor="middle" fill="#000">2</text>
<line x1="1380.2" y1="1235" x2="1380.2" y2="1245.2" stroke="#000" stroke-width="3"/>
<text class="dj" x="1376.3" y="1300" font-size="60" text-anchor="middle" fill="#000">2</text>
<line x1="1532.6" y1="1235" x2="1532.6" y2="1245.2" stroke="#000" stroke-width="3"/>
<text class="dj" x="1530" y="1300" font-size="60" text-anchor="middle" fill="#000">1</text>
<line x1="1823.2" y1="1235" x2="1823.2" y2="1245.2" stroke="#000" stroke-width="3"/>
<text class="dj" x="1819.5" y="1300" font-size="60" text-anchor="middle" fill="#000">1</text>
<line x1="1975.3" y1="1235" x2="1975.3" y2="1245.2" stroke="#000" stroke-width="3"/>
<text class="dj" x="1972.8" y="1300" font-size="60" text-anchor="middle" fill="#000">2</text>
<text class="dj" x="205.2" y="723.5" font-size="72.5" font-style="italic" transform="rotate(-90 205.2 723.5)"><tspan stroke="#000" stroke-width="1.6">θ</tspan><tspan font-style="normal">/°</tspan></text>
<text class="dj" x="686" y="1335" font-size="66"><tspan font-style="italic" stroke="#000" stroke-width="1.8">φ</tspan>/°</text>
<text class="dj" x="1634" y="1335" font-size="66"><tspan font-style="italic" stroke="#000" stroke-width="1.8">φ</tspan>/°</text>
<rect x="2136.5" y="138.8" width="41.2" height="1089.7" fill="#fff" stroke="#000" stroke-width="1.1"/>
<rect x="2138.6" y="141.3" width="38.6" height="1086.8" fill="url(#cb)"/>
<line x1="2178" y1="1011.2" x2="2183" y2="1011.2" stroke="#000" stroke-width="1.1"/>
<text class="ls" x="2201" y="1025.8" font-size="56.5" text-anchor="start" fill="#000" textLength="79" lengthAdjust="spacingAndGlyphs">0.2</text>
<line x1="2178" y1="792.9" x2="2183" y2="792.9" stroke="#000" stroke-width="1.1"/>
<text class="ls" x="2201" y="808.6" font-size="56.5" text-anchor="start" fill="#000" textLength="79" lengthAdjust="spacingAndGlyphs">0.4</text>
<line x1="2178" y1="574.6" x2="2183" y2="574.6" stroke="#000" stroke-width="1.1"/>
<text class="ls" x="2201" y="591.4" font-size="56.5" text-anchor="start" fill="#000" textLength="79" lengthAdjust="spacingAndGlyphs">0.6</text>
<line x1="2178" y1="356.3" x2="2183" y2="356.3" stroke="#000" stroke-width="1.1"/>
<text class="ls" x="2201" y="374.2" font-size="56.5" text-anchor="start" fill="#000" textLength="79" lengthAdjust="spacingAndGlyphs">0.8</text>
<line x1="2178" y1="138.8" x2="2183" y2="138.8" stroke="#000" stroke-width="1.1"/>
<text class="ls" x="2162" y="129.3" font-size="55.8">x 10<tspan font-size="35.5" dy="-23">-4</tspan></text>
<text class="dj" x="2412.3" y="1351.7" font-size="65.2" text-anchor="start" fill="#000" transform="rotate(-90 2412.3 1351.7)">Fluorescence intensity / incident photon</text>
<rect x="380.5" y="1442.3" width="1961.2" height="742.6" fill="#fdfaf0"/>
<path d="M467.4 1442.3V2184.9M544.5 1442.3V2184.9M613.5 1442.3V2184.9M1067.5 1442.3V2184.9M1333.0 1442.3V2184.9M1521.4 1442.3V2184.9M1667.5 1442.3V2184.9M1787.0 1442.3V2184.9M1887.9 1442.3V2184.9M1975.4 1442.3V2184.9M2052.5 1442.3V2184.9M2121.5 1442.3V2184.9M380.5 1477.5H2341.7M380.5 1499.6H2341.7M380.5 1524.4H2341.7M380.5 1552.5H2341.7M380.5 1584.9H2341.7M380.5 1623.2H2341.7M380.5 1670.1H2341.7M380.5 1730.5H2341.7M380.5 1815.7H2341.7M380.5 1961.4H2341.7M380.5 1983.5H2341.7M380.5 2008.3H2341.7M380.5 2036.4H2341.7M380.5 2068.8H2341.7M380.5 2107.1H2341.7M380.5 2154.0H2341.7" stroke="#8e8e8e" stroke-width="3.1" stroke-dasharray="3 3.1" fill="none"/>
<g clip-path="url(#cplot)">
<g fill="#4169e1" stroke="#000" stroke-width="4"><circle cx="471.8" cy="1887.5" r="10.8"/><circle cx="481.9" cy="1867.8" r="10.8"/><circle cx="491.9" cy="1841.4" r="10.8"/><circle cx="501.6" cy="1825.4" r="10.8"/><circle cx="511.3" cy="1802.3" r="10.8"/><circle cx="520.8" cy="1777.0" r="10.8"/><circle cx="530.2" cy="1762.6" r="10.8"/><circle cx="539.4" cy="1750.2" r="10.8"/><circle cx="548.5" cy="1738.9" r="10.8"/><circle cx="557.5" cy="1735.6" r="10.8"/><circle cx="566.3" cy="1739.6" r="10.8"/><circle cx="575.1" cy="1745.6" r="10.8"/><circle cx="583.7" cy="1748.8" r="10.8"/><circle cx="592.2" cy="1753.2" r="10.8"/><circle cx="600.6" cy="1768.0" r="10.8"/><circle cx="608.9" cy="1781.2" r="10.8"/><circle cx="617.1" cy="1777.7" r="10.8"/><circle cx="625.2" cy="1777.1" r="10.8"/><circle cx="633.2" cy="1779.1" r="10.8"/><circle cx="641.1" cy="1774.5" r="10.8"/><circle cx="648.9" cy="1773.7" r="10.8"/><circle cx="656.6" cy="1773.5" r="10.8"/><circle cx="664.2" cy="1776.2" r="10.8"/><circle cx="671.7" cy="1777.4" r="10.8"/><circle cx="679.2" cy="1774.1" r="10.8"/><circle cx="686.6" cy="1770.7" r="10.8"/><circle cx="693.8" cy="1770.6" r="10.8"/><circle cx="701.0" cy="1771.5" r="10.8"/><circle cx="708.2" cy="1773.9" r="10.8"/><circle cx="715.2" cy="1772.4" r="10.8"/><circle cx="722.2" cy="1769.8" r="10.8"/><circle cx="729.1" cy="1770.0" r="10.8"/><circle cx="735.9" cy="1768.3" r="10.8"/><circle cx="742.7" cy="1767.5" r="10.8"/><circle cx="749.3" cy="1766.3" r="10.8"/><circle cx="756.0" cy="1766.8" r="10.8"/><circle cx="762.5" cy="1763.4" r="10.8"/><circle cx="769.0" cy="1761.4" r="10.8"/><circle cx="775.4" cy="1758.1" r="10.8"/><circle cx="781.8" cy="1749.8" r="10.8"/><circle cx="788.1" cy="1748.0" r="10.8"/><circle cx="794.3" cy="1747.3" r="10.8"/><circle cx="800.5" cy="1745.0" r="10.8"/><circle cx="806.6" cy="1744.7" r="10.8"/><circle cx="812.7" cy="1744.2" r="10.8"/><circle cx="818.7" cy="1739.4" r="10.8"/><circle cx="824.7" cy="1732.9" r="10.8"/><circle cx="830.6" cy="1728.9" r="10.8"/><circle cx="836.4" cy="1731.3" r="10.8"/><circle cx="842.2" cy="1729.9" r="10.8"/><circle cx="848.0" cy="1720.3" r="10.8"/><circle cx="853.7" cy="1715.6" r="10.8"/><circle cx="859.3" cy="1715.4" r="10.8"/><circle cx="864.9" cy="1718.1" r="10.8"/><circle cx="870.5" cy="1717.1" r="10.8"/><circle cx="876.0" cy="1717.9" r="10.8"/><circle cx="881.4" cy="1717.8" r="10.8"/><circle cx="892.2" cy="1708.0" r="10.8"/><circle cx="902.8" cy="1699.5" r="10.8"/><circle cx="913.3" cy="1696.7" r="10.8"/><circle cx="923.6" cy="1694.0" r="10.8"/><circle cx="933.7" cy="1685.7" r="10.8"/><circle cx="943.6" cy="1683.4" r="10.8"/><circle cx="953.5" cy="1680.6" r="10.8"/><circle cx="963.1" cy="1677.1" r="10.8"/><circle cx="972.7" cy="1671.3" r="10.8"/><circle cx="982.1" cy="1654.6" r="10.8"/><circle cx="991.3" cy="1651.4" r="10.8"/><circle cx="1000.4" cy="1648.7" r="10.8"/><circle cx="1009.5" cy="1645.4" r="10.8"/><circle cx="1018.3" cy="1649.5" r="10.8"/><circle cx="1027.1" cy="1637.6" r="10.8"/><circle cx="1035.8" cy="1622.9" r="10.8"/><circle cx="1044.3" cy="1614.0" r="10.8"/><circle cx="1052.7" cy="1613.9" r="10.8"/><circle cx="1061.0" cy="1611.8" r="10.8"/><circle cx="1069.3" cy="1602.6" r="10.8"/><circle cx="1077.4" cy="1597.2" r="10.8"/><circle cx="1085.4" cy="1599.1" r="10.8"/><circle cx="1093.3" cy="1595.6" r="10.8"/><circle cx="1101.1" cy="1587.2" r="10.8"/><circle cx="1108.9" cy="1583.7" r="10.8"/><circle cx="1116.5" cy="1579.9" r="10.8"/><circle cx="1124.0" cy="1576.2" r="10.8"/><circle cx="1131.5" cy="1567.0" r="10.8"/><circle cx="1138.9" cy="1559.2" r="10.8"/><circle cx="1146.2" cy="1554.6" r="10.8"/><circle cx="1153.4" cy="1549.0" r="10.8"/><circle cx="1160.5" cy="1549.6" r="10.8"/><circle cx="1167.6" cy="1545.7" r="10.8"/><circle cx="1174.6" cy="1538.3" r="10.8"/><circle cx="1181.5" cy="1534.4" r="10.8"/><circle cx="1188.4" cy="1529.8" r="10.8"/><circle cx="1195.1" cy="1531.0" r="10.8"/><circle cx="1201.8" cy="1529.0" r="10.8"/><circle cx="1208.5" cy="1523.7" r="10.8"/><circle cx="1215.0" cy="1524.5" r="10.8"/><circle cx="1221.5" cy="1525.7" r="10.8"/><circle cx="1228.0" cy="1525.3" r="10.8"/><circle cx="1234.3" cy="1523.7" r="10.8"/><circle cx="1240.7" cy="1516.2" r="10.8"/><circle cx="1246.9" cy="1516.8" r="10.8"/><circle cx="1253.1" cy="1522.3" r="10.8"/><circle cx="1259.2" cy="1522.8" r="10.8"/><circle cx="1265.3" cy="1518.9" r="10.8"/><circle cx="1271.4" cy="1522.8" r="10.8"/><circle cx="1277.3" cy="1521.8" r="10.8"/><circle cx="1283.2" cy="1517.1" r="10.8"/><circle cx="1289.1" cy="1520.7" r="10.8"/><circle cx="1294.9" cy="1518.0" r="10.8"/><circle cx="1300.7" cy="1521.1" r="10.8"/><circle cx="1306.4" cy="1522.9" r="10.8"/><circle cx="1312.0" cy="1515.6" r="10.8"/><circle cx="1317.6" cy="1514.4" r="10.8"/><circle cx="1323.2" cy="1523.1" r="10.8"/><circle cx="1328.7" cy="1533.6" r="10.8"/><circle cx="1334.2" cy="1529.9" r="10.8"/><circle cx="1345.0" cy="1527.4" r="10.8"/><circle cx="1355.6" cy="1539.7" r="10.8"/><circle cx="1366.1" cy="1545.7" r="10.8"/><circle cx="1376.4" cy="1544.2" r="10.8"/><circle cx="1386.5" cy="1541.7" r="10.8"/><circle cx="1396.5" cy="1540.3" r="10.8"/><circle cx="1406.3" cy="1543.9" r="10.8"/><circle cx="1416.0" cy="1549.1" r="10.8"/><circle cx="1425.6" cy="1546.1" r="10.8"/><circle cx="1435.0" cy="1543.2" r="10.8"/><circle cx="1444.3" cy="1550.6" r="10.8"/><circle cx="1453.4" cy="1554.5" r="10.8"/><circle cx="1462.4" cy="1551.9" r="10.8"/><circle cx="1471.3" cy="1552.0" r="10.8"/><circle cx="1480.1" cy="1551.9" r="10.8"/><circle cx="1488.8" cy="1555.4" r="10.8"/><circle cx="1497.3" cy="1561.8" r="10.8"/><circle cx="1505.7" cy="1564.7" r="10.8"/><circle cx="1514.1" cy="1562.0" r="10.8"/><circle cx="1522.3" cy="1558.3" r="10.8"/><circle cx="1538.5" cy="1560.3" r="10.8"/><circle cx="1554.2" cy="1563.0" r="10.8"/><circle cx="1569.6" cy="1563.0" r="10.8"/><circle cx="1584.6" cy="1561.5" r="10.8"/><circle cx="1599.3" cy="1555.6" r="10.8"/><circle cx="1613.7" cy="1547.6" r="10.8"/><circle cx="1627.8" cy="1551.2" r="10.8"/><circle cx="1641.6" cy="1554.6" r="10.8"/><circle cx="1655.1" cy="1551.3" r="10.8"/><circle cx="1667.5" cy="1550.0" r="10.8"/><circle cx="1730.0" cy="1549.3" r="10.8"/><circle cx="1787.0" cy="1539.2" r="10.8"/><circle cx="1839.4" cy="1539.1" r="10.8"/><circle cx="1887.9" cy="1536.7" r="10.8"/><circle cx="1933.1" cy="1536.7" r="10.8"/><circle cx="2015.1" cy="1534.9" r="10.8"/><circle cx="2087.9" cy="1529.1" r="10.8"/><circle cx="2153.5" cy="1530.0" r="10.8"/><circle cx="2213.0" cy="1530.5" r="10.8"/><circle cx="2267.6" cy="1526.4" r="10.8"/><circle cx="2318.0" cy="1520.6" r="10.8"/></g>
<g fill="#2c8f2c" stroke="#000" stroke-width="4"><circle cx="471.8" cy="2158.8" r="9.6"/><circle cx="481.9" cy="2129.8" r="9.6"/><circle cx="491.9" cy="2110.0" r="9.6"/><circle cx="501.6" cy="2094.4" r="9.6"/><circle cx="511.3" cy="2070.6" r="9.6"/><circle cx="520.8" cy="2050.3" r="9.6"/><circle cx="530.2" cy="2032.9" r="9.6"/><circle cx="539.4" cy="2011.8" r="9.6"/><circle cx="548.5" cy="1994.8" r="9.6"/><circle cx="557.5" cy="1988.2" r="9.6"/><circle cx="566.3" cy="1987.9" r="9.6"/><circle cx="575.1" cy="1994.1" r="9.6"/><circle cx="583.7" cy="2000.0" r="9.6"/><circle cx="592.2" cy="2009.9" r="9.6"/><circle cx="600.6" cy="2028.4" r="9.6"/><circle cx="608.9" cy="2046.2" r="9.6"/><circle cx="617.1" cy="2052.5" r="9.6"/><circle cx="625.2" cy="2051.9" r="9.6"/><circle cx="633.2" cy="2058.5" r="9.6"/><circle cx="641.1" cy="2061.4" r="9.6"/><circle cx="648.9" cy="2061.5" r="9.6"/><circle cx="656.6" cy="2067.5" r="9.6"/><circle cx="664.2" cy="2068.1" r="9.6"/><circle cx="671.7" cy="2065.1" r="9.6"/><circle cx="679.2" cy="2066.7" r="9.6"/><circle cx="686.6" cy="2066.8" r="9.6"/><circle cx="693.8" cy="2066.7" r="9.6"/><circle cx="701.0" cy="2069.3" r="9.6"/><circle cx="708.2" cy="2071.9" r="9.6"/><circle cx="715.2" cy="2074.7" r="9.6"/><circle cx="722.2" cy="2077.0" r="9.6"/><circle cx="729.1" cy="2079.3" r="9.6"/><circle cx="735.9" cy="2081.9" r="9.6"/><circle cx="742.7" cy="2084.6" r="9.6"/><circle cx="749.3" cy="2086.2" r="9.6"/><circle cx="756.0" cy="2090.7" r="9.6"/><circle cx="762.5" cy="2086.5" r="9.6"/><circle cx="769.0" cy="2086.7" r="9.6"/><circle cx="775.4" cy="2090.3" r="9.6"/><circle cx="781.8" cy="2082.9" r="9.6"/><circle cx="788.1" cy="2082.0" r="9.6"/><circle cx="794.3" cy="2084.3" r="9.6"/><circle cx="800.5" cy="2086.5" r="9.6"/><circle cx="806.6" cy="2082.0" r="9.6"/><circle cx="812.7" cy="2078.2" r="9.6"/><circle cx="818.7" cy="2079.7" r="9.6"/><circle cx="824.7" cy="2072.9" r="9.6"/><circle cx="830.6" cy="2067.8" r="9.6"/><circle cx="836.4" cy="2072.2" r="9.6"/><circle cx="842.2" cy="2075.5" r="9.6"/><circle cx="848.0" cy="2075.0" r="9.6"/><circle cx="853.7" cy="2072.9" r="9.6"/><circle cx="859.3" cy="2069.2" r="9.6"/><circle cx="864.9" cy="2066.3" r="9.6"/><circle cx="870.5" cy="2066.8" r="9.6"/><circle cx="876.0" cy="2062.7" r="9.6"/><circle cx="881.4" cy="2057.8" r="9.6"/><circle cx="892.2" cy="2058.9" r="9.6"/><circle cx="902.8" cy="2053.2" r="9.6"/><circle cx="913.3" cy="2054.3" r="9.6"/><circle cx="923.6" cy="2055.4" r="9.6"/><circle cx="933.7" cy="2050.8" r="9.6"/><circle cx="943.6" cy="2058.3" r="9.6"/><circle cx="953.5" cy="2055.8" r="9.6"/><circle cx="963.1" cy="2048.0" r="9.6"/><circle cx="972.7" cy="2053.1" r="9.6"/><circle cx="982.1" cy="2049.5" r="9.6"/><circle cx="991.3" cy="2041.3" r="9.6"/><circle cx="1000.4" cy="2040.9" r="9.6"/><circle cx="1009.5" cy="2035.4" r="9.6"/><circle cx="1018.3" cy="2026.3" r="9.6"/><circle cx="1027.1" cy="2017.6" r="9.6"/><circle cx="1035.8" cy="2011.0" r="9.6"/><circle cx="1044.3" cy="2003.7" r="9.6"/><circle cx="1052.7" cy="1991.7" r="9.6"/><circle cx="1061.0" cy="1976.7" r="9.6"/><circle cx="1069.3" cy="1963.4" r="9.6"/><circle cx="1077.4" cy="1951.5" r="9.6"/><circle cx="1085.4" cy="1947.2" r="9.6"/><circle cx="1093.3" cy="1939.7" r="9.6"/><circle cx="1101.1" cy="1932.7" r="9.6"/><circle cx="1108.9" cy="1935.4" r="9.6"/><circle cx="1116.5" cy="1926.4" r="9.6"/><circle cx="1124.0" cy="1916.9" r="9.6"/><circle cx="1131.5" cy="1915.3" r="9.6"/><circle cx="1138.9" cy="1916.1" r="9.6"/><circle cx="1146.2" cy="1911.7" r="9.6"/><circle cx="1153.4" cy="1905.6" r="9.6"/><circle cx="1160.5" cy="1902.7" r="9.6"/><circle cx="1167.6" cy="1898.4" r="9.6"/><circle cx="1174.6" cy="1899.3" r="9.6"/><circle cx="1181.5" cy="1893.6" r="9.6"/><circle cx="1188.4" cy="1886.7" r="9.6"/><circle cx="1195.1" cy="1886.4" r="9.6"/><circle cx="1201.8" cy="1884.8" r="9.6"/><circle cx="1208.5" cy="1876.6" r="9.6"/><circle cx="1215.0" cy="1872.4" r="9.6"/><circle cx="1221.5" cy="1871.8" r="9.6"/><circle cx="1228.0" cy="1866.5" r="9.6"/><circle cx="1234.3" cy="1862.3" r="9.6"/><circle cx="1240.7" cy="1853.4" r="9.6"/><circle cx="1246.9" cy="1849.8" r="9.6"/><circle cx="1253.1" cy="1854.8" r="9.6"/><circle cx="1259.2" cy="1854.8" r="9.6"/><circle cx="1265.3" cy="1850.3" r="9.6"/><circle cx="1271.4" cy="1852.7" r="9.6"/><circle cx="1277.3" cy="1855.9" r="9.6"/><circle cx="1283.2" cy="1846.8" r="9.6"/><circle cx="1289.1" cy="1839.9" r="9.6"/><circle cx="1294.9" cy="1828.2" r="9.6"/><circle cx="1300.7" cy="1811.8" r="9.6"/><circle cx="1306.4" cy="1813.9" r="9.6"/><circle cx="1312.0" cy="1813.0" r="9.6"/><circle cx="1317.6" cy="1806.3" r="9.6"/><circle cx="1323.2" cy="1802.4" r="9.6"/><circle cx="1328.7" cy="1794.5" r="9.6"/><circle cx="1334.2" cy="1788.8" r="9.6"/><circle cx="1345.0" cy="1777.4" r="9.6"/><circle cx="1355.6" cy="1758.6" r="9.6"/><circle cx="1366.1" cy="1747.7" r="9.6"/><circle cx="1376.4" cy="1744.9" r="9.6"/><circle cx="1386.5" cy="1744.7" r="9.6"/><circle cx="1396.5" cy="1738.5" r="9.6"/><circle cx="1406.3" cy="1730.9" r="9.6"/><circle cx="1416.0" cy="1729.8" r="9.6"/><circle cx="1425.6" cy="1726.4" r="9.6"/><circle cx="1435.0" cy="1728.7" r="9.6"/><circle cx="1444.3" cy="1726.7" r="9.6"/><circle cx="1453.4" cy="1718.0" r="9.6"/><circle cx="1462.4" cy="1714.4" r="9.6"/><circle cx="1471.3" cy="1715.1" r="9.6"/><circle cx="1480.1" cy="1710.0" r="9.6"/><circle cx="1488.8" cy="1705.7" r="9.6"/><circle cx="1497.3" cy="1710.8" r="9.6"/><circle cx="1505.7" cy="1711.4" r="9.6"/><circle cx="1514.1" cy="1703.7" r="9.6"/><circle cx="1522.3" cy="1696.5" r="9.6"/><circle cx="1538.5" cy="1690.1" r="9.6"/><circle cx="1554.2" cy="1682.2" r="9.6"/><circle cx="1569.6" cy="1681.2" r="9.6"/><circle cx="1584.6" cy="1683.2" r="9.6"/><circle cx="1599.3" cy="1678.2" r="9.6"/><circle cx="1613.7" cy="1668.7" r="9.6"/><circle cx="1627.8" cy="1660.5" r="9.6"/><circle cx="1641.6" cy="1660.4" r="9.6"/><circle cx="1655.1" cy="1658.5" r="9.6"/><circle cx="1667.5" cy="1652.5" r="9.6"/><circle cx="1730.0" cy="1636.0" r="9.6"/><circle cx="1787.0" cy="1612.8" r="9.6"/><circle cx="1839.4" cy="1595.5" r="9.6"/><circle cx="1887.9" cy="1578.7" r="9.6"/><circle cx="1933.1" cy="1569.1" r="9.6"/><circle cx="2015.1" cy="1547.6" r="9.6"/><circle cx="2087.9" cy="1528.0" r="9.6"/><circle cx="2153.5" cy="1511.1" r="9.6"/><circle cx="2213.0" cy="1508.7" r="9.6"/><circle cx="2267.6" cy="1495.6" r="9.6"/><circle cx="2318.0" cy="1485.0" r="9.6"/></g>
<path d="M473.0 1899.0L478.0 1888.3L483.0 1877.8L488.0 1867.4L493.0 1856.9L498.0 1846.2L503.0 1835.1L508.0 1823.9L513.0 1812.6L518.0 1801.6L523.0 1790.9L528.0 1780.1L533.0 1770.0L538.0 1761.4L543.0 1753.8L548.0 1747.7L553.0 1743.8L558.0 1740.7L563.0 1739.3L568.0 1740.0L573.0 1741.7L578.0 1744.0L583.0 1747.0L588.0 1751.4L593.0 1756.3L598.0 1760.8L603.0 1765.2L608.0 1769.6L613.0 1773.2L618.0 1775.6L623.0 1777.6L628.0 1779.1L633.0 1779.9L638.0 1779.8L643.0 1779.2L648.0 1778.5L653.0 1777.6L658.0 1776.5L663.0 1774.8L668.0 1773.0L673.0 1771.3L678.0 1770.4L683.0 1769.6L688.0 1768.9L693.0 1768.6L698.0 1768.6L703.0 1768.8L708.0 1769.0L713.0 1769.2L718.0 1769.4L723.0 1769.3L728.0 1768.9L733.0 1768.2L738.0 1767.3L743.0 1766.3L748.0 1765.2L753.0 1763.8L758.0 1762.1L763.0 1760.2L768.0 1758.2L773.0 1756.2L778.0 1754.1L783.0 1751.9L788.0 1749.6L793.0 1747.3L798.0 1745.0L803.0 1742.7L808.0 1740.4L813.0 1738.1L818.0 1735.8L823.0 1733.6L828.0 1731.5L833.0 1729.5L838.0 1727.5L843.0 1725.6L848.0 1723.6L853.0 1721.6L858.0 1719.6L863.0 1717.6L868.0 1715.6L873.0 1713.6L878.0 1711.6L883.0 1709.7L888.0 1707.8L893.0 1705.8L898.0 1703.6L903.0 1700.7L908.0 1697.6L913.0 1695.6L918.0 1693.9L923.0 1692.3L928.0 1690.8L933.0 1689.0L938.0 1686.9L943.0 1684.6L948.0 1682.1L953.0 1679.6L958.0 1676.9L963.0 1674.2L968.0 1671.3L973.0 1668.3L978.0 1665.3L983.0 1662.2L988.0 1659.1L993.0 1656.2L998.0 1653.2L1003.0 1650.3L1008.0 1647.4L1013.0 1644.2L1018.0 1640.9L1023.0 1637.2L1028.0 1633.4L1033.0 1629.5L1038.0 1625.6L1043.0 1622.0L1048.0 1618.6L1053.0 1615.3L1058.0 1612.1L1063.0 1608.9L1068.0 1605.7L1073.0 1602.4L1078.0 1599.1L1083.0 1595.9L1088.0 1592.6L1093.0 1589.4L1098.0 1586.3L1103.0 1583.2L1108.0 1580.2L1113.0 1577.2L1118.0 1574.3L1123.0 1571.3L1128.0 1568.3L1133.0 1565.3L1138.0 1562.3L1143.0 1559.3L1148.0 1556.3L1153.0 1553.3L1158.0 1550.1L1163.0 1546.9L1168.0 1543.8L1173.0 1540.8L1178.0 1538.2L1183.0 1535.8L1188.0 1533.5L1193.0 1531.4L1198.0 1529.4L1203.0 1527.8L1208.0 1526.4L1213.0 1525.1L1218.0 1523.9L1223.0 1522.9L1228.0 1522.1L1233.0 1521.5L1238.0 1521.1L1243.0 1520.8L1248.0 1520.5L1253.0 1520.2L1258.0 1520.1L1263.0 1520.1L1268.0 1520.4L1273.0 1520.8L1278.0 1521.5L1283.0 1522.1L1288.0 1522.9L1293.0 1524.0L1298.0 1525.4L1303.0 1527.1L1308.0 1528.8L1313.0 1530.5L1318.0 1532.0L1323.0 1533.5L1328.0 1535.0L1333.0 1536.5L1338.0 1538.0L1343.0 1539.5L1348.0 1541.1L1353.0 1542.8L1358.0 1544.4L1363.0 1545.9L1368.0 1547.1L1373.0 1548.1L1378.0 1549.0L1383.0 1549.8L1388.0 1550.5L1393.0 1551.1L1398.0 1551.6L1403.0 1552.1L1408.0 1552.5L1413.0 1552.9L1418.0 1553.3L1423.0 1553.6L1428.0 1553.8L1433.0 1554.0L1438.0 1554.3L1443.0 1554.5L1448.0 1554.7L1453.0 1554.8L1458.0 1555.0L1463.0 1555.1L1468.0 1555.2L1473.0 1555.2L1478.0 1555.2L1483.0 1555.2L1488.0 1555.1L1493.0 1555.0L1498.0 1554.9L1503.0 1554.7L1508.0 1554.6L1513.0 1554.5L1518.0 1554.5L1523.0 1554.4L1528.0 1554.4L1533.0 1554.4L1538.0 1554.4L1543.0 1554.4L1548.0 1554.4L1553.0 1554.4L1558.0 1554.4L1563.0 1554.4L1568.0 1554.4L1573.0 1554.4L1578.0 1554.4L1583.0 1554.4L1588.0 1554.3L1593.0 1554.2L1598.0 1554.1L1603.0 1554.0L1608.0 1553.8L1613.0 1553.7L1618.0 1553.5L1623.0 1553.3L1628.0 1553.1L1633.0 1552.9L1638.0 1552.7L1643.0 1552.4L1648.0 1552.1L1653.0 1551.8L1658.0 1551.5L1663.0 1551.2L1668.0 1551.0L1673.0 1550.7L1678.0 1550.5L1683.0 1550.2L1688.0 1549.9L1693.0 1549.6L1698.0 1549.2L1703.0 1548.8L1708.0 1548.3L1713.0 1547.9L1718.0 1547.5L1723.0 1547.2L1728.0 1546.9L1733.0 1546.6L1738.0 1546.4L1743.0 1546.1L1748.0 1545.8L1753.0 1545.6L1758.0 1545.3L1763.0 1545.0L1768.0 1544.6L1773.0 1544.3L1778.0 1544.0L1783.0 1543.8L1788.0 1543.6L1793.0 1543.5L1798.0 1543.4L1803.0 1543.3L1808.0 1543.2L1813.0 1543.1L1818.0 1543.0L1823.0 1542.9L1828.0 1542.8L1833.0 1542.7L1838.0 1542.6L1843.0 1542.5L1848.0 1542.4L1853.0 1542.2L1858.0 1542.1L1863.0 1541.9L1868.0 1541.8L1873.0 1541.6L1878.0 1541.5L1883.0 1541.3L1888.0 1541.2L1893.0 1541.0L1898.0 1540.9L1903.0 1540.7L1908.0 1540.6L1913.0 1540.4L1918.0 1540.2L1923.0 1540.1L1928.0 1539.9L1933.0 1539.7L1938.0 1539.6L1943.0 1539.4L1948.0 1539.2L1953.0 1539.0L1958.0 1538.9L1963.0 1538.7L1968.0 1538.5L1973.0 1538.3L1978.0 1538.2L1983.0 1538.0L1988.0 1537.8L1993.0 1537.6L1998.0 1537.5L2003.0 1537.3L2008.0 1537.1L2013.0 1536.9L2018.0 1536.7L2023.0 1536.6L2028.0 1536.4L2033.0 1536.2L2038.0 1536.0L2043.0 1535.8L2048.0 1535.6L2053.0 1535.4L2058.0 1535.2L2063.0 1535.0L2068.0 1534.8L2073.0 1534.7L2078.0 1534.5L2083.0 1534.3L2088.0 1534.1L2093.0 1533.9L2098.0 1533.7L2103.0 1533.6L2108.0 1533.4L2113.0 1533.3L2118.0 1533.1L2123.0 1532.9L2128.0 1532.8L2133.0 1532.6L2138.0 1532.5L2143.0 1532.3L2148.0 1532.2L2153.0 1532.0L2158.0 1531.9L2163.0 1531.7L2168.0 1531.6L2173.0 1531.5L2178.0 1531.3L2183.0 1531.2L2188.0 1531.1L2193.0 1530.9L2198.0 1530.8L2203.0 1530.7L2208.0 1530.6L2213.0 1530.5L2218.0 1530.4L2223.0 1530.3L2228.0 1530.2L2233.0 1530.1L2238.0 1530.0L2243.0 1529.9L2248.0 1529.8L2253.0 1529.7L2258.0 1529.6L2263.0 1529.5L2268.0 1529.4L2273.0 1529.3L2278.0 1529.2L2283.0 1529.1L2288.0 1529.0L2293.0 1529.0L2298.0 1528.9L2303.0 1528.8L2308.0 1528.7L2313.0 1528.7L2318.0 1528.6L2323.0 1528.5L2328.0 1528.5L2333.0 1528.4L2338.0 1528.3L2349.6 1528.3" fill="none" stroke="#ff0000" stroke-opacity="0.8" stroke-width="14.2" stroke-linejoin="round"/>
<path d="M473.0 2142.5L478.0 2132.5L483.0 2122.6L488.0 2112.6L493.0 2102.2L498.0 2091.3L503.0 2080.3L508.0 2069.4L513.0 2058.3L518.0 2047.4L523.0 2037.2L528.0 2027.3L533.0 2018.1L538.0 2010.3L543.0 2003.2L548.0 1997.5L553.0 1994.4L558.0 1992.4L563.0 1992.3L568.0 1994.6L573.0 1997.9L578.0 2002.3L583.0 2008.3L588.0 2014.9L593.0 2021.4L598.0 2028.5L603.0 2035.2L608.0 2040.8L613.0 2046.0L618.0 2050.3L623.0 2053.4L628.0 2055.8L633.0 2057.7L638.0 2059.0L643.0 2059.8L648.0 2060.4L653.0 2061.0L658.0 2061.7L663.0 2062.3L668.0 2062.8L673.0 2063.5L678.0 2064.4L683.0 2065.7L688.0 2067.2L693.0 2068.8L698.0 2070.5L703.0 2072.3L708.0 2074.1L713.0 2076.0L718.0 2077.7L723.0 2079.2L728.0 2080.6L733.0 2082.0L738.0 2083.3L743.0 2084.3L748.0 2085.1L753.0 2085.8L758.0 2086.5L763.0 2087.0L768.0 2087.4L773.0 2087.5L778.0 2087.3L783.0 2086.6L788.0 2085.8L793.0 2084.8L798.0 2083.8L803.0 2082.8L808.0 2081.6L813.0 2080.3L818.0 2079.0L823.0 2077.6L828.0 2076.2L833.0 2074.7L838.0 2073.2L843.0 2071.7L848.0 2070.2L853.0 2068.7L858.0 2067.1L863.0 2065.5L868.0 2063.9L873.0 2062.4L878.0 2061.2L883.0 2060.1L888.0 2059.0L893.0 2058.1L898.0 2057.2L903.0 2056.4L908.0 2055.7L913.0 2055.1L918.0 2054.5L923.0 2054.0L928.0 2053.6L933.0 2053.2L938.0 2052.9L943.0 2052.7L948.0 2052.5L953.0 2052.3L958.0 2052.0L963.0 2051.7L968.0 2051.1L973.0 2050.2L978.0 2049.2L983.0 2047.9L988.0 2046.5L993.0 2044.7L998.0 2042.1L1003.0 2038.9L1008.0 2034.4L1013.0 2028.9L1018.0 2023.8L1023.0 2018.9L1028.0 2014.1L1033.0 2009.2L1038.0 2004.1L1043.0 1998.8L1048.0 1993.1L1053.0 1987.0L1058.0 1980.7L1063.0 1974.5L1068.0 1968.5L1073.0 1963.1L1078.0 1957.8L1083.0 1952.8L1088.0 1947.9L1093.0 1943.1L1098.0 1938.3L1103.0 1933.3L1108.0 1928.8L1113.0 1925.7L1118.0 1923.8L1123.0 1922.0L1128.0 1919.9L1133.0 1917.8L1138.0 1915.6L1143.0 1913.3L1148.0 1911.0L1153.0 1908.5L1158.0 1905.9L1163.0 1903.1L1168.0 1900.3L1173.0 1897.4L1178.0 1894.6L1183.0 1891.9L1188.0 1889.3L1193.0 1886.7L1198.0 1883.9L1203.0 1881.1L1208.0 1878.0L1213.0 1874.3L1218.0 1870.4L1223.0 1866.5L1228.0 1863.0L1233.0 1860.3L1238.0 1858.5L1243.0 1857.0L1248.0 1855.6L1253.0 1854.3L1258.0 1852.9L1263.0 1851.1L1268.0 1849.3L1273.0 1847.3L1278.0 1844.8L1283.0 1841.2L1288.0 1836.0L1293.0 1830.4L1298.0 1825.3L1303.0 1820.4L1308.0 1815.4L1313.0 1810.4L1318.0 1805.1L1323.0 1799.7L1328.0 1794.2L1333.0 1788.6L1338.0 1783.0L1343.0 1777.5L1348.0 1771.6L1353.0 1765.5L1358.0 1759.6L1363.0 1754.2L1368.0 1749.6L1373.0 1745.9L1378.0 1742.8L1383.0 1740.5L1388.0 1738.8L1393.0 1737.5L1398.0 1736.3L1403.0 1734.9L1408.0 1733.4L1413.0 1731.9L1418.0 1730.3L1423.0 1728.7L1428.0 1727.1L1433.0 1725.3L1438.0 1723.5L1443.0 1721.7L1448.0 1720.0L1453.0 1718.3L1458.0 1716.7L1463.0 1715.1L1468.0 1713.6L1473.0 1712.2L1478.0 1711.0L1483.0 1710.1L1488.0 1709.2L1493.0 1708.3L1498.0 1707.2L1503.0 1705.9L1508.0 1704.1L1513.0 1702.0L1518.0 1699.8L1523.0 1697.6L1528.0 1695.7L1533.0 1693.8L1538.0 1692.0L1543.0 1690.2L1548.0 1688.6L1553.0 1687.1L1558.0 1685.7L1563.0 1684.5L1568.0 1683.2L1573.0 1682.1L1578.0 1681.0L1583.0 1680.0L1588.0 1679.2L1593.0 1678.2L1598.0 1677.2L1603.0 1675.9L1608.0 1674.1L1613.0 1672.1L1618.0 1669.9L1623.0 1667.7L1628.0 1665.8L1633.0 1664.0L1638.0 1662.2L1643.0 1660.5L1648.0 1658.8L1653.0 1657.1L1658.0 1655.5L1663.0 1653.8L1668.0 1652.3L1673.0 1650.9L1678.0 1649.5L1683.0 1648.2L1688.0 1646.9L1693.0 1645.6L1698.0 1644.4L1703.0 1643.1L1708.0 1641.8L1713.0 1640.5L1718.0 1639.1L1723.0 1637.7L1728.0 1636.2L1733.0 1634.5L1738.0 1632.8L1743.0 1630.9L1748.0 1629.0L1753.0 1627.0L1758.0 1624.9L1763.0 1622.9L1768.0 1620.8L1773.0 1618.7L1778.0 1616.7L1783.0 1614.8L1788.0 1613.0L1793.0 1611.2L1798.0 1609.4L1803.0 1607.7L1808.0 1606.0L1813.0 1604.3L1818.0 1602.6L1823.0 1600.9L1828.0 1599.3L1833.0 1597.6L1838.0 1596.0L1843.0 1594.3L1848.0 1592.7L1853.0 1591.0L1858.0 1589.4L1863.0 1587.8L1868.0 1586.2L1873.0 1584.6L1878.0 1583.0L1883.0 1581.5L1888.0 1580.1L1893.0 1578.6L1898.0 1577.3L1903.0 1575.9L1908.0 1574.6L1913.0 1573.4L1918.0 1572.1L1923.0 1570.8L1928.0 1569.5L1933.0 1568.1L1938.0 1566.8L1943.0 1565.4L1948.0 1564.0L1953.0 1562.6L1958.0 1561.2L1963.0 1559.8L1968.0 1558.4L1973.0 1557.0L1978.0 1555.6L1983.0 1554.2L1988.0 1552.8L1993.0 1551.5L1998.0 1550.1L2003.0 1548.8L2008.0 1547.4L2013.0 1546.1L2018.0 1544.9L2023.0 1543.6L2028.0 1542.3L2033.0 1541.1L2038.0 1539.8L2043.0 1538.6L2048.0 1537.4L2053.0 1536.2L2058.0 1535.0L2063.0 1533.8L2068.0 1532.6L2073.0 1531.4L2078.0 1530.3L2083.0 1529.1L2088.0 1528.0L2093.0 1526.9L2098.0 1525.8L2103.0 1524.7L2108.0 1523.6L2113.0 1522.5L2118.0 1521.4L2123.0 1520.3L2128.0 1519.3L2133.0 1518.2L2138.0 1517.2L2143.0 1516.2L2148.0 1515.2L2153.0 1514.2L2158.0 1513.2L2163.0 1512.2L2168.0 1511.2L2173.0 1510.3L2178.0 1509.4L2183.0 1508.4L2188.0 1507.5L2193.0 1506.6L2198.0 1505.6L2203.0 1504.7L2208.0 1503.7L2213.0 1502.7L2218.0 1501.7L2223.0 1500.7L2228.0 1499.7L2233.0 1498.6L2238.0 1497.6L2243.0 1496.6L2248.0 1495.5L2253.0 1494.5L2258.0 1493.5L2263.0 1492.5L2268.0 1491.5L2273.0 1490.5L2278.0 1489.5L2283.0 1488.6L2288.0 1487.6L2293.0 1486.7L2298.0 1485.7L2303.0 1484.8L2308.0 1483.9L2313.0 1482.9L2318.0 1482.0L2323.0 1481.1L2328.0 1480.2L2333.0 1479.3L2338.0 1478.4L2349.6 1477.8" fill="none" stroke="#ff0000" stroke-opacity="0.8" stroke-width="14.2" stroke-linejoin="round"/>
</g>
<rect x="380.5" y="1442.3" width="1961.2" height="742.6" fill="none" stroke="#000" stroke-width="2.8"/>
<path d="M380.5 2184.9v7M467.4 2184.9v7M544.5 2184.9v7M613.5 2184.9v7M1067.5 2184.9v7M1333.0 2184.9v7M1521.4 2184.9v7M1667.5 2184.9v7M1787.0 2184.9v7M1887.9 2184.9v7M1975.4 2184.9v7M380.5 1499.6h-6.5M380.5 1524.4h-6.5M380.5 1552.5h-6.5M380.5 1584.9h-6.5M380.5 1623.2h-6.5M380.5 1670.1h-6.5M380.5 1730.5h-6.5M380.5 1815.7h-6.5M380.5 1983.5h-6.5M380.5 2008.3h-6.5M380.5 2036.4h-6.5M380.5 2068.8h-6.5M380.5 2107.1h-6.5M380.5 2154.0h-6.5" stroke="#000" stroke-width="2" fill="none"/>
<path d="M380.5 1477.5h-11.5M380.5 1958.8h-11.5" stroke="#000" stroke-width="2.8" fill="none"/>
<text class="ls" x="618" y="2239.3" font-size="57.5" text-anchor="middle" fill="#000">1</text>
<text class="ls" x="1062" y="2239.3" font-size="57.5" text-anchor="middle" fill="#000">2</text>
<text class="ls" x="1324" y="2239.3" font-size="57.5" text-anchor="middle" fill="#000">3</text>
<text class="ls" x="1519" y="2239.3" font-size="57.5" text-anchor="middle" fill="#000">4</text>
<text class="ls" x="2112" y="2239.3" font-size="57.5" text-anchor="middle" fill="#000">10</text>
<text class="dj" x="225.5" y="1495.8" font-size="56">10<tspan font-size="39.2" dy="-20.5" dx="2">−4</tspan></text>
<text class="dj" x="225.5" y="1978.0" font-size="56">10<tspan font-size="39.2" dy="-20.5" dx="2">−5</tspan></text>
<text class="dj" x="1255" y="2319" font-size="71.5" font-style="italic">θ<tspan font-style="normal">/°</tspan></text>
<text class="dj" x="114.2" y="2153.5" font-size="67.4" text-anchor="start" fill="#000" transform="rotate(-90 114.2 2153.5)">Fluorescence intensity /</text>
<text class="dj" x="199.6" y="2153.5" font-size="67.4" text-anchor="start" fill="#000" transform="rotate(-90 199.6 2153.5)">incident photon</text>
<rect x="1156.5" y="1923.6" width="805" height="241" rx="9" ry="9" fill="#fff" fill-opacity="0.88" stroke="#d0d0d0" stroke-opacity="0.95" stroke-width="5"/>
<circle cx="1228.3" cy="1965.5" r="7.3" fill="#2c8f2c" stroke="#000" stroke-width="7"/>
<circle cx="1228.3" cy="2039.4" r="7.3" fill="#4169e1" stroke="#000" stroke-width="7"/>
<rect x="1165.4" y="2102" width="125.4" height="25" fill="#ff0000" fill-opacity="0.8"/>
<text class="dj" x="1320.5" y="1982.4" font-size="50.6">N-K<tspan font-style="italic">α</tspan></text>
<text class="dj" x="1320.5" y="2057.2" font-size="50.6">O-K<tspan font-style="italic">α</tspan></text>
<text class="dj" x="1320.5" y="2131.5" font-size="50.6">BO reconstruction, <tspan font-style="italic" stroke="#000" stroke-width="1.1" dx="3">φ</tspan><tspan dx="-9"> =</tspan><tspan dx="-5"> 0</tspan></text>
<rect x="1983.0" y="1735.8" width="347.3000000000002" height="436.20000000000005" fill="#000" opacity="0.6" filter="url(#sh2)"/>
<rect x="1980.0" y="1732.8" width="347.3" height="436.2" fill="#e7e1d0"/>
<path d="M1980 2108 H2034 Q2049 2108 2051.4 2089 L2085.6 1803 Q2088 1784.2 2104 1784.2 H2203 Q2219 1784.2 2221.4 1803 L2254.3 2089 Q2257 2108 2272 2108 H2327.3 V2128 H1980 Z" fill="#cdd4d8" stroke="#a9a79e" stroke-width="2.4"/>
<path d="M2057 2128 L2092.6 1812 Q2094.5 1794.5 2110 1794.5 H2195 Q2210.5 1794.5 2212.5 1812 L2249.3 2128 Z" fill="#aec9b8" stroke="#888" stroke-width="2.4"/>
<rect x="1980.0" y="2134" width="347.3" height="35.0" fill="#7a7570" stroke="#6a6662" stroke-width="1.5"/>
<rect x="1980.0" y="2127.6" width="347.3" height="6.6" fill="#4169e1"/>
<rect x="1980.0" y="1732.8" width="347.3" height="436.2" fill="none" stroke="#111" stroke-width="2.1" stroke-dasharray="12.5 5"/>
<text class="lr" x="1990.5" y="1779.2" font-size="58" text-anchor="start" fill="#111">best-fit model</text>
</svg>
</body></html>
